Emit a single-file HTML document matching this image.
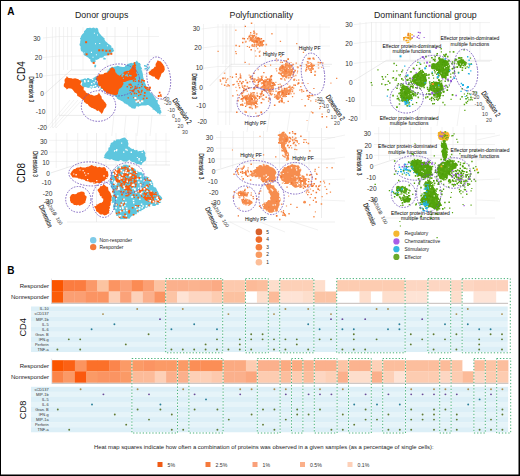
<!DOCTYPE html>
<html><head><meta charset="utf-8"><style>
html,body{margin:0;padding:0;background:#fff;}
#wrap{position:relative;width:520px;height:476px;overflow:hidden;background:#fff;}
svg{position:absolute;left:0;top:0;}
</style></head><body><div id="wrap">
<svg width="520" height="476" viewBox="0 0 520 476">
<rect x="0" y="0" width="520" height="476" fill="#fff"/>
<text x="7.3" y="14.6" font-size="10" font-weight="bold" fill="#000" font-family="&quot;Liberation Sans&quot;, sans-serif">A</text><text x="75" y="18.1" font-size="8.8" fill="#222" font-family="&quot;Liberation Sans&quot;, sans-serif">Donor groups</text><text x="229.6" y="18.1" font-size="8.8" fill="#222" font-family="&quot;Liberation Sans&quot;, sans-serif">Polyfunctionality</text><text x="374" y="18.1" font-size="8.8" fill="#222" font-family="&quot;Liberation Sans&quot;, sans-serif">Dominant functional group</text><line x1="46.6" y1="27" x2="46.6" y2="128" stroke="#e4e4e4" stroke-width="0.5"/><line x1="52.4" y1="27" x2="52.4" y2="128" stroke="#e4e4e4" stroke-width="0.5"/><line x1="55.8" y1="27" x2="55.8" y2="128" stroke="#e4e4e4" stroke-width="0.5"/><line x1="59.3" y1="27" x2="59.3" y2="116" stroke="#dcdcdc" stroke-width="0.5"/><line x1="115" y1="27" x2="115" y2="70" stroke="#dcdcdc" stroke-width="0.5"/><line x1="63.6" y1="27" x2="63.6" y2="70" stroke="#e4e4e4" stroke-width="0.5"/><line x1="67.6" y1="27" x2="67.6" y2="70" stroke="#e4e4e4" stroke-width="0.5"/><line x1="71.6" y1="27" x2="71.6" y2="70" stroke="#e4e4e4" stroke-width="0.5"/><line x1="83" y1="27" x2="83" y2="70" stroke="#e4e4e4" stroke-width="0.5"/><line x1="95" y1="27" x2="95" y2="70" stroke="#e4e4e4" stroke-width="0.5"/><line x1="107" y1="27" x2="107" y2="70" stroke="#e4e4e4" stroke-width="0.5"/><line x1="127.5" y1="27" x2="127.5" y2="70" stroke="#e4e4e4" stroke-width="0.5"/><line x1="137.5" y1="27" x2="137.5" y2="70" stroke="#e4e4e4" stroke-width="0.5"/><line x1="148.75" y1="27" x2="148.75" y2="70" stroke="#e4e4e4" stroke-width="0.5"/><line x1="43" y1="38" x2="59.3" y2="36.5" stroke="#e4e4e4" stroke-width="0.5"/><line x1="59.3" y1="36.5" x2="159" y2="36.5" stroke="#e4e4e4" stroke-width="0.5"/><line x1="43" y1="57.5" x2="59.3" y2="56.0" stroke="#e4e4e4" stroke-width="0.5"/><line x1="59.3" y1="56.0" x2="159" y2="56.0" stroke="#e4e4e4" stroke-width="0.5"/><line x1="43" y1="76" x2="59.3" y2="74.5" stroke="#e4e4e4" stroke-width="0.5"/><line x1="59.3" y1="74.5" x2="159" y2="74.5" stroke="#e4e4e4" stroke-width="0.5"/><line x1="44" y1="94.3" x2="71.2" y2="70" stroke="#d6d6d6" stroke-width="0.5"/><line x1="71.2" y1="70" x2="160" y2="70" stroke="#d6d6d6" stroke-width="0.5"/><line x1="59.3" y1="115.4" x2="166" y2="115.4" stroke="#d6d6d6" stroke-width="0.5"/><line x1="113.8" y1="115.6" x2="111.8" y2="136" stroke="#e4e4e4" stroke-width="0.5"/><line x1="126" y1="115.6" x2="124" y2="136" stroke="#e4e4e4" stroke-width="0.5"/><line x1="139" y1="115.6" x2="137" y2="136" stroke="#e4e4e4" stroke-width="0.5"/><line x1="152" y1="115.6" x2="150" y2="136" stroke="#e4e4e4" stroke-width="0.5"/><line x1="47" y1="128" x2="70" y2="100" stroke="#e4e4e4" stroke-width="0.5"/><line x1="50" y1="128" x2="74" y2="100" stroke="#e4e4e4" stroke-width="0.5"/><line x1="53" y1="128" x2="78" y2="100" stroke="#e4e4e4" stroke-width="0.5"/><line x1="56" y1="128" x2="82" y2="100" stroke="#e4e4e4" stroke-width="0.5"/><text x="40.5" y="41.099999999999994" font-size="6.6" text-anchor="end" fill="#333" font-family="&quot;Liberation Sans&quot;, sans-serif" >30</text><text x="42.2" y="60.3" font-size="6.6" text-anchor="end" fill="#333" font-family="&quot;Liberation Sans&quot;, sans-serif" >20</text><text x="42.7" y="78.3" font-size="6.6" text-anchor="end" fill="#333" font-family="&quot;Liberation Sans&quot;, sans-serif" >10</text><text x="43.8" y="96.3" font-size="6.6" text-anchor="end" fill="#333" font-family="&quot;Liberation Sans&quot;, sans-serif" >0</text><text x="45.3" y="114.3" font-size="6.6" text-anchor="end" fill="#333" font-family="&quot;Liberation Sans&quot;, sans-serif" >-10</text><text x="47" y="130.3" font-size="6.6" text-anchor="end" fill="#333" font-family="&quot;Liberation Sans&quot;, sans-serif" >-20</text><text x="0" y="0" font-size="8" text-anchor="start" fill="#111" font-family="&quot;Liberation Sans&quot;, sans-serif" transform="translate(28.8,76.5) rotate(90) scale(0.58,1)" stroke="#111" stroke-width="0.12">Dimension 3</text><text x="0" y="0" font-size="10" text-anchor="middle" fill="#111" font-family="&quot;Liberation Sans&quot;, sans-serif" transform="translate(24.9,71.3) rotate(-90)">CD4</text><polygon points="84.0,31.2 85.7,29.8 86.1,28.7 87.2,28.1 89.3,27.9 89.9,27.4 91.3,28.3 93.5,27.4 95.4,28.4 96.4,27.7 96.6,27.7 97.9,28.6 98.3,29.7 98.5,31.5 99.6,33.6 100.4,34.3 101.0,35.3 101.6,35.8 103.7,37.8 104.8,38.4 104.4,38.9 104.7,39.9 105.7,41.6 106.8,42.2 107.9,43.5 107.6,43.3 110.1,44.9 111.5,46.1 111.2,47.4 113.2,47.9 113.2,49.0 114.2,51.1 112.8,51.9 111.5,52.7 111.2,53.8 109.7,54.6 108.0,55.3 106.8,55.5 105.3,55.7 103.9,56.0 103.6,57.2 101.3,57.8 99.8,57.7 99.2,58.7 96.6,60.0 95.8,60.3 95.6,61.7 93.4,62.8 91.8,62.5 90.7,61.5 90.3,60.3 90.4,59.3 89.2,58.8 87.7,57.1 87.7,57.4 85.7,55.9 85.4,55.9 83.7,54.9 83.6,53.4 82.3,51.4 81.1,51.2 80.7,49.5 80.5,48.4 80.7,46.4 79.8,45.8 79.4,43.8 80.1,43.4 80.2,41.2 80.6,39.8 79.9,38.5 81.0,36.9 81.1,35.9 82.3,34.3 82.7,34.1 84.1,32.6" fill="#5ec6de" /><rect x="85.1" y="41.2" width="2" height="2" fill="#fa5a0a"/><rect x="98.2" y="49.3" width="2" height="2" fill="#fa5a0a"/><rect x="101.7" y="49.3" width="2" height="2" fill="#fa5a0a"/><rect x="105.3" y="49.8" width="2" height="2" fill="#fa5a0a"/><rect x="108.8" y="49.8" width="2" height="2" fill="#fa5a0a"/><rect x="107.3" y="53.3" width="2" height="2" fill="#fa5a0a"/><rect x="110.3" y="52.8" width="2" height="2" fill="#fa5a0a"/><rect x="85.6" y="53.3" width="2" height="2" fill="#fa5a0a"/><rect x="92.7" y="61.9" width="2" height="2" fill="#fa5a0a"/><path d="M94.6 64.7h1.6v1.6h-1.6zM94.3 65.6h1.7v1.7h-1.7z" fill="#5ec6de"/><path d="M103.3 57.8h1.7v1.7h-1.7zM104.2 57.9h1.5v1.5h-1.5z" fill="#5ec6de"/><path d="M83.8 52.4h0.9v0.9h-0.9zM106.9 45.2h1.0v1.0h-1.0zM95.0 43.3h1.0v1.0h-1.0zM95.9 54.2h1.0v1.0h-1.0zM95.5 59.7h1.0v1.0h-1.0zM92.5 56.8h1.0v1.0h-1.0zM90.9 51.8h1.1v1.1h-1.1zM97.0 34.4h1.0v1.0h-1.0zM99.2 42.9h1.1v1.1h-1.1zM93.9 32.7h1.0v1.0h-1.0z" fill="#ffffff"/><polygon points="110.0,68.3 111.6,66.9 111.9,66.8 113.6,67.0 115.6,66.4 116.6,66.3 117.2,65.7 118.5,66.1 119.6,66.5 121.0,66.8 122.8,66.9 124.9,66.8 124.4,67.2 125.8,64.9 127.3,65.2 127.2,64.1 128.6,63.7 130.7,63.1 132.1,62.7 132.6,63.4 134.2,62.2 135.9,61.8 136.8,60.5 138.4,62.7 139.9,63.0 140.0,63.2 140.9,64.9 140.3,65.4 141.0,67.1 142.1,68.3 141.2,70.1 142.2,70.8 142.3,72.1 142.9,74.0 142.9,75.1 143.2,76.6 143.2,77.2 143.9,79.0 143.7,80.0 144.1,81.0 145.3,83.5 146.0,84.9 146.2,86.3 147.1,86.2 148.4,88.4 147.8,88.4 149.7,89.6 149.5,90.1 150.0,92.2 152.4,93.8 152.5,93.3 153.1,95.6 154.7,96.4 154.5,97.3 155.7,98.5 156.1,100.1 157.9,99.9 157.5,102.3 158.0,103.8 158.9,104.7 159.7,105.2 159.5,106.6 160.6,108.5 160.1,110.1 161.0,110.3 161.5,112.8 160.6,113.3 160.1,114.9 158.8,113.3 157.5,113.4 156.8,112.1 155.0,110.8 154.5,110.0 152.3,109.2 152.7,108.3 151.6,107.4 150.0,106.2 148.3,104.9 146.9,105.1 146.4,105.5 144.4,105.6 142.3,105.6 141.8,105.5 139.7,105.9 138.4,106.7 136.6,106.0 135.8,107.7 135.5,108.4 134.7,108.7 131.7,108.3 130.8,107.3 130.1,106.8 128.3,106.1 128.4,104.9 126.4,104.3 125.1,103.5 124.1,103.2 123.4,102.1 121.8,101.0 121.5,100.9 119.3,99.8 118.8,99.8 116.7,98.3 116.5,97.1 115.3,96.5 114.6,95.8 113.0,94.9 111.9,94.3 110.3,93.8 108.9,93.0 107.6,93.1 106.5,91.6 106.2,91.2 105.3,91.0 103.3,90.7 102.9,89.1 100.5,88.9 100.5,88.2 101.0,86.7 101.3,85.4 101.5,84.5 102.0,83.4 103.3,81.9 102.9,80.9 104.6,80.3 103.7,79.6 105.6,78.5 105.3,77.3 105.8,75.2 107.3,75.2 106.8,74.2 107.0,72.1 107.6,70.8 108.4,70.6 109.1,68.6" fill="#5ec6de" /><polygon points="80.3,79.8 82.7,79.2 83.3,78.9 85.2,78.3 86.5,79.3 87.3,77.9 88.5,77.9 89.9,79.0 91.7,78.9 92.7,78.2 94.7,77.3 96.3,76.1 96.9,77.0 98.0,76.0 100.5,77.2 99.6,78.3 100.7,79.2 99.3,80.7 99.4,81.9 99.2,83.9 100.6,84.5 99.8,85.6 99.5,87.2 97.6,86.4 95.4,88.0 94.1,88.0 93.2,87.0 91.5,88.7 90.3,88.1 89.8,87.5 88.0,88.1 87.1,87.4 85.4,87.1 83.9,87.3 82.5,86.7 81.6,84.5 82.5,82.6 81.2,82.1" fill="#5ec6de" /><path d="M93.3 82.0h1.1v1.1h-1.1zM93.8 82.4h1.2v1.2h-1.2zM87.5 80.3h1.6v1.6h-1.6zM91.2 86.2h1.3v1.3h-1.3zM84.0 80.0h1.5v1.5h-1.5zM96.4 80.9h1.1v1.1h-1.1zM94.9 80.3h1.3v1.3h-1.3zM93.0 85.7h1.4v1.4h-1.4zM96.7 80.8h1.7v1.7h-1.7zM84.2 80.9h1.5v1.5h-1.5zM89.9 86.3h1.3v1.3h-1.3zM91.8 78.4h1.5v1.5h-1.5zM94.8 85.1h1.5v1.5h-1.5zM91.0 83.1h1.4v1.4h-1.4z" fill="#fff"/><path d="M144.5 67.9h1.6v1.6h-1.6zM146.8 68.9h1.5v1.5h-1.5zM148.7 66.4h1.3v1.3h-1.3zM145.7 67.7h1.4v1.4h-1.4zM147.7 67.5h1.6v1.6h-1.6zM144.0 65.0h1.5v1.5h-1.5zM146.8 63.8h1.3v1.3h-1.3zM145.4 65.4h1.7v1.7h-1.7z" fill="#5ec6de"/><polygon points="63.9,84.0 64.8,82.8 64.5,80.5 64.8,79.1 66.4,77.4 66.8,75.9 68.1,77.8 70.5,78.3 70.9,78.1 72.7,78.7 75.1,78.3 76.8,78.7 78.5,79.3 79.1,79.9 81.0,80.4 81.3,81.2 81.3,82.5 80.2,84.2 82.2,86.2 83.8,87.1 83.7,88.7 83.7,90.2 85.2,90.8 85.9,92.6 87.5,93.3 89.5,94.1 90.3,94.7 91.8,94.8 93.2,95.5 94.3,95.7 96.8,95.0 98.1,94.2 98.8,92.6 100.8,95.7 101.4,96.3 101.9,98.9 103.6,99.9 103.7,101.0 105.0,101.9 105.7,103.3 106.6,104.5 106.3,105.9 106.1,106.9 105.0,108.1 103.9,109.6 103.1,111.8 102.6,112.7 101.4,114.3 101.3,113.1 99.8,111.9 98.9,110.6 97.1,111.1 95.7,109.4 94.4,109.0 92.5,108.1 91.3,107.8 89.8,106.4 89.4,106.6 88.4,105.2 87.6,104.0 85.6,103.5 85.8,102.9 84.0,102.0 84.0,100.5 82.7,99.7 81.2,98.6 80.1,97.6 78.6,96.6 77.3,96.1 77.0,94.0 76.2,93.2 74.7,92.4 73.5,90.7 72.6,89.7 72.1,88.9 70.7,88.5 68.6,88.2 66.7,89.5 66.4,88.9 66.3,88.6 64.4,86.9 63.7,86.2" fill="#fa5a0a" /><polygon points="96.5,76.3 98.4,75.8 98.9,74.1 100.9,74.5 101.7,74.3 103.3,74.3 104.3,73.0 106.8,72.6 107.3,72.7 108.6,70.9 109.3,70.7 109.5,69.8 110.3,68.5 112.3,67.2 114.3,68.8 115.1,70.1 115.4,72.3 116.3,72.9 117.2,74.5 117.7,74.6 119.7,76.0 119.8,75.2 120.9,75.0 122.3,73.3 123.8,72.6 124.1,71.8 125.8,71.3 127.1,70.7 128.6,71.1 129.9,69.7 131.2,68.6 132.1,66.5 132.8,65.1 134.0,64.9 133.6,62.5 135.2,61.9 135.3,64.2 136.4,65.0 135.4,66.5 136.0,67.3 135.7,68.8 136.7,70.8 136.3,71.9 136.1,73.1 137.6,74.8 136.7,76.6 136.1,76.7 134.9,77.6 134.5,78.8 134.0,79.2 131.7,80.0 131.3,79.9 129.7,80.2 128.0,80.7 127.1,81.1 125.0,82.0 123.2,82.1 123.5,84.0 122.7,85.2 122.1,86.7 120.4,88.2 119.9,88.4 118.9,89.1 118.4,91.4 118.0,92.2 118.0,94.0 116.4,95.0 114.7,95.2 113.5,94.7 111.8,94.6 111.1,94.4 109.6,93.8 108.2,93.7 106.4,93.4 105.8,91.8 103.8,90.6 103.1,89.7 103.0,89.1 100.7,87.8 100.9,86.6 98.8,86.0 98.4,85.1 98.1,83.9 97.7,81.4 96.9,80.3 95.5,79.0 96.7,76.9" fill="#fa5a0a" /><path d="M126.3 73.8h1.2v1.2h-1.2zM125.1 74.7h1.6v1.6h-1.6zM126.4 74.5h1.5v1.5h-1.5zM121.4 75.1h1.7v1.7h-1.7zM130.0 75.0h1.6v1.6h-1.6zM127.8 72.1h1.1v1.1h-1.1zM129.0 74.8h1.2v1.2h-1.2zM121.7 73.3h1.7v1.7h-1.7zM122.8 77.8h1.1v1.1h-1.1zM129.5 74.9h1.4v1.4h-1.4zM127.3 76.0h1.1v1.1h-1.1zM122.6 73.7h1.6v1.6h-1.6z" fill="#5ec6de"/><polygon points="157.7,60.2 159.0,61.0 160.8,61.5 161.9,63.1 163.2,64.4 163.2,65.0 164.3,66.2 164.5,67.4 164.8,69.6 164.4,70.5 163.7,71.9 162.2,72.9 161.5,73.6 161.0,75.1 160.4,76.9 159.8,77.4 159.4,79.1 158.4,80.0 156.0,78.6 155.2,78.2 154.8,76.7 152.8,76.5 151.9,76.1 150.2,75.1 149.6,74.9 148.4,72.6 149.3,71.4 150.6,70.7 151.2,69.7 153.0,68.7 154.0,67.9 154.4,66.8 155.7,66.7 155.5,64.7 155.7,63.7 156.2,63.0" fill="#fa5a0a" /><path d="M142.7 97.8h1.6v1.6h-1.6zM131.2 89.9h1.7v1.7h-1.7zM140.6 81.2h1.5v1.5h-1.5zM137.4 90.0h1.4v1.4h-1.4zM134.2 87.5h1.7v1.7h-1.7zM138.1 95.1h1.2v1.2h-1.2zM148.3 89.0h1.7v1.7h-1.7zM135.5 87.8h1.4v1.4h-1.4zM132.7 89.2h1.8v1.8h-1.8zM133.7 92.6h1.7v1.7h-1.7zM146.1 97.4h1.5v1.5h-1.5zM130.0 87.0h1.5v1.5h-1.5zM138.1 91.3h1.7v1.7h-1.7zM138.4 99.9h1.3v1.3h-1.3zM149.2 87.0h1.7v1.7h-1.7zM138.0 80.1h1.6v1.6h-1.6zM143.6 94.9h1.7v1.7h-1.7zM140.9 100.1h1.7v1.7h-1.7zM130.6 93.2h1.5v1.5h-1.5zM127.5 97.2h1.4v1.4h-1.4zM141.1 89.8h1.6v1.6h-1.6zM146.4 88.9h1.5v1.5h-1.5zM126.6 86.1h1.3v1.3h-1.3zM129.7 83.6h1.6v1.6h-1.6zM139.6 93.8h1.4v1.4h-1.4zM144.1 86.1h1.6v1.6h-1.6zM135.9 93.0h1.2v1.2h-1.2zM141.8 79.5h1.4v1.4h-1.4zM132.8 80.1h1.7v1.7h-1.7zM145.1 87.1h1.8v1.8h-1.8zM146.8 86.9h1.7v1.7h-1.7zM129.4 89.7h1.3v1.3h-1.3zM141.1 86.0h1.2v1.2h-1.2zM141.1 79.3h1.5v1.5h-1.5zM138.9 87.0h1.4v1.4h-1.4zM135.3 96.9h1.3v1.3h-1.3zM144.0 92.1h1.7v1.7h-1.7zM148.4 88.2h1.5v1.5h-1.5zM137.1 101.0h1.5v1.5h-1.5zM137.0 87.3h1.3v1.3h-1.3zM143.2 80.0h1.7v1.7h-1.7zM130.4 84.6h1.5v1.5h-1.5zM141.5 83.8h1.5v1.5h-1.5zM135.5 99.8h1.2v1.2h-1.2zM132.4 78.6h1.2v1.2h-1.2zM128.5 83.8h1.7v1.7h-1.7zM131.6 86.2h1.4v1.4h-1.4zM149.3 86.4h1.3v1.3h-1.3zM140.7 91.5h1.2v1.2h-1.2zM132.5 90.6h1.7v1.7h-1.7zM134.6 85.7h1.5v1.5h-1.5zM133.2 96.9h1.3v1.3h-1.3zM140.1 93.7h1.4v1.4h-1.4zM135.0 80.8h1.2v1.2h-1.2zM134.2 78.3h1.7v1.7h-1.7z" fill="#fa5a0a"/><path d="M134.4 96.9h2.1v2.1h-2.1zM137.4 99.7h2.0v2.0h-2.0zM135.5 100.6h2.0v2.0h-2.0zM139.0 101.7h1.8v1.8h-1.8zM141.4 100.3h1.9v1.9h-1.9zM141.0 100.3h2.0v2.0h-2.0z" fill="#fff"/><path d="M159.0 91.7h1.3v1.3h-1.3zM159.9 94.2h1.6v1.6h-1.6zM160.4 95.8h1.3v1.3h-1.3zM158.8 91.7h1.7v1.7h-1.7zM157.8 95.1h1.8v1.8h-1.8z" fill="#fa5a0a"/><ellipse cx="158.7" cy="78" rx="11.7" ry="21.2" transform="rotate(-8.5 158.7 78)" fill="none" stroke="#6f52b8" stroke-width="0.85" stroke-dasharray="1.6 1.3"/><ellipse cx="118" cy="80" rx="21.5" ry="16" transform="rotate(-5 118 80)" fill="none" stroke="#6f52b8" stroke-width="0.85" stroke-dasharray="1.6 1.3"/><ellipse cx="98.5" cy="106" rx="17.2" ry="15.3" transform="rotate(-8 98.5 106)" fill="none" stroke="#6f52b8" stroke-width="0.85" stroke-dasharray="1.6 1.3"/><text x="0" y="0" font-size="7.4" text-anchor="start" fill="#111" font-family="&quot;Liberation Sans&quot;, sans-serif" transform="translate(172.2,100.5) rotate(57) scale(0.7,1)" stroke="#111" stroke-width="0.12">Dimension 2</text><text x="162" y="101" font-size="5.2" text-anchor="start" fill="#444" font-family="&quot;Liberation Sans&quot;, sans-serif" >-30</text><text x="164" y="105" font-size="5.2" text-anchor="start" fill="#444" font-family="&quot;Liberation Sans&quot;, sans-serif" >-20</text><text x="167.5" y="112" font-size="5.2" text-anchor="start" fill="#444" font-family="&quot;Liberation Sans&quot;, sans-serif" >-10</text><text x="172" y="117.5" font-size="5.2" text-anchor="start" fill="#444" font-family="&quot;Liberation Sans&quot;, sans-serif" >0</text><text x="174.5" y="122" font-size="5.2" text-anchor="start" fill="#444" font-family="&quot;Liberation Sans&quot;, sans-serif" >10</text><text x="177.5" y="128" font-size="5.2" text-anchor="start" fill="#444" font-family="&quot;Liberation Sans&quot;, sans-serif" >20</text><text x="182" y="134" font-size="5.2" text-anchor="start" fill="#444" font-family="&quot;Liberation Sans&quot;, sans-serif" >30</text><line x1="203.5" y1="24" x2="203.5" y2="125" stroke="#e4e4e4" stroke-width="0.5"/><line x1="218" y1="24" x2="218" y2="125" stroke="#e4e4e4" stroke-width="0.5"/><line x1="225.8" y1="24" x2="225.8" y2="125" stroke="#e4e4e4" stroke-width="0.5"/><line x1="229.6" y1="24" x2="229.6" y2="125" stroke="#e4e4e4" stroke-width="0.5"/><line x1="231" y1="24" x2="231" y2="112" stroke="#dcdcdc" stroke-width="0.5"/><line x1="222.9" y1="24" x2="222.9" y2="64" stroke="#e4e4e4" stroke-width="0.5"/><line x1="226.9" y1="24" x2="226.9" y2="64" stroke="#e4e4e4" stroke-width="0.5"/><line x1="234.3" y1="24" x2="234.3" y2="64" stroke="#e4e4e4" stroke-width="0.5"/><line x1="244.4" y1="24" x2="244.4" y2="64" stroke="#e4e4e4" stroke-width="0.5"/><line x1="254.5" y1="24" x2="254.5" y2="64" stroke="#e4e4e4" stroke-width="0.5"/><line x1="265.3" y1="24" x2="265.3" y2="64" stroke="#e4e4e4" stroke-width="0.5"/><line x1="276" y1="24" x2="276" y2="64" stroke="#e4e4e4" stroke-width="0.5"/><line x1="287" y1="24" x2="287" y2="64" stroke="#e4e4e4" stroke-width="0.5"/><line x1="298" y1="24" x2="298" y2="64" stroke="#e4e4e4" stroke-width="0.5"/><line x1="309" y1="24" x2="309" y2="64" stroke="#e4e4e4" stroke-width="0.5"/><line x1="320" y1="24" x2="320" y2="64" stroke="#e4e4e4" stroke-width="0.5"/><line x1="201.5" y1="29" x2="218" y2="27" stroke="#e4e4e4" stroke-width="0.5"/><line x1="218" y1="27" x2="330" y2="27" stroke="#e4e4e4" stroke-width="0.5"/><line x1="201.5" y1="48" x2="218" y2="46" stroke="#e4e4e4" stroke-width="0.5"/><line x1="218" y1="46" x2="330" y2="46" stroke="#e4e4e4" stroke-width="0.5"/><line x1="201.5" y1="68.5" x2="218" y2="66.5" stroke="#e4e4e4" stroke-width="0.5"/><line x1="218" y1="66.5" x2="330" y2="66.5" stroke="#e4e4e4" stroke-width="0.5"/><line x1="209.6" y1="86" x2="231" y2="64.3" stroke="#d6d6d6" stroke-width="0.5"/><line x1="231" y1="64.3" x2="332" y2="64.3" stroke="#d6d6d6" stroke-width="0.5"/><line x1="218" y1="112" x2="330" y2="112" stroke="#dcdcdc" stroke-width="0.5"/><line x1="250" y1="112" x2="247" y2="132" stroke="#e4e4e4" stroke-width="0.5"/><line x1="270" y1="112" x2="267" y2="132" stroke="#e4e4e4" stroke-width="0.5"/><line x1="290" y1="112" x2="287" y2="132" stroke="#e4e4e4" stroke-width="0.5"/><line x1="310" y1="112" x2="307" y2="132" stroke="#e4e4e4" stroke-width="0.5"/><text x="200" y="30.8" font-size="6.6" text-anchor="end" fill="#333" font-family="&quot;Liberation Sans&quot;, sans-serif" >30</text><text x="201.6" y="50.3" font-size="6.6" text-anchor="end" fill="#333" font-family="&quot;Liberation Sans&quot;, sans-serif" >20</text><text x="203" y="70.3" font-size="6.6" text-anchor="end" fill="#333" font-family="&quot;Liberation Sans&quot;, sans-serif" >10</text><text x="203" y="89.5" font-size="6.6" text-anchor="end" fill="#333" font-family="&quot;Liberation Sans&quot;, sans-serif" >0</text><text x="205.8" y="108.0" font-size="6.6" text-anchor="end" fill="#333" font-family="&quot;Liberation Sans&quot;, sans-serif" >-10</text><text x="207" y="124.3" font-size="6.6" text-anchor="end" fill="#333" font-family="&quot;Liberation Sans&quot;, sans-serif" >-20</text><text x="0" y="0" font-size="8" text-anchor="start" fill="#111" font-family="&quot;Liberation Sans&quot;, sans-serif" transform="translate(192,73.5) rotate(90) scale(0.58,1)" stroke="#111" stroke-width="0.12">Dimension 3</text><polygon points="265.5,80.7 266.6,78.9 268.4,78.3 270.0,79.0 271.1,80.5 271.1,81.1 272.5,82.3 274.2,83.3 273.4,84.9 272.9,85.9 274.1,87.5 274.2,88.8 272.4,89.5 271.2,90.2 271.4,92.6 270.4,92.5 268.9,92.5 267.0,93.2 265.8,91.1 264.5,91.4 263.4,90.0 263.0,88.3 262.6,87.5 261.3,86.7 263.1,85.3 262.8,84.0 263.6,81.7 265.0,81.5" fill="#f68d4e" /><path d="M271.3 83.5h1.2v1.2h-1.2zM271.7 83.8h1.1v1.1h-1.1zM266.2 86.4h1.2v1.2h-1.2zM267.4 78.5h1.1v1.1h-1.1zM267.1 91.1h1.3v1.3h-1.3zM267.8 80.1h1.1v1.1h-1.1zM266.2 89.3h1.3v1.3h-1.3zM269.7 89.8h1.4v1.4h-1.4zM266.4 79.7h1.3v1.3h-1.3zM269.0 86.8h1.4v1.4h-1.4z" fill="#ffffff"/><polygon points="279.2,67.2 279.9,66.7 281.4,65.1 283.3,64.3 285.0,64.3 285.3,63.5 287.2,63.7 287.9,64.3 289.3,65.2 290.5,64.8 291.4,64.7 292.1,66.8 292.7,67.8 293.4,69.5 292.8,70.7 293.7,72.2 292.4,73.2 291.5,74.7 291.8,75.1 290.7,75.7 289.8,76.1 287.3,76.5 287.3,77.5 285.3,77.3 284.9,76.8 282.6,77.8 282.0,76.7 281.1,75.7 280.0,73.8 279.9,72.3 280.3,72.5 279.5,70.9 279.0,69.1 279.5,68.2" fill="#f68d4e" /><path d="M282.1 73.7h1.3v1.3h-1.3zM290.7 67.6h1.2v1.2h-1.2zM283.5 65.1h1.1v1.1h-1.1zM282.6 69.7h1.0v1.0h-1.0zM283.5 64.3h1.0v1.0h-1.0zM280.1 71.4h1.3v1.3h-1.3zM284.9 68.6h1.1v1.1h-1.1zM280.9 70.7h1.2v1.2h-1.2zM287.9 67.7h1.1v1.1h-1.1zM292.2 66.9h1.1v1.1h-1.1z" fill="#ffffff"/><polygon points="274.0,96.5 274.8,96.5 276.3,94.5 277.6,94.6 277.3,93.2 278.8,91.7 279.7,91.9 280.4,90.7 282.3,89.9 283.6,89.8 284.2,88.3 284.5,88.6 285.9,87.8 288.2,87.3 288.7,86.0 289.4,85.6 292.0,87.4 292.0,87.3 292.6,90.0 291.3,90.1 290.7,92.4 289.6,93.5 289.0,93.7 288.7,93.6 286.7,94.4 285.5,96.3 284.3,97.1 283.8,97.2 282.8,97.0 281.2,97.7 280.1,98.0 279.3,99.0 278.3,100.1 277.5,100.0 275.7,98.7 275.5,97.4" fill="#f68d4e" /><path d="M288.3 88.0h1.3v1.3h-1.3zM281.0 95.8h1.0v1.0h-1.0zM280.9 96.2h1.3v1.3h-1.3zM280.2 93.7h1.4v1.4h-1.4zM280.1 92.4h1.3v1.3h-1.3zM280.9 91.3h1.1v1.1h-1.1zM287.6 88.2h1.3v1.3h-1.3zM286.9 93.2h1.2v1.2h-1.2zM281.8 94.9h1.0v1.0h-1.0zM290.4 86.6h1.0v1.0h-1.0z" fill="#ffffff"/><polygon points="243.5,96.8 244.8,95.9 247.1,94.7 248.2,95.1 248.2,93.3 250.3,94.9 251.4,94.9 253.3,95.5 254.2,94.8 255.4,96.2 256.0,97.5 256.9,98.2 258.3,99.6 257.2,100.8 258.2,100.8 256.8,102.8 256.9,104.6 255.1,103.7 255.1,105.3 253.2,105.2 252.1,106.6 251.2,105.6 249.0,104.9 248.3,105.2 247.8,104.8 246.4,104.6 245.8,102.3 246.0,101.6 245.6,100.7 244.8,99.3 243.9,98.6" fill="#f68d4e" /><path d="M247.4 99.7h1.2v1.2h-1.2zM251.2 104.4h1.2v1.2h-1.2zM252.5 98.1h1.2v1.2h-1.2zM255.3 99.0h1.4v1.4h-1.4zM253.0 99.3h1.0v1.0h-1.0zM249.1 93.7h1.1v1.1h-1.1zM251.8 104.5h1.3v1.3h-1.3zM251.9 97.2h1.1v1.1h-1.1zM248.1 95.5h1.1v1.1h-1.1zM251.4 105.0h1.3v1.3h-1.3z" fill="#ffffff"/><polygon points="249.9,36.1 251.8,36.1 252.2,34.8 254.4,35.3 255.2,36.5 256.1,36.2 256.7,36.5 258.5,37.9 259.0,38.2 260.7,39.5 260.3,40.8 262.4,40.5 263.3,41.5 262.9,44.0 264.4,44.0 263.4,45.8 262.1,46.7 260.7,46.3 260.3,46.9 259.0,45.9 258.1,45.8 256.2,45.0 255.2,44.0 254.8,43.5 253.3,42.6 251.9,41.7 250.9,40.0 250.9,38.6 250.0,37.4" fill="#f68d4e" /><path d="M253.2 38.5h1.1v1.1h-1.1zM261.2 41.4h1.1v1.1h-1.1zM259.1 44.0h1.1v1.1h-1.1zM255.2 42.7h1.2v1.2h-1.2zM257.7 41.6h1.0v1.0h-1.0zM254.7 38.6h1.3v1.3h-1.3zM256.4 37.0h1.1v1.1h-1.1zM254.1 36.6h1.3v1.3h-1.3zM260.1 46.0h1.2v1.2h-1.2zM250.5 36.0h1.3v1.3h-1.3z" fill="#ffffff"/><polygon points="305.4,64.6 307.1,63.6 308.7,63.0 310.6,62.0 312.4,63.4 312.8,63.1 314.0,64.4 314.9,65.7 315.7,65.6 313.2,66.6 312.5,68.4 312.4,69.8 311.2,69.4 310.1,69.4 307.8,69.5 308.0,67.4 306.6,66.0 305.8,65.6" fill="#f68d4e" /><path d="M309.7 67.1h1.2v1.2h-1.2zM306.6 63.7h1.3v1.3h-1.3zM312.6 63.6h1.1v1.1h-1.1zM309.5 62.8h1.1v1.1h-1.1zM307.4 64.4h1.2v1.2h-1.2zM312.2 62.3h1.3v1.3h-1.3zM308.3 64.0h1.1v1.1h-1.1zM309.9 64.5h1.1v1.1h-1.1zM308.7 67.2h1.1v1.1h-1.1zM308.7 63.7h1.2v1.2h-1.2z" fill="#ffffff"/><path d="M254.4 37.6h1.7v1.7h-1.7zM256.9 47.8h1.4v1.4h-1.4zM257.9 41.0h1.4v1.4h-1.4zM255.9 33.0h1.6v1.6h-1.6zM254.5 38.4h1.5v1.5h-1.5zM252.5 38.6h1.7v1.7h-1.7z" fill="#f9ab7d"/><path d="M249.7 37.0h1.5v1.5h-1.5zM261.5 41.5h1.4v1.4h-1.4zM252.8 39.1h1.3v1.3h-1.3zM255.0 36.7h1.5v1.5h-1.5zM247.0 38.0h1.5v1.5h-1.5zM256.9 42.7h1.6v1.6h-1.6zM261.2 40.8h1.3v1.3h-1.3zM251.2 34.8h1.5v1.5h-1.5zM255.7 45.9h1.3v1.3h-1.3zM259.7 41.4h1.5v1.5h-1.5zM249.6 34.4h1.4v1.4h-1.4zM248.8 46.6h1.3v1.3h-1.3zM259.3 43.5h1.5v1.5h-1.5zM255.6 45.2h1.4v1.4h-1.4zM253.6 41.9h1.4v1.4h-1.4zM251.2 38.5h1.6v1.6h-1.6zM253.7 44.1h1.6v1.6h-1.6zM249.5 37.9h1.5v1.5h-1.5z" fill="#f68a48"/><path d="M258.6 37.8h1.6v1.6h-1.6zM253.3 45.7h1.4v1.4h-1.4zM251.6 40.1h1.6v1.6h-1.6zM251.6 44.2h1.6v1.6h-1.6zM253.6 34.7h1.6v1.6h-1.6zM257.0 43.8h1.3v1.3h-1.3zM253.7 32.2h1.6v1.6h-1.6zM255.9 41.1h1.7v1.7h-1.7z" fill="#f57d38"/><path d="M252.3 39.0h1.6v1.6h-1.6zM252.0 45.2h1.5v1.5h-1.5zM265.5 43.8h1.6v1.6h-1.6zM258.0 42.5h1.3v1.3h-1.3zM253.1 32.5h1.5v1.5h-1.5z" fill="#f7a06a"/><path d="M255.4 40.4h1.4v1.4h-1.4zM257.6 37.2h1.5v1.5h-1.5zM262.7 40.0h1.7v1.7h-1.7zM260.0 41.6h1.4v1.4h-1.4zM249.9 39.3h1.4v1.4h-1.4zM256.7 41.2h1.4v1.4h-1.4zM248.7 35.6h1.3v1.3h-1.3zM256.7 37.4h1.3v1.3h-1.3z" fill="#f0702c"/><path d="M258.7 51.3h1.4v1.4h-1.4zM248.2 36.4h1.4v1.4h-1.4zM250.8 22.5h1.5v1.5h-1.5zM246.8 45.9h1.2v1.2h-1.2zM251.4 45.3h1.3v1.3h-1.3zM235.6 53.0h1.3v1.3h-1.3zM257.3 44.2h1.4v1.4h-1.4zM245.1 40.8h1.5v1.5h-1.5zM271.3 33.1h1.3v1.3h-1.3zM235.1 50.9h1.3v1.3h-1.3zM238.7 45.6h1.4v1.4h-1.4zM259.2 45.7h1.2v1.2h-1.2zM251.5 40.5h1.3v1.3h-1.3zM250.0 32.1h1.4v1.4h-1.4zM255.3 55.6h1.2v1.2h-1.2z" fill="#f68a48"/><path d="M248.8 40.2h1.4v1.4h-1.4zM256.7 43.2h1.4v1.4h-1.4zM244.9 41.3h1.4v1.4h-1.4zM254.6 50.2h1.4v1.4h-1.4zM235.2 29.6h1.3v1.3h-1.3zM259.3 50.6h1.3v1.3h-1.3z" fill="#f9ab7d"/><path d="M242.0 41.8h1.5v1.5h-1.5zM253.2 30.5h1.5v1.5h-1.5zM235.4 44.8h1.4v1.4h-1.4zM258.9 55.2h1.5v1.5h-1.5z" fill="#f57d38"/><path d="M242.2 37.8h1.5v1.5h-1.5zM250.5 49.1h1.4v1.4h-1.4zM260.5 38.0h1.6v1.6h-1.6zM244.7 25.7h1.3v1.3h-1.3z" fill="#f0702c"/><path d="M255.8 33.9h1.4v1.4h-1.4z" fill="#f7a06a"/><path d="M272.2 84.4h1.6v1.6h-1.6zM262.7 82.4h1.5v1.5h-1.5zM261.3 90.5h1.6v1.6h-1.6zM260.1 93.8h1.6v1.6h-1.6zM257.6 81.6h1.4v1.4h-1.4zM268.7 79.8h1.7v1.7h-1.7zM261.0 79.0h1.6v1.6h-1.6zM263.4 89.3h1.6v1.6h-1.6zM269.1 78.4h1.5v1.5h-1.5zM260.5 86.8h1.5v1.5h-1.5zM271.9 82.8h1.3v1.3h-1.3zM265.7 80.3h1.5v1.5h-1.5zM269.9 77.6h1.4v1.4h-1.4zM273.9 84.0h1.7v1.7h-1.7zM260.9 92.2h1.7v1.7h-1.7zM265.5 96.6h1.3v1.3h-1.3zM258.2 80.6h1.6v1.6h-1.6zM269.4 92.7h1.7v1.7h-1.7zM262.6 94.3h1.6v1.6h-1.6z" fill="#f0702c"/><path d="M269.7 77.6h1.6v1.6h-1.6zM261.1 77.4h1.4v1.4h-1.4zM272.5 86.1h1.5v1.5h-1.5zM271.1 80.4h1.4v1.4h-1.4zM262.1 75.5h1.3v1.3h-1.3zM261.4 77.5h1.3v1.3h-1.3zM266.1 86.0h1.6v1.6h-1.6zM257.5 68.8h1.4v1.4h-1.4zM265.3 81.0h1.5v1.5h-1.5z" fill="#f9ab7d"/><path d="M262.7 80.1h1.7v1.7h-1.7zM267.9 86.8h1.5v1.5h-1.5zM262.0 85.8h1.7v1.7h-1.7zM270.5 93.8h1.6v1.6h-1.6zM268.7 97.8h1.5v1.5h-1.5zM261.0 86.8h1.4v1.4h-1.4zM269.2 90.2h1.6v1.6h-1.6zM265.3 85.4h1.3v1.3h-1.3zM267.7 81.4h1.4v1.4h-1.4zM268.6 85.0h1.6v1.6h-1.6zM260.8 82.3h1.5v1.5h-1.5zM266.0 86.4h1.5v1.5h-1.5zM273.5 83.1h1.4v1.4h-1.4zM268.9 83.8h1.7v1.7h-1.7zM272.6 90.5h1.3v1.3h-1.3zM264.4 79.2h1.5v1.5h-1.5zM270.0 85.3h1.3v1.3h-1.3zM262.5 81.9h1.4v1.4h-1.4zM261.8 98.2h1.6v1.6h-1.6zM269.9 75.9h1.7v1.7h-1.7zM267.1 80.7h1.4v1.4h-1.4z" fill="#f68a48"/><path d="M267.8 84.9h1.6v1.6h-1.6zM270.7 90.1h1.5v1.5h-1.5zM271.5 88.5h1.7v1.7h-1.7zM268.9 86.9h1.4v1.4h-1.4zM259.6 92.9h1.6v1.6h-1.6zM262.6 87.5h1.5v1.5h-1.5zM263.8 84.5h1.3v1.3h-1.3zM269.3 89.2h1.6v1.6h-1.6zM279.4 83.6h1.4v1.4h-1.4zM263.8 81.1h1.3v1.3h-1.3zM265.3 83.8h1.7v1.7h-1.7z" fill="#f7a06a"/><path d="M265.4 76.5h1.4v1.4h-1.4zM266.6 78.5h1.5v1.5h-1.5zM265.0 80.7h1.6v1.6h-1.6zM263.0 81.0h1.5v1.5h-1.5zM270.5 78.9h1.6v1.6h-1.6zM262.3 82.6h1.3v1.3h-1.3zM259.2 80.1h1.7v1.7h-1.7zM272.7 82.1h1.6v1.6h-1.6zM263.4 81.3h1.6v1.6h-1.6zM263.1 81.4h1.3v1.3h-1.3z" fill="#f57d38"/><path d="M264.2 81.5h1.4v1.4h-1.4zM246.5 81.7h1.7v1.7h-1.7zM251.7 77.6h1.5v1.5h-1.5zM255.3 84.7h1.4v1.4h-1.4zM263.6 84.5h1.5v1.5h-1.5z" fill="#f0702c"/><path d="M252.5 80.5h1.7v1.7h-1.7zM256.8 84.5h1.4v1.4h-1.4zM261.2 76.8h1.3v1.3h-1.3zM259.9 79.2h1.5v1.5h-1.5zM260.5 78.0h1.4v1.4h-1.4zM253.9 88.0h1.5v1.5h-1.5zM254.3 78.4h1.4v1.4h-1.4zM261.3 79.0h1.6v1.6h-1.6z" fill="#f57d38"/><path d="M258.3 78.3h1.4v1.4h-1.4zM253.7 80.0h1.6v1.6h-1.6zM250.2 78.0h1.7v1.7h-1.7zM257.5 76.7h1.6v1.6h-1.6zM265.1 82.5h1.6v1.6h-1.6z" fill="#f9ab7d"/><path d="M259.5 79.5h1.5v1.5h-1.5zM256.0 79.6h1.3v1.3h-1.3zM257.3 78.7h1.6v1.6h-1.6zM257.3 79.0h1.5v1.5h-1.5zM250.2 75.6h1.6v1.6h-1.6zM253.4 78.7h1.6v1.6h-1.6zM256.0 79.5h1.5v1.5h-1.5zM254.2 81.3h1.4v1.4h-1.4zM260.7 75.8h1.3v1.3h-1.3zM257.6 83.5h1.5v1.5h-1.5z" fill="#f68a48"/><path d="M258.6 78.4h1.6v1.6h-1.6zM253.2 78.5h1.6v1.6h-1.6z" fill="#f7a06a"/><path d="M297.0 66.7h1.6v1.6h-1.6zM282.3 65.6h1.3v1.3h-1.3zM285.8 69.9h1.4v1.4h-1.4zM292.8 72.3h1.5v1.5h-1.5zM281.1 78.3h1.3v1.3h-1.3zM281.6 61.8h1.3v1.3h-1.3zM278.8 68.4h1.4v1.4h-1.4zM270.7 75.1h1.6v1.6h-1.6zM285.1 69.9h1.4v1.4h-1.4z" fill="#f0702c"/><path d="M284.6 69.5h1.6v1.6h-1.6zM288.9 69.7h1.3v1.3h-1.3zM286.5 72.8h1.7v1.7h-1.7zM280.7 68.3h1.7v1.7h-1.7zM288.2 71.9h1.4v1.4h-1.4zM288.5 64.2h1.6v1.6h-1.6zM288.0 71.5h1.5v1.5h-1.5zM288.5 63.0h1.3v1.3h-1.3zM294.3 69.7h1.7v1.7h-1.7zM279.6 73.3h1.3v1.3h-1.3zM286.3 72.7h1.5v1.5h-1.5zM290.5 77.0h1.6v1.6h-1.6zM287.8 77.1h1.5v1.5h-1.5zM289.5 74.8h1.6v1.6h-1.6zM278.2 72.3h1.6v1.6h-1.6zM285.1 62.8h1.3v1.3h-1.3zM284.3 60.3h1.3v1.3h-1.3zM285.2 69.0h1.6v1.6h-1.6zM286.0 62.4h1.5v1.5h-1.5zM285.5 76.5h1.5v1.5h-1.5zM280.1 78.0h1.5v1.5h-1.5z" fill="#f68a48"/><path d="M287.7 73.0h1.5v1.5h-1.5zM286.8 69.5h1.6v1.6h-1.6zM285.2 74.5h1.4v1.4h-1.4zM289.4 69.2h1.3v1.3h-1.3zM286.3 66.3h1.7v1.7h-1.7zM276.0 70.3h1.3v1.3h-1.3zM286.7 69.8h1.5v1.5h-1.5zM287.5 72.8h1.4v1.4h-1.4zM290.0 70.9h1.5v1.5h-1.5zM285.8 77.0h1.4v1.4h-1.4zM296.8 66.3h1.6v1.6h-1.6zM290.5 65.7h1.6v1.6h-1.6z" fill="#f7a06a"/><path d="M279.9 61.4h1.5v1.5h-1.5zM275.5 68.0h1.6v1.6h-1.6zM280.8 69.0h1.7v1.7h-1.7zM286.5 74.0h1.5v1.5h-1.5zM291.8 71.9h1.4v1.4h-1.4zM281.1 69.9h1.7v1.7h-1.7zM288.1 68.9h1.7v1.7h-1.7zM286.3 62.3h1.6v1.6h-1.6zM290.2 70.5h1.6v1.6h-1.6z" fill="#f9ab7d"/><path d="M283.7 69.2h1.3v1.3h-1.3zM281.3 70.2h1.3v1.3h-1.3zM292.3 63.8h1.5v1.5h-1.5zM285.1 70.2h1.7v1.7h-1.7zM291.1 65.0h1.4v1.4h-1.4zM287.3 58.2h1.7v1.7h-1.7zM293.2 75.4h1.3v1.3h-1.3zM285.6 60.2h1.5v1.5h-1.5zM281.8 66.9h1.4v1.4h-1.4z" fill="#f57d38"/><path d="M284.9 88.6h1.7v1.7h-1.7zM278.6 95.4h1.3v1.3h-1.3zM283.4 90.9h1.5v1.5h-1.5zM284.3 95.6h1.6v1.6h-1.6zM275.3 90.5h1.5v1.5h-1.5zM278.0 88.4h1.7v1.7h-1.7zM273.9 96.4h1.6v1.6h-1.6z" fill="#f7a06a"/><path d="M281.5 101.1h1.4v1.4h-1.4zM283.5 90.4h1.3v1.3h-1.3zM288.2 93.2h1.6v1.6h-1.6zM277.1 93.0h1.4v1.4h-1.4zM291.9 95.9h1.3v1.3h-1.3zM281.0 90.3h1.4v1.4h-1.4zM267.9 100.4h1.4v1.4h-1.4zM281.4 93.7h1.7v1.7h-1.7zM278.1 86.6h1.6v1.6h-1.6zM277.9 92.3h1.3v1.3h-1.3zM291.5 90.5h1.7v1.7h-1.7zM281.2 91.8h1.6v1.6h-1.6zM281.0 94.2h1.4v1.4h-1.4zM276.3 97.4h1.4v1.4h-1.4zM285.7 95.7h1.3v1.3h-1.3z" fill="#f68a48"/><path d="M273.9 104.5h1.6v1.6h-1.6zM281.0 100.6h1.6v1.6h-1.6zM287.5 100.7h1.4v1.4h-1.4zM278.7 91.0h1.7v1.7h-1.7zM291.7 86.4h1.5v1.5h-1.5z" fill="#f57d38"/><path d="M283.7 87.8h1.4v1.4h-1.4zM278.5 101.0h1.7v1.7h-1.7zM297.7 82.3h1.7v1.7h-1.7zM287.6 93.0h1.7v1.7h-1.7zM286.0 93.7h1.3v1.3h-1.3zM281.1 97.8h1.6v1.6h-1.6zM277.4 91.6h1.5v1.5h-1.5zM282.0 91.8h1.6v1.6h-1.6zM281.3 88.4h1.3v1.3h-1.3z" fill="#f0702c"/><path d="M290.3 88.0h1.7v1.7h-1.7zM287.8 91.4h1.7v1.7h-1.7zM293.1 84.3h1.6v1.6h-1.6zM271.7 93.3h1.4v1.4h-1.4zM283.2 101.9h1.6v1.6h-1.6zM267.9 97.4h1.5v1.5h-1.5zM280.8 84.9h1.6v1.6h-1.6zM277.9 94.7h1.7v1.7h-1.7zM293.3 92.8h1.5v1.5h-1.5zM292.0 89.3h1.3v1.3h-1.3zM279.1 96.0h1.4v1.4h-1.4zM279.4 99.8h1.6v1.6h-1.6zM279.9 95.2h1.4v1.4h-1.4zM271.0 90.5h1.4v1.4h-1.4z" fill="#f9ab7d"/><path d="M246.6 85.7h1.5v1.5h-1.5zM252.4 95.1h1.6v1.6h-1.6zM263.1 98.8h1.5v1.5h-1.5zM254.9 106.9h1.5v1.5h-1.5zM253.8 94.5h1.6v1.6h-1.6zM238.7 96.9h1.3v1.3h-1.3zM241.3 91.9h1.3v1.3h-1.3zM248.8 106.8h1.3v1.3h-1.3zM268.8 98.2h1.7v1.7h-1.7zM242.4 104.6h1.3v1.3h-1.3zM247.7 101.1h1.7v1.7h-1.7zM237.2 99.8h1.7v1.7h-1.7zM252.4 94.0h1.6v1.6h-1.6zM256.7 103.4h1.4v1.4h-1.4zM244.8 89.1h1.5v1.5h-1.5z" fill="#f7a06a"/><path d="M242.3 97.9h1.6v1.6h-1.6zM257.4 115.3h1.5v1.5h-1.5zM249.8 93.9h1.6v1.6h-1.6zM248.9 106.7h1.4v1.4h-1.4zM246.0 103.8h1.4v1.4h-1.4zM250.3 106.4h1.3v1.3h-1.3zM253.3 102.7h1.4v1.4h-1.4zM242.1 96.0h1.4v1.4h-1.4zM241.6 103.6h1.5v1.5h-1.5zM251.2 100.7h1.5v1.5h-1.5zM241.9 100.3h1.5v1.5h-1.5zM254.1 102.4h1.4v1.4h-1.4zM245.2 111.3h1.7v1.7h-1.7zM246.9 98.5h1.7v1.7h-1.7zM250.2 99.7h1.4v1.4h-1.4zM243.4 89.4h1.6v1.6h-1.6zM256.9 85.4h1.5v1.5h-1.5zM248.2 100.2h1.7v1.7h-1.7zM245.4 88.7h1.6v1.6h-1.6zM242.0 86.6h1.4v1.4h-1.4zM258.7 97.7h1.3v1.3h-1.3zM244.3 95.5h1.7v1.7h-1.7zM241.7 94.7h1.6v1.6h-1.6zM253.9 98.2h1.5v1.5h-1.5zM251.5 107.8h1.4v1.4h-1.4zM256.4 92.4h1.4v1.4h-1.4zM257.0 95.5h1.5v1.5h-1.5zM250.5 93.1h1.6v1.6h-1.6zM240.0 104.1h1.7v1.7h-1.7zM240.5 98.5h1.6v1.6h-1.6zM241.9 104.8h1.3v1.3h-1.3zM251.0 104.0h1.4v1.4h-1.4zM241.1 97.9h1.6v1.6h-1.6z" fill="#f68a48"/><path d="M252.1 95.6h1.3v1.3h-1.3zM243.0 97.1h1.4v1.4h-1.4zM256.5 94.7h1.4v1.4h-1.4zM255.2 105.9h1.5v1.5h-1.5zM236.9 94.2h1.3v1.3h-1.3zM249.4 107.3h1.3v1.3h-1.3zM241.4 92.6h1.5v1.5h-1.5zM249.1 95.7h1.3v1.3h-1.3z" fill="#f57d38"/><path d="M255.5 102.5h1.4v1.4h-1.4zM258.9 96.1h1.7v1.7h-1.7zM243.2 87.7h1.6v1.6h-1.6zM243.0 97.5h1.3v1.3h-1.3zM251.3 98.3h1.7v1.7h-1.7zM253.0 91.9h1.7v1.7h-1.7zM245.0 105.7h1.3v1.3h-1.3zM260.4 111.5h1.7v1.7h-1.7zM260.6 102.0h1.6v1.6h-1.6zM254.8 105.1h1.3v1.3h-1.3zM245.2 97.6h1.6v1.6h-1.6zM250.7 97.6h1.4v1.4h-1.4z" fill="#f0702c"/><path d="M250.1 92.3h1.4v1.4h-1.4zM253.1 100.4h1.6v1.6h-1.6zM251.2 100.2h1.6v1.6h-1.6zM251.9 92.1h1.6v1.6h-1.6zM243.6 97.9h1.3v1.3h-1.3zM244.2 102.6h1.4v1.4h-1.4zM242.7 91.8h1.5v1.5h-1.5zM249.0 86.9h1.5v1.5h-1.5zM255.1 112.4h1.4v1.4h-1.4zM256.7 106.0h1.5v1.5h-1.5zM244.2 110.7h1.7v1.7h-1.7zM246.0 104.2h1.6v1.6h-1.6z" fill="#f9ab7d"/><path d="M310.4 71.5h1.6v1.6h-1.6zM309.0 57.8h1.7v1.7h-1.7zM312.5 57.6h1.7v1.7h-1.7zM305.1 70.2h1.4v1.4h-1.4z" fill="#f0702c"/><path d="M306.0 66.6h1.5v1.5h-1.5zM307.8 65.7h1.5v1.5h-1.5zM307.4 57.7h1.7v1.7h-1.7zM314.1 74.3h1.7v1.7h-1.7zM310.1 64.2h1.3v1.3h-1.3zM312.1 65.9h1.3v1.3h-1.3zM311.1 64.9h1.5v1.5h-1.5zM310.4 69.8h1.5v1.5h-1.5zM313.4 64.7h1.4v1.4h-1.4z" fill="#f68a48"/><path d="M309.8 69.2h1.5v1.5h-1.5zM306.8 60.9h1.5v1.5h-1.5zM319.5 62.0h1.5v1.5h-1.5zM305.6 68.5h1.7v1.7h-1.7zM312.1 67.9h1.7v1.7h-1.7z" fill="#f57d38"/><path d="M309.1 69.4h1.7v1.7h-1.7zM312.0 68.6h1.5v1.5h-1.5zM317.5 61.7h1.6v1.6h-1.6zM322.1 62.3h1.4v1.4h-1.4zM307.8 62.6h1.4v1.4h-1.4zM314.3 70.8h1.7v1.7h-1.7zM314.4 70.7h1.7v1.7h-1.7z" fill="#f7a06a"/><path d="M313.3 58.5h1.5v1.5h-1.5zM321.1 66.7h1.3v1.3h-1.3zM317.7 64.3h1.4v1.4h-1.4zM307.3 61.5h1.7v1.7h-1.7zM317.8 67.3h1.5v1.5h-1.5z" fill="#f9ab7d"/><path d="M319.7 105.9h1.4v1.4h-1.4zM308.6 94.7h1.4v1.4h-1.4zM321.4 115.9h1.6v1.6h-1.6zM306.8 95.3h1.5v1.5h-1.5z" fill="#f0702c"/><path d="M310.1 100.2h1.3v1.3h-1.3zM297.9 79.2h1.5v1.5h-1.5zM286.9 83.5h1.3v1.3h-1.3zM293.7 78.4h1.6v1.6h-1.6zM299.0 89.6h1.2v1.2h-1.2zM288.0 76.7h1.5v1.5h-1.5zM308.8 96.5h1.4v1.4h-1.4z" fill="#f7a06a"/><path d="M319.1 108.0h1.3v1.3h-1.3zM275.8 58.2h1.3v1.3h-1.3zM312.0 111.9h1.5v1.5h-1.5zM303.0 90.7h1.3v1.3h-1.3zM307.7 98.6h1.5v1.5h-1.5zM288.1 69.1h1.2v1.2h-1.2zM301.5 82.4h1.4v1.4h-1.4zM311.9 94.7h1.5v1.5h-1.5zM293.4 79.0h1.4v1.4h-1.4zM310.4 94.9h1.3v1.3h-1.3zM321.5 113.6h1.2v1.2h-1.2zM306.0 89.8h1.6v1.6h-1.6zM297.0 70.5h1.2v1.2h-1.2zM280.1 55.8h1.4v1.4h-1.4zM306.9 95.7h1.4v1.4h-1.4z" fill="#f68a48"/><path d="M326.1 116.0h1.2v1.2h-1.2zM326.0 126.5h1.3v1.3h-1.3zM293.6 71.3h1.2v1.2h-1.2zM290.7 71.0h1.4v1.4h-1.4zM309.3 92.0h1.3v1.3h-1.3zM300.7 89.0h1.5v1.5h-1.5zM308.0 96.4h1.4v1.4h-1.4zM294.6 84.6h1.4v1.4h-1.4zM283.9 78.4h1.2v1.2h-1.2zM297.2 83.4h1.3v1.3h-1.3z" fill="#f57d38"/><path d="M301.3 98.9h1.2v1.2h-1.2zM301.3 89.6h1.3v1.3h-1.3zM289.5 85.4h1.3v1.3h-1.3zM315.0 100.4h1.6v1.6h-1.6zM292.0 74.1h1.5v1.5h-1.5zM310.8 111.2h1.4v1.4h-1.4zM301.2 91.1h1.4v1.4h-1.4zM276.2 60.3h1.3v1.3h-1.3zM295.1 74.8h1.4v1.4h-1.4z" fill="#f9ab7d"/><path d="M235.3 86.8h1.2v1.2h-1.2zM241.0 82.9h1.3v1.3h-1.3zM236.0 89.9h1.3v1.3h-1.3zM233.7 83.8h1.3v1.3h-1.3zM235.6 76.1h1.4v1.4h-1.4zM246.6 90.5h1.4v1.4h-1.4zM223.8 72.6h1.5v1.5h-1.5zM229.7 76.0h1.3v1.3h-1.3zM219.6 79.0h1.3v1.3h-1.3z" fill="#f9ab7d"/><path d="M238.9 87.1h1.4v1.4h-1.4zM223.9 84.5h1.6v1.6h-1.6zM236.4 80.8h1.5v1.5h-1.5zM228.4 85.0h1.5v1.5h-1.5zM252.9 88.1h1.4v1.4h-1.4zM227.4 84.1h1.3v1.3h-1.3zM225.3 81.5h1.4v1.4h-1.4zM237.9 78.5h1.2v1.2h-1.2zM237.7 82.9h1.5v1.5h-1.5zM238.2 84.9h1.3v1.3h-1.3zM263.6 82.3h1.5v1.5h-1.5zM245.5 88.5h1.3v1.3h-1.3zM227.1 78.2h1.2v1.2h-1.2zM256.4 85.0h1.5v1.5h-1.5z" fill="#f68a48"/><path d="M219.8 80.3h1.4v1.4h-1.4zM247.7 87.3h1.6v1.6h-1.6zM231.8 76.6h1.3v1.3h-1.3zM226.4 85.6h1.2v1.2h-1.2zM249.5 76.5h1.6v1.6h-1.6zM242.3 80.9h1.5v1.5h-1.5zM232.4 84.1h1.5v1.5h-1.5zM253.5 86.9h1.2v1.2h-1.2z" fill="#f57d38"/><path d="M225.8 79.5h1.4v1.4h-1.4zM243.4 88.3h1.4v1.4h-1.4zM224.4 77.4h1.5v1.5h-1.5zM241.0 82.2h1.3v1.3h-1.3zM244.8 85.4h1.2v1.2h-1.2zM241.6 85.2h1.5v1.5h-1.5zM248.6 74.6h1.2v1.2h-1.2zM245.0 79.6h1.5v1.5h-1.5zM221.1 83.6h1.2v1.2h-1.2z" fill="#f7a06a"/><path d="M239.8 75.3h1.5v1.5h-1.5zM242.9 90.0h1.5v1.5h-1.5zM240.6 93.2h1.3v1.3h-1.3zM243.8 85.3h1.5v1.5h-1.5zM239.2 80.8h1.5v1.5h-1.5zM235.5 73.6h1.5v1.5h-1.5zM241.7 98.2h1.2v1.2h-1.2zM240.9 82.7h1.5v1.5h-1.5zM239.5 77.0h1.6v1.6h-1.6zM222.2 77.6h1.6v1.6h-1.6z" fill="#f0702c"/><path d="M296.8 72.2h1.2v1.2h-1.2zM249.1 80.9h1.4v1.4h-1.4zM330.2 82.4h1.4v1.4h-1.4zM255.6 86.6h1.3v1.3h-1.3zM248.6 63.5h1.2v1.2h-1.2zM260.9 95.9h1.4v1.4h-1.4zM306.5 119.9h1.1v1.1h-1.1zM259.4 135.7h1.2v1.2h-1.2zM290.3 93.0h1.4v1.4h-1.4zM295.9 79.7h1.2v1.2h-1.2z" fill="#f9ab7d"/><path d="M239.7 73.6h1.1v1.1h-1.1zM263.2 72.0h1.3v1.3h-1.3zM265.6 50.9h1.1v1.1h-1.1zM313.3 87.9h1.2v1.2h-1.2zM253.3 72.5h1.4v1.4h-1.4zM281.2 99.6h1.4v1.4h-1.4zM236.1 111.5h1.4v1.4h-1.4zM299.7 65.0h1.2v1.2h-1.2zM232.2 95.3h1.3v1.3h-1.3zM243.7 38.0h1.4v1.4h-1.4z" fill="#f0702c"/><path d="M296.1 43.0h1.3v1.3h-1.3zM274.1 94.1h1.3v1.3h-1.3zM306.1 63.9h1.2v1.2h-1.2zM293.1 87.6h1.2v1.2h-1.2zM304.4 105.1h1.5v1.5h-1.5zM293.5 79.8h1.1v1.1h-1.1zM285.4 76.4h1.4v1.4h-1.4zM280.5 86.2h1.5v1.5h-1.5zM270.0 64.5h1.2v1.2h-1.2zM257.0 86.7h1.3v1.3h-1.3zM277.7 84.0h1.1v1.1h-1.1zM279.8 40.8h1.3v1.3h-1.3zM295.6 62.4h1.3v1.3h-1.3zM217.5 50.8h1.2v1.2h-1.2zM265.0 65.9h1.2v1.2h-1.2zM300.1 86.0h1.3v1.3h-1.3zM302.8 51.8h1.3v1.3h-1.3z" fill="#f68a48"/><path d="M336.1 77.7h1.2v1.2h-1.2zM254.4 86.3h1.2v1.2h-1.2zM284.5 79.6h1.1v1.1h-1.1zM255.3 96.4h1.3v1.3h-1.3zM285.5 68.3h1.2v1.2h-1.2zM244.5 61.7h1.3v1.3h-1.3z" fill="#f57d38"/><path d="M265.9 86.4h1.3v1.3h-1.3zM264.0 65.1h1.3v1.3h-1.3zM290.5 62.0h1.1v1.1h-1.1zM240.8 77.4h1.1v1.1h-1.1zM261.1 83.5h1.1v1.1h-1.1zM307.4 82.9h1.2v1.2h-1.2zM275.2 81.8h1.3v1.3h-1.3z" fill="#f7a06a"/><ellipse cx="273" cy="75" rx="21.5" ry="14" transform="rotate(-18 273 75)" fill="none" stroke="#6f52b8" stroke-width="0.85" stroke-dasharray="1.6 1.3"/><ellipse cx="313" cy="74" rx="11.5" ry="21" transform="rotate(-8 313 74)" fill="none" stroke="#6f52b8" stroke-width="0.85" stroke-dasharray="1.6 1.3"/><ellipse cx="253.7" cy="102" rx="16.7" ry="14.5" transform="rotate(-10 253.7 102)" fill="none" stroke="#6f52b8" stroke-width="0.85" stroke-dasharray="1.6 1.3"/><text x="263" y="55.5" font-size="5.0" text-anchor="start" fill="#000" font-family="&quot;Liberation Sans&quot;, sans-serif" >Highly PF</text><text x="298.8" y="50.4" font-size="5.0" text-anchor="start" fill="#000" font-family="&quot;Liberation Sans&quot;, sans-serif" >Highly PF</text><text x="244.6" y="125" font-size="5.0" text-anchor="start" fill="#000" font-family="&quot;Liberation Sans&quot;, sans-serif" >Highly PF</text><text x="0" y="0" font-size="7.4" text-anchor="start" fill="#111" font-family="&quot;Liberation Sans&quot;, sans-serif" transform="translate(325.5,97) rotate(57) scale(0.7,1)" stroke="#111" stroke-width="0.12">Dimension 2</text><text x="315" y="100.5" font-size="5.2" text-anchor="start" fill="#444" font-family="&quot;Liberation Sans&quot;, sans-serif" >-30</text><text x="317" y="104" font-size="5.2" text-anchor="start" fill="#444" font-family="&quot;Liberation Sans&quot;, sans-serif" >-20</text><text x="321.4" y="108" font-size="5.2" text-anchor="start" fill="#444" font-family="&quot;Liberation Sans&quot;, sans-serif" >-10</text><text x="327" y="113.3" font-size="5.2" text-anchor="start" fill="#444" font-family="&quot;Liberation Sans&quot;, sans-serif" >0</text><text x="330.6" y="118.5" font-size="5.2" text-anchor="start" fill="#444" font-family="&quot;Liberation Sans&quot;, sans-serif" >10</text><text x="334" y="125" font-size="5.2" text-anchor="start" fill="#444" font-family="&quot;Liberation Sans&quot;, sans-serif" >20</text><line x1="360" y1="22" x2="360" y2="120" stroke="#e4e4e4" stroke-width="0.5"/><line x1="366" y1="22" x2="366" y2="120" stroke="#e4e4e4" stroke-width="0.5"/><line x1="371.5" y1="22" x2="371.5" y2="106" stroke="#dcdcdc" stroke-width="0.5"/><line x1="376" y1="22" x2="376" y2="60" stroke="#e4e4e4" stroke-width="0.5"/><line x1="381" y1="22" x2="381" y2="60" stroke="#e4e4e4" stroke-width="0.5"/><line x1="390" y1="22" x2="390" y2="60" stroke="#e4e4e4" stroke-width="0.5"/><line x1="400" y1="22" x2="400" y2="60" stroke="#e4e4e4" stroke-width="0.5"/><line x1="410" y1="22" x2="410" y2="60" stroke="#e4e4e4" stroke-width="0.5"/><line x1="420" y1="22" x2="420" y2="60" stroke="#e4e4e4" stroke-width="0.5"/><line x1="430" y1="22" x2="430" y2="60" stroke="#e4e4e4" stroke-width="0.5"/><line x1="440" y1="22" x2="440" y2="60" stroke="#e4e4e4" stroke-width="0.5"/><line x1="450" y1="22" x2="450" y2="60" stroke="#e4e4e4" stroke-width="0.5"/><line x1="460" y1="22" x2="460" y2="60" stroke="#e4e4e4" stroke-width="0.5"/><line x1="470" y1="22" x2="470" y2="60" stroke="#e4e4e4" stroke-width="0.5"/><line x1="480" y1="22" x2="480" y2="60" stroke="#e4e4e4" stroke-width="0.5"/><line x1="354" y1="24.6" x2="371.5" y2="22.6" stroke="#e4e4e4" stroke-width="0.5"/><line x1="371.5" y1="22.6" x2="490" y2="22.6" stroke="#e4e4e4" stroke-width="0.5"/><line x1="354" y1="43.5" x2="371.5" y2="41.5" stroke="#e4e4e4" stroke-width="0.5"/><line x1="371.5" y1="41.5" x2="490" y2="41.5" stroke="#e4e4e4" stroke-width="0.5"/><line x1="354" y1="63.4" x2="371.5" y2="61.4" stroke="#e4e4e4" stroke-width="0.5"/><line x1="371.5" y1="61.4" x2="490" y2="61.4" stroke="#e4e4e4" stroke-width="0.5"/><line x1="354" y1="80.5" x2="386.6" y2="60.3" stroke="#d6d6d6" stroke-width="0.5"/><line x1="386.6" y1="60.3" x2="492" y2="60.3" stroke="#d6d6d6" stroke-width="0.5"/><line x1="371.5" y1="105.7" x2="485" y2="105.7" stroke="#dcdcdc" stroke-width="0.5"/><line x1="400" y1="105.7" x2="397" y2="126" stroke="#e4e4e4" stroke-width="0.5"/><line x1="420" y1="105.7" x2="417" y2="126" stroke="#e4e4e4" stroke-width="0.5"/><line x1="440" y1="105.7" x2="437" y2="126" stroke="#e4e4e4" stroke-width="0.5"/><line x1="460" y1="105.7" x2="457" y2="126" stroke="#e4e4e4" stroke-width="0.5"/><text x="352.6" y="26.900000000000002" font-size="6.6" text-anchor="end" fill="#333" font-family="&quot;Liberation Sans&quot;, sans-serif" >30</text><text x="352.6" y="45.8" font-size="6.6" text-anchor="end" fill="#333" font-family="&quot;Liberation Sans&quot;, sans-serif" >20</text><text x="352.6" y="65.7" font-size="6.6" text-anchor="end" fill="#333" font-family="&quot;Liberation Sans&quot;, sans-serif" >10</text><text x="352.6" y="84.8" font-size="6.6" text-anchor="end" fill="#333" font-family="&quot;Liberation Sans&quot;, sans-serif" >0</text><text x="355" y="102.2" font-size="6.6" text-anchor="end" fill="#333" font-family="&quot;Liberation Sans&quot;, sans-serif" >-10</text><text x="357.7" y="120.6" font-size="6.6" text-anchor="end" fill="#333" font-family="&quot;Liberation Sans&quot;, sans-serif" >-20</text><polygon points="412.0,77.5 412.1,77.2 413.7,75.1 413.8,74.7 415.5,73.8 415.6,73.8 417.9,72.8 418.4,71.9 419.6,70.9 421.2,70.5 422.9,70.6 424.0,72.0 424.6,73.1 425.7,73.7 425.7,74.6 426.1,76.3 426.4,77.9 426.6,79.6 427.2,79.8 425.9,82.3 426.5,83.2 426.3,84.1 426.3,84.1 424.4,85.9 424.1,87.2 422.8,86.3 421.2,87.0 419.6,86.8 418.8,86.0 417.9,85.1 417.0,85.6 415.2,84.1 413.3,82.8 412.2,81.8 411.9,79.5 412.2,79.2" fill="#52a30c" /><path d="M414.1 77.9h1.2v1.2h-1.2zM422.7 73.0h1.0v1.0h-1.0zM416.1 80.5h1.2v1.2h-1.2zM421.7 70.9h1.0v1.0h-1.0zM418.6 80.2h1.0v1.0h-1.0zM414.1 74.1h1.1v1.1h-1.1z" fill="#ffffff"/><polygon points="431.0,64.0 433.1,62.9 434.4,63.2 435.9,63.5 436.4,62.9 437.7,61.7 438.8,61.0 439.0,59.5 440.5,58.6 442.0,58.6 442.4,59.2 443.4,59.9 445.0,59.3 446.9,60.5 447.9,60.8 448.9,62.5 448.9,64.1 449.8,65.3 450.3,66.3 449.3,68.3 450.3,69.2 449.7,69.9 449.6,71.3 448.7,72.4 448.5,73.6 448.6,75.9 446.6,76.1 446.7,77.8 445.9,79.5 444.2,78.0 442.5,77.9 441.6,77.6 440.8,75.7 440.1,74.8 438.6,74.1 438.1,73.5 437.5,72.9 436.4,70.8 435.7,69.7 433.6,69.2 432.8,69.1 431.9,67.9 430.9,66.6 431.5,64.7" fill="#52a30c" /><path d="M436.8 70.8h1.2v1.2h-1.2zM440.8 72.3h1.2v1.2h-1.2zM444.0 67.3h1.1v1.1h-1.1zM448.1 62.2h1.1v1.1h-1.1zM447.9 65.5h1.2v1.2h-1.2zM445.8 66.2h1.3v1.3h-1.3z" fill="#ffffff"/><polygon points="430.1,83.7 431.9,83.3 433.0,82.6 434.5,82.2 436.1,81.3 436.5,81.7 438.2,81.9 438.7,81.9 439.8,82.1 440.8,83.5 442.4,84.7 443.3,86.0 442.3,87.2 442.8,88.4 442.3,90.6 440.9,91.1 442.1,93.1 440.9,94.5 441.6,95.3 440.0,97.0 441.0,98.4 438.8,98.7 438.9,99.9 437.2,100.8 437.5,99.9 437.6,97.6 436.8,97.4 436.8,95.6 436.2,94.7 434.5,92.7 433.3,93.0 432.8,92.1 431.8,91.2 430.4,90.6 428.8,91.0 429.2,89.4 429.1,88.0 429.3,87.1 430.7,85.6" fill="#52a30c" /><path d="M435.3 86.8h1.2v1.2h-1.2zM432.9 91.5h1.0v1.0h-1.0zM431.0 84.9h1.2v1.2h-1.2zM437.7 97.3h1.2v1.2h-1.2zM431.9 83.2h1.1v1.1h-1.1zM438.5 86.4h1.0v1.0h-1.0z" fill="#ffffff"/><polygon points="399.5,87.9 401.2,87.1 402.6,85.4 403.1,84.6 405.3,85.7 407.0,86.0 408.0,87.2 408.1,88.1 409.4,88.8 411.0,88.7 410.6,91.0 411.7,92.3 413.4,92.6 414.7,94.9 412.7,95.8 413.4,96.2 412.6,97.5 411.9,98.7 409.7,100.1 408.8,100.6 408.3,101.9 406.6,103.7 405.0,101.5 403.1,101.4 402.6,101.1 401.9,99.6 400.4,97.8 399.7,97.2 400.8,96.2 400.3,94.2 399.3,92.3 400.6,91.5 399.5,89.8 400.1,89.4" fill="#52a30c" /><path d="M400.0 87.7h1.2v1.2h-1.2zM403.0 90.2h1.2v1.2h-1.2zM402.3 99.4h1.1v1.1h-1.1zM408.0 94.5h1.0v1.0h-1.0zM410.5 93.1h1.1v1.1h-1.1zM411.9 95.2h1.2v1.2h-1.2z" fill="#ffffff"/><polygon points="456.3,61.7 458.8,60.3 460.0,60.1 461.4,60.2 462.0,59.8 463.2,59.6 464.8,61.1 465.7,61.5 467.8,63.5 466.2,63.3 465.6,64.5 465.3,66.5 463.6,66.3 461.6,66.0 460.7,67.6 459.4,65.6 458.8,65.2 458.0,65.5 458.0,63.5 456.8,61.9" fill="#52a30c" /><path d="M458.6 63.3h1.0v1.0h-1.0zM461.6 65.4h1.2v1.2h-1.2zM459.6 63.5h1.2v1.2h-1.2zM464.3 65.2h1.0v1.0h-1.0zM461.5 65.9h1.0v1.0h-1.0zM462.5 63.6h1.2v1.2h-1.2z" fill="#ffffff"/><path d="M404.4 103.3h1.5v1.5h-1.5zM400.8 99.7h1.4v1.4h-1.4zM402.5 97.2h1.4v1.4h-1.4zM408.9 105.3h1.6v1.6h-1.6zM410.7 99.7h1.4v1.4h-1.4zM405.1 101.8h1.5v1.5h-1.5zM405.3 103.6h1.4v1.4h-1.4zM405.7 102.5h1.6v1.6h-1.6zM406.9 104.9h1.6v1.6h-1.6zM406.7 99.0h1.4v1.4h-1.4zM405.2 102.5h1.4v1.4h-1.4zM406.9 100.3h1.6v1.6h-1.6zM404.8 101.0h1.3v1.3h-1.3zM408.5 101.9h1.6v1.6h-1.6zM407.1 102.2h1.5v1.5h-1.5zM404.7 103.3h1.3v1.3h-1.3zM403.8 101.0h1.5v1.5h-1.5zM404.5 101.3h1.5v1.5h-1.5z" fill="#22b2e4"/><path d="M416.6 73.3h1.6v1.6h-1.6zM409.8 71.2h1.4v1.4h-1.4zM422.7 76.7h1.3v1.3h-1.3zM424.9 79.9h1.7v1.7h-1.7zM426.9 88.4h1.7v1.7h-1.7zM418.8 79.3h1.5v1.5h-1.5zM419.6 74.8h1.5v1.5h-1.5zM416.4 73.3h1.3v1.3h-1.3zM416.6 76.2h1.5v1.5h-1.5zM421.7 76.6h1.5v1.5h-1.5zM415.0 86.9h1.4v1.4h-1.4zM423.9 74.7h1.5v1.5h-1.5zM418.4 72.9h1.7v1.7h-1.7zM425.3 73.1h1.5v1.5h-1.5zM421.4 84.7h1.5v1.5h-1.5zM412.7 67.6h1.7v1.7h-1.7zM414.4 93.2h1.5v1.5h-1.5zM420.7 80.8h1.5v1.5h-1.5zM417.2 84.5h1.6v1.6h-1.6zM419.6 77.6h1.5v1.5h-1.5zM420.2 74.6h1.6v1.6h-1.6zM412.0 86.0h1.4v1.4h-1.4z" fill="#52a30c"/><path d="M419.0 71.3h1.7v1.7h-1.7zM424.1 75.0h1.4v1.4h-1.4zM415.5 80.1h1.5v1.5h-1.5zM415.1 74.8h1.7v1.7h-1.7zM419.3 75.0h1.6v1.6h-1.6zM419.5 72.2h1.3v1.3h-1.3zM421.7 81.0h1.5v1.5h-1.5zM424.9 81.1h1.6v1.6h-1.6zM419.3 71.0h1.3v1.3h-1.3zM415.5 75.0h1.5v1.5h-1.5z" fill="#62aa1e"/><path d="M417.0 74.4h1.6v1.6h-1.6zM436.1 82.0h1.7v1.7h-1.7zM410.6 71.3h1.3v1.3h-1.3zM405.7 75.8h1.5v1.5h-1.5zM422.0 71.1h1.6v1.6h-1.6zM412.2 78.2h1.4v1.4h-1.4zM421.7 69.4h1.3v1.3h-1.3zM410.5 81.5h1.5v1.5h-1.5zM423.4 86.7h1.5v1.5h-1.5zM409.9 86.0h1.4v1.4h-1.4zM415.6 79.2h1.7v1.7h-1.7zM426.0 74.3h1.7v1.7h-1.7zM417.4 91.9h1.4v1.4h-1.4zM428.4 73.7h1.3v1.3h-1.3zM409.1 77.4h1.7v1.7h-1.7z" fill="#4c9c08"/><path d="M412.3 90.6h1.6v1.6h-1.6zM402.5 79.4h1.4v1.4h-1.4zM416.2 87.0h1.6v1.6h-1.6zM421.6 85.1h1.6v1.6h-1.6zM412.9 79.2h1.6v1.6h-1.6zM417.9 79.5h1.4v1.4h-1.4zM421.4 71.9h1.4v1.4h-1.4zM420.6 84.5h1.3v1.3h-1.3zM415.0 80.5h1.5v1.5h-1.5zM410.0 79.4h1.4v1.4h-1.4zM437.6 81.9h1.7v1.7h-1.7zM412.8 77.9h1.4v1.4h-1.4zM419.1 87.4h1.3v1.3h-1.3z" fill="#5aa814"/><path d="M452.7 51.0h1.7v1.7h-1.7zM444.6 54.0h1.5v1.5h-1.5zM452.2 67.7h1.6v1.6h-1.6zM434.4 71.1h1.3v1.3h-1.3zM431.5 67.6h1.4v1.4h-1.4zM443.4 70.7h1.4v1.4h-1.4zM447.8 60.2h1.5v1.5h-1.5zM442.1 60.4h1.7v1.7h-1.7zM439.6 64.4h1.4v1.4h-1.4zM443.9 55.2h1.5v1.5h-1.5zM442.9 60.6h1.7v1.7h-1.7zM439.3 68.3h1.3v1.3h-1.3zM447.7 62.5h1.4v1.4h-1.4zM454.1 66.6h1.4v1.4h-1.4zM436.7 66.2h1.6v1.6h-1.6zM433.1 80.9h1.3v1.3h-1.3z" fill="#62aa1e"/><path d="M453.7 67.2h1.4v1.4h-1.4zM441.9 63.9h1.6v1.6h-1.6zM436.0 73.5h1.5v1.5h-1.5zM434.4 56.0h1.5v1.5h-1.5zM436.7 77.3h1.5v1.5h-1.5zM457.9 61.6h1.4v1.4h-1.4zM456.0 59.2h1.3v1.3h-1.3zM431.1 67.1h1.5v1.5h-1.5zM437.4 65.2h1.5v1.5h-1.5zM438.0 79.5h1.7v1.7h-1.7zM440.5 48.1h1.4v1.4h-1.4zM448.2 59.8h1.6v1.6h-1.6zM418.7 67.8h1.6v1.6h-1.6zM435.1 67.0h1.6v1.6h-1.6z" fill="#5aa814"/><path d="M431.2 84.3h1.6v1.6h-1.6zM445.0 61.7h1.7v1.7h-1.7zM443.6 61.1h1.6v1.6h-1.6zM451.6 68.0h1.4v1.4h-1.4zM451.8 61.3h1.5v1.5h-1.5zM441.8 64.1h1.3v1.3h-1.3zM442.1 67.2h1.7v1.7h-1.7zM452.2 72.2h1.6v1.6h-1.6zM440.6 82.6h1.7v1.7h-1.7zM436.5 53.0h1.5v1.5h-1.5zM442.6 60.5h1.7v1.7h-1.7zM449.3 51.3h1.3v1.3h-1.3zM443.0 54.3h1.3v1.3h-1.3zM447.4 79.7h1.7v1.7h-1.7zM438.0 79.2h1.7v1.7h-1.7zM442.1 58.5h1.7v1.7h-1.7zM435.9 68.7h1.6v1.6h-1.6zM457.8 71.8h1.5v1.5h-1.5z" fill="#4c9c08"/><path d="M431.3 72.6h1.7v1.7h-1.7zM448.3 70.5h1.7v1.7h-1.7zM448.1 70.0h1.3v1.3h-1.3zM438.7 70.9h1.5v1.5h-1.5zM437.2 72.3h1.6v1.6h-1.6zM431.1 56.9h1.6v1.6h-1.6zM446.9 68.5h1.3v1.3h-1.3zM436.7 63.1h1.6v1.6h-1.6zM454.3 59.8h1.5v1.5h-1.5zM425.1 55.8h1.7v1.7h-1.7zM431.1 87.0h1.6v1.6h-1.6zM451.2 63.0h1.5v1.5h-1.5zM436.7 66.5h1.4v1.4h-1.4zM442.9 69.2h1.5v1.5h-1.5zM443.5 68.9h1.4v1.4h-1.4zM447.4 66.0h1.5v1.5h-1.5zM444.3 55.5h1.5v1.5h-1.5zM438.9 58.6h1.6v1.6h-1.6zM425.6 65.6h1.4v1.4h-1.4zM446.3 61.5h1.3v1.3h-1.3zM444.8 62.5h1.6v1.6h-1.6zM436.3 69.4h1.5v1.5h-1.5z" fill="#52a30c"/><path d="M435.5 95.4h1.3v1.3h-1.3zM436.4 89.3h1.6v1.6h-1.6zM431.0 96.8h1.6v1.6h-1.6zM432.0 89.3h1.3v1.3h-1.3zM433.7 103.0h1.3v1.3h-1.3zM427.8 90.5h1.3v1.3h-1.3zM432.3 74.8h1.3v1.3h-1.3zM429.4 84.7h1.7v1.7h-1.7zM433.8 87.0h1.5v1.5h-1.5zM437.3 91.5h1.6v1.6h-1.6zM451.7 94.1h1.7v1.7h-1.7zM445.2 84.8h1.6v1.6h-1.6zM432.1 82.9h1.7v1.7h-1.7z" fill="#52a30c"/><path d="M446.9 86.5h1.5v1.5h-1.5zM439.2 80.6h1.6v1.6h-1.6zM438.5 91.5h1.3v1.3h-1.3zM431.1 86.6h1.6v1.6h-1.6zM435.5 90.9h1.7v1.7h-1.7zM434.9 93.0h1.3v1.3h-1.3zM426.7 96.1h1.7v1.7h-1.7zM423.7 81.7h1.6v1.6h-1.6zM428.7 93.7h1.6v1.6h-1.6zM436.2 96.5h1.6v1.6h-1.6zM437.6 84.4h1.4v1.4h-1.4zM436.5 95.3h1.6v1.6h-1.6zM430.9 82.0h1.5v1.5h-1.5zM441.0 80.2h1.4v1.4h-1.4zM433.8 88.1h1.5v1.5h-1.5zM430.9 100.0h1.3v1.3h-1.3z" fill="#5aa814"/><path d="M433.2 90.3h1.4v1.4h-1.4zM428.9 81.2h1.5v1.5h-1.5zM430.6 97.8h1.6v1.6h-1.6zM437.3 93.2h1.7v1.7h-1.7zM444.5 80.5h1.4v1.4h-1.4zM442.4 94.9h1.4v1.4h-1.4zM436.0 89.9h1.6v1.6h-1.6zM437.4 90.4h1.4v1.4h-1.4zM441.2 84.3h1.4v1.4h-1.4zM433.5 94.1h1.6v1.6h-1.6zM443.0 91.1h1.6v1.6h-1.6zM432.7 86.4h1.7v1.7h-1.7zM446.5 89.3h1.6v1.6h-1.6z" fill="#4c9c08"/><path d="M441.9 86.8h1.5v1.5h-1.5zM438.5 97.9h1.4v1.4h-1.4zM428.5 89.2h1.4v1.4h-1.4zM435.8 98.5h1.6v1.6h-1.6zM443.3 73.8h1.5v1.5h-1.5zM431.9 86.7h1.7v1.7h-1.7zM435.3 93.7h1.5v1.5h-1.5zM426.7 86.8h1.5v1.5h-1.5z" fill="#62aa1e"/><path d="M458.3 57.7h1.6v1.6h-1.6zM461.7 67.0h1.6v1.6h-1.6zM459.6 66.3h1.7v1.7h-1.7zM454.8 58.8h1.4v1.4h-1.4z" fill="#5aa814"/><path d="M457.9 62.5h1.4v1.4h-1.4zM458.4 56.9h1.7v1.7h-1.7zM464.4 64.2h1.6v1.6h-1.6zM460.1 59.3h1.5v1.5h-1.5zM460.9 58.7h1.5v1.5h-1.5zM464.8 67.6h1.4v1.4h-1.4zM470.4 63.3h1.6v1.6h-1.6zM459.8 57.2h1.5v1.5h-1.5zM465.1 63.3h1.5v1.5h-1.5zM456.4 63.2h1.3v1.3h-1.3zM466.5 66.3h1.3v1.3h-1.3z" fill="#52a30c"/><path d="M458.7 64.8h1.3v1.3h-1.3zM458.2 64.9h1.4v1.4h-1.4zM453.7 62.5h1.6v1.6h-1.6z" fill="#62aa1e"/><path d="M458.2 63.2h1.7v1.7h-1.7zM456.4 66.2h1.6v1.6h-1.6z" fill="#4c9c08"/><path d="M398.7 103.3h1.5v1.5h-1.5zM398.2 99.0h1.6v1.6h-1.6zM406.4 104.8h1.7v1.7h-1.7zM403.0 99.8h1.3v1.3h-1.3zM406.2 95.0h1.6v1.6h-1.6zM405.0 87.4h1.5v1.5h-1.5zM404.1 87.2h1.4v1.4h-1.4zM409.5 84.3h1.3v1.3h-1.3zM402.2 94.0h1.3v1.3h-1.3zM398.2 92.8h1.5v1.5h-1.5zM408.0 83.3h1.5v1.5h-1.5zM402.9 91.7h1.7v1.7h-1.7zM396.8 95.5h1.3v1.3h-1.3zM406.8 91.0h1.7v1.7h-1.7z" fill="#62aa1e"/><path d="M392.2 94.7h1.7v1.7h-1.7zM416.5 93.6h1.5v1.5h-1.5zM397.7 83.0h1.4v1.4h-1.4zM408.1 94.8h1.6v1.6h-1.6zM412.0 103.7h1.4v1.4h-1.4zM417.5 96.6h1.6v1.6h-1.6zM410.7 90.2h1.5v1.5h-1.5zM396.7 84.8h1.5v1.5h-1.5z" fill="#5aa814"/><path d="M401.3 99.0h1.4v1.4h-1.4zM400.1 84.8h1.6v1.6h-1.6zM412.4 93.1h1.7v1.7h-1.7zM409.4 87.2h1.5v1.5h-1.5zM411.4 97.8h1.5v1.5h-1.5zM396.1 106.3h1.7v1.7h-1.7zM412.2 86.9h1.5v1.5h-1.5zM396.2 87.4h1.6v1.6h-1.6zM406.0 90.6h1.3v1.3h-1.3zM396.6 98.0h1.4v1.4h-1.4zM405.5 87.7h1.7v1.7h-1.7zM407.6 99.5h1.4v1.4h-1.4zM401.0 78.1h1.6v1.6h-1.6z" fill="#52a30c"/><path d="M404.4 96.1h1.4v1.4h-1.4zM404.8 92.9h1.7v1.7h-1.7zM413.0 94.6h1.7v1.7h-1.7zM403.0 89.2h1.3v1.3h-1.3zM407.6 87.6h1.6v1.6h-1.6z" fill="#4c9c08"/><path d="M409.2 37.4h1.7v1.7h-1.7zM409.4 39.0h1.4v1.4h-1.4zM408.0 41.6h1.4v1.4h-1.4zM409.7 38.4h1.7v1.7h-1.7zM403.0 37.0h1.6v1.6h-1.6zM411.4 34.0h1.4v1.4h-1.4zM406.6 37.0h1.4v1.4h-1.4zM403.1 38.9h1.6v1.6h-1.6zM407.3 39.7h1.4v1.4h-1.4zM406.5 41.7h1.6v1.6h-1.6zM409.6 33.1h1.5v1.5h-1.5zM409.2 34.7h1.8v1.8h-1.8zM411.1 37.5h1.6v1.6h-1.6zM411.2 37.4h1.6v1.6h-1.6zM404.8 36.4h1.8v1.8h-1.8zM407.5 37.3h1.8v1.8h-1.8zM408.9 38.0h1.6v1.6h-1.6zM409.4 36.2h1.6v1.6h-1.6z" fill="#f4b42a"/><path d="M405.4 39.7h1.6v1.6h-1.6zM407.2 34.3h1.7v1.7h-1.7zM403.2 37.0h1.8v1.8h-1.8zM407.5 33.2h1.6v1.6h-1.6zM407.5 32.8h1.7v1.7h-1.7zM407.6 34.2h1.5v1.5h-1.5zM407.4 36.6h1.8v1.8h-1.8z" fill="#f08c22"/><path d="M417.7 31.7h1.4v1.4h-1.4zM418.4 37.7h1.3v1.3h-1.3zM417.9 34.9h1.2v1.2h-1.2zM413.2 35.4h1.4v1.4h-1.4zM416.6 36.5h1.4v1.4h-1.4zM419.4 32.1h1.4v1.4h-1.4zM411.6 37.1h1.2v1.2h-1.2zM423.6 37.0h1.1v1.1h-1.1z" fill="#9b5bdb"/><path d="M450.1 73.6h1.2v1.2h-1.2zM440.0 64.9h1.6v1.6h-1.6zM443.0 71.3h1.5v1.5h-1.5zM439.6 67.3h1.6v1.6h-1.6zM436.8 68.2h1.3v1.3h-1.3zM441.6 68.3h1.2v1.2h-1.2zM437.9 67.0h1.3v1.3h-1.3zM441.1 70.4h1.2v1.2h-1.2zM435.9 54.8h1.2v1.2h-1.2zM446.9 55.8h1.6v1.6h-1.6zM439.8 67.5h1.3v1.3h-1.3zM442.9 65.3h1.3v1.3h-1.3z" fill="#5aa814"/><path d="M456.7 66.5h1.4v1.4h-1.4zM438.5 57.1h1.5v1.5h-1.5zM445.8 67.0h1.4v1.4h-1.4zM447.5 70.9h1.4v1.4h-1.4zM445.0 72.9h1.2v1.2h-1.2zM432.7 58.8h1.5v1.5h-1.5zM441.3 71.9h1.4v1.4h-1.4zM445.3 53.6h1.6v1.6h-1.6zM438.5 68.8h1.6v1.6h-1.6zM439.1 57.7h1.3v1.3h-1.3zM442.8 67.0h1.3v1.3h-1.3zM433.9 59.8h1.3v1.3h-1.3zM434.4 60.4h1.3v1.3h-1.3zM438.1 74.9h1.6v1.6h-1.6zM444.6 64.6h1.4v1.4h-1.4zM442.1 61.6h1.3v1.3h-1.3zM437.3 72.2h1.2v1.2h-1.2z" fill="#4c9c08"/><path d="M440.2 64.1h1.4v1.4h-1.4zM433.8 69.8h1.3v1.3h-1.3zM441.6 58.8h1.6v1.6h-1.6zM441.6 77.0h1.5v1.5h-1.5zM446.7 73.9h1.2v1.2h-1.2zM434.3 58.5h1.4v1.4h-1.4zM455.6 58.7h1.5v1.5h-1.5zM446.4 73.3h1.6v1.6h-1.6zM438.1 65.6h1.5v1.5h-1.5zM444.5 68.3h1.4v1.4h-1.4z" fill="#52a30c"/><path d="M449.9 76.2h1.5v1.5h-1.5zM435.2 64.4h1.3v1.3h-1.3zM445.4 78.5h1.2v1.2h-1.2zM447.7 62.9h1.5v1.5h-1.5zM437.5 67.4h1.4v1.4h-1.4zM429.3 61.6h1.3v1.3h-1.3zM438.5 62.8h1.4v1.4h-1.4zM439.8 72.7h1.4v1.4h-1.4zM442.0 66.2h1.4v1.4h-1.4zM438.1 57.8h1.6v1.6h-1.6zM444.7 70.4h1.3v1.3h-1.3z" fill="#62aa1e"/><path d="M416.7 79.7h1.2v1.2h-1.2zM413.9 78.8h1.3v1.3h-1.3zM428.1 77.2h1.6v1.6h-1.6zM419.8 88.2h1.3v1.3h-1.3zM418.1 77.0h1.4v1.4h-1.4zM423.7 78.6h1.6v1.6h-1.6zM420.3 82.6h1.5v1.5h-1.5zM408.4 82.2h1.3v1.3h-1.3zM428.0 74.2h1.6v1.6h-1.6z" fill="#5aa814"/><path d="M413.7 81.1h1.5v1.5h-1.5zM418.2 74.4h1.4v1.4h-1.4zM421.4 77.4h1.3v1.3h-1.3zM410.3 81.1h1.4v1.4h-1.4zM420.0 73.8h1.5v1.5h-1.5zM429.2 83.1h1.5v1.5h-1.5zM413.2 82.8h1.3v1.3h-1.3zM420.3 76.9h1.4v1.4h-1.4zM420.8 76.2h1.4v1.4h-1.4zM411.6 83.5h1.5v1.5h-1.5zM418.2 82.2h1.2v1.2h-1.2zM417.1 72.9h1.4v1.4h-1.4z" fill="#62aa1e"/><path d="M416.6 82.8h1.6v1.6h-1.6zM425.2 79.5h1.3v1.3h-1.3zM414.2 74.6h1.3v1.3h-1.3zM413.5 77.3h1.5v1.5h-1.5zM420.1 70.1h1.4v1.4h-1.4zM420.2 76.9h1.4v1.4h-1.4zM414.8 74.3h1.3v1.3h-1.3zM420.9 82.8h1.3v1.3h-1.3zM410.7 85.5h1.4v1.4h-1.4zM417.5 75.1h1.4v1.4h-1.4zM424.7 78.8h1.4v1.4h-1.4zM412.5 85.2h1.4v1.4h-1.4z" fill="#4c9c08"/><path d="M413.5 79.9h1.4v1.4h-1.4zM432.1 67.9h1.4v1.4h-1.4zM424.5 81.1h1.3v1.3h-1.3zM416.6 81.6h1.5v1.5h-1.5zM415.9 78.3h1.2v1.2h-1.2zM421.2 86.4h1.2v1.2h-1.2zM419.0 81.8h1.3v1.3h-1.3z" fill="#52a30c"/><path d="M429.7 93.5h1.4v1.4h-1.4zM432.0 89.1h1.6v1.6h-1.6zM434.1 88.8h1.5v1.5h-1.5zM429.1 98.6h1.3v1.3h-1.3z" fill="#62aa1e"/><path d="M433.0 77.6h1.2v1.2h-1.2zM436.0 86.7h1.4v1.4h-1.4zM439.6 92.4h1.3v1.3h-1.3zM433.6 84.8h1.6v1.6h-1.6zM428.6 90.3h1.4v1.4h-1.4zM434.6 96.5h1.3v1.3h-1.3zM443.1 90.4h1.3v1.3h-1.3zM428.6 88.9h1.3v1.3h-1.3zM432.9 93.4h1.6v1.6h-1.6zM437.1 99.7h1.2v1.2h-1.2zM441.4 86.1h1.4v1.4h-1.4zM442.3 101.8h1.4v1.4h-1.4zM442.5 88.4h1.4v1.4h-1.4z" fill="#5aa814"/><path d="M435.4 82.3h1.4v1.4h-1.4zM437.4 88.8h1.5v1.5h-1.5zM433.2 94.3h1.6v1.6h-1.6zM442.4 91.1h1.5v1.5h-1.5zM434.5 94.4h1.4v1.4h-1.4zM433.0 90.0h1.4v1.4h-1.4zM437.8 95.9h1.2v1.2h-1.2zM442.2 87.8h1.2v1.2h-1.2z" fill="#52a30c"/><path d="M433.0 97.9h1.2v1.2h-1.2zM432.1 102.9h1.5v1.5h-1.5zM439.4 94.9h1.6v1.6h-1.6zM442.0 89.4h1.2v1.2h-1.2zM441.1 88.7h1.4v1.4h-1.4zM426.0 93.2h1.3v1.3h-1.3zM433.9 87.7h1.3v1.3h-1.3zM431.8 81.9h1.3v1.3h-1.3zM433.5 96.3h1.2v1.2h-1.2zM440.2 85.4h1.6v1.6h-1.6z" fill="#4c9c08"/><path d="M464.6 62.4h1.5v1.5h-1.5zM469.8 57.4h1.3v1.3h-1.3zM463.2 61.6h1.2v1.2h-1.2zM461.0 57.0h1.4v1.4h-1.4z" fill="#5aa814"/><path d="M461.6 69.6h1.5v1.5h-1.5zM457.9 57.3h1.5v1.5h-1.5zM468.9 65.3h1.3v1.3h-1.3z" fill="#62aa1e"/><path d="M460.0 65.4h1.2v1.2h-1.2zM462.3 61.9h1.5v1.5h-1.5z" fill="#4c9c08"/><path d="M462.3 59.5h1.6v1.6h-1.6zM461.5 62.7h1.4v1.4h-1.4zM460.8 60.6h1.2v1.2h-1.2z" fill="#52a30c"/><path d="M468.3 63.2h1.2v1.2h-1.2zM468.4 59.6h1.4v1.4h-1.4zM468.0 66.7h1.5v1.5h-1.5zM469.1 63.8h1.3v1.3h-1.3zM470.8 63.7h1.4v1.4h-1.4zM470.2 70.2h1.2v1.2h-1.2zM468.6 63.5h1.3v1.3h-1.3zM468.6 73.3h1.3v1.3h-1.3zM467.0 56.0h1.4v1.4h-1.4zM467.9 73.0h1.2v1.2h-1.2z" fill="#22b2e4"/><path d="M399.3 93.0h1.5v1.5h-1.5zM415.0 95.1h1.5v1.5h-1.5zM403.2 95.2h1.5v1.5h-1.5zM402.7 98.3h1.5v1.5h-1.5zM397.6 97.5h1.6v1.6h-1.6zM402.0 84.1h1.6v1.6h-1.6z" fill="#5aa814"/><path d="M406.2 92.0h1.2v1.2h-1.2zM401.6 100.3h1.4v1.4h-1.4zM399.8 95.0h1.5v1.5h-1.5zM405.7 97.0h1.4v1.4h-1.4zM403.8 90.9h1.5v1.5h-1.5zM403.8 91.6h1.6v1.6h-1.6zM402.6 97.1h1.5v1.5h-1.5zM399.3 100.4h1.2v1.2h-1.2zM407.4 90.9h1.4v1.4h-1.4z" fill="#4c9c08"/><path d="M410.1 96.0h1.3v1.3h-1.3zM402.3 91.1h1.3v1.3h-1.3zM400.8 91.7h1.5v1.5h-1.5zM408.8 101.8h1.2v1.2h-1.2zM403.8 99.5h1.4v1.4h-1.4zM404.8 96.1h1.4v1.4h-1.4z" fill="#62aa1e"/><path d="M405.5 88.4h1.3v1.3h-1.3zM403.4 87.5h1.3v1.3h-1.3zM408.4 103.4h1.3v1.3h-1.3zM405.6 95.1h1.5v1.5h-1.5z" fill="#52a30c"/><path d="M464.6 95.9h1.2v1.2h-1.2zM460.4 90.8h1.3v1.3h-1.3zM465.7 98.0h1.2v1.2h-1.2zM460.7 82.8h1.4v1.4h-1.4zM470.1 94.0h1.2v1.2h-1.2z" fill="#22b2e4"/><path d="M463.8 93.4h1.2v1.2h-1.2zM469.7 99.3h1.1v1.1h-1.1zM461.5 88.1h1.5v1.5h-1.5zM470.2 96.6h1.5v1.5h-1.5zM459.8 98.5h1.2v1.2h-1.2zM470.5 98.5h1.3v1.3h-1.3zM467.0 100.7h1.2v1.2h-1.2zM461.3 96.1h1.5v1.5h-1.5z" fill="#4c9c08"/><path d="M466.1 102.6h1.2v1.2h-1.2zM467.1 97.0h1.4v1.4h-1.4zM465.5 101.8h1.4v1.4h-1.4zM463.7 103.8h1.4v1.4h-1.4zM471.6 99.3h1.3v1.3h-1.3zM465.3 98.1h1.4v1.4h-1.4zM468.2 99.2h1.2v1.2h-1.2z" fill="#5aa814"/><path d="M467.0 92.8h1.4v1.4h-1.4zM469.0 93.3h1.1v1.1h-1.1zM466.0 95.0h1.4v1.4h-1.4zM464.2 109.8h1.3v1.3h-1.3z" fill="#62aa1e"/><path d="M473.4 91.2h1.2v1.2h-1.2z" fill="#52a30c"/><path d="M381.0 83.3h1.5v1.5h-1.5zM400.5 83.1h1.4v1.4h-1.4zM399.4 75.3h1.2v1.2h-1.2zM404.3 76.4h1.1v1.1h-1.1zM405.9 79.2h1.4v1.4h-1.4zM398.3 74.2h1.3v1.3h-1.3zM395.6 79.9h1.2v1.2h-1.2zM391.9 77.5h1.1v1.1h-1.1zM386.4 83.9h1.2v1.2h-1.2zM395.8 77.8h1.3v1.3h-1.3z" fill="#62aa1e"/><path d="M387.0 74.0h1.1v1.1h-1.1zM394.4 79.5h1.2v1.2h-1.2zM407.2 78.8h1.3v1.3h-1.3zM384.6 84.0h1.4v1.4h-1.4zM399.8 73.9h1.2v1.2h-1.2zM392.8 70.5h1.3v1.3h-1.3zM411.7 80.4h1.3v1.3h-1.3z" fill="#5aa814"/><path d="M387.6 80.4h1.5v1.5h-1.5zM395.7 78.5h1.2v1.2h-1.2zM382.0 76.4h1.1v1.1h-1.1zM392.8 77.0h1.4v1.4h-1.4zM408.3 79.5h1.2v1.2h-1.2z" fill="#52a30c"/><path d="M387.2 89.0h1.5v1.5h-1.5zM406.7 79.5h1.4v1.4h-1.4zM382.5 78.6h1.3v1.3h-1.3zM389.1 82.3h1.4v1.4h-1.4zM381.5 75.9h1.4v1.4h-1.4zM407.6 83.9h1.3v1.3h-1.3zM384.9 76.3h1.3v1.3h-1.3zM371.4 84.5h1.2v1.2h-1.2z" fill="#4c9c08"/><path d="M396.2 70.3h1.2v1.2h-1.2zM434.5 72.4h1.2v1.2h-1.2zM414.4 92.1h1.3v1.3h-1.3zM433.8 82.1h1.5v1.5h-1.5zM436.8 67.6h1.4v1.4h-1.4zM421.3 83.7h1.2v1.2h-1.2z" fill="#52a30c"/><path d="M453.9 71.1h1.3v1.3h-1.3zM463.4 49.2h1.4v1.4h-1.4zM406.5 85.9h1.2v1.2h-1.2zM370.6 81.9h1.4v1.4h-1.4zM401.1 71.0h1.4v1.4h-1.4zM425.0 97.3h1.3v1.3h-1.3zM414.2 80.6h1.1v1.1h-1.1zM428.3 92.9h1.3v1.3h-1.3zM415.9 101.9h1.3v1.3h-1.3zM393.4 62.8h1.4v1.4h-1.4zM433.7 99.1h1.4v1.4h-1.4zM414.5 80.0h1.1v1.1h-1.1z" fill="#4c9c08"/><path d="M401.9 69.4h1.4v1.4h-1.4zM423.7 62.4h1.2v1.2h-1.2zM432.4 118.1h1.4v1.4h-1.4zM421.5 78.7h1.2v1.2h-1.2zM448.9 85.2h1.1v1.1h-1.1zM444.1 104.2h1.4v1.4h-1.4zM475.8 92.2h1.2v1.2h-1.2zM450.5 98.8h1.2v1.2h-1.2zM446.2 68.0h1.5v1.5h-1.5zM438.7 85.2h1.5v1.5h-1.5z" fill="#62aa1e"/><path d="M395.9 64.7h1.2v1.2h-1.2zM419.8 63.5h1.5v1.5h-1.5zM417.3 61.8h1.2v1.2h-1.2zM416.0 64.8h1.3v1.3h-1.3zM440.8 51.2h1.2v1.2h-1.2zM377.3 69.2h1.3v1.3h-1.3zM425.2 96.5h1.1v1.1h-1.1z" fill="#5aa814"/><path d="M386.7 95.5h1.3v1.3h-1.3zM449.0 69.8h1.5v1.5h-1.5zM438.1 84.6h1.3v1.3h-1.3zM404.1 65.4h1.3v1.3h-1.3zM453.5 77.3h1.6v1.6h-1.6zM444.4 58.2h1.6v1.6h-1.6zM466.0 90.0h1.5v1.5h-1.5zM424.4 82.1h1.4v1.4h-1.4zM457.9 72.5h1.3v1.3h-1.3zM419.2 62.2h1.2v1.2h-1.2zM437.3 73.6h1.6v1.6h-1.6zM466.4 87.1h1.3v1.3h-1.3zM431.7 71.6h1.2v1.2h-1.2z" fill="#22b2e4"/><path d="M455.4 94.7h1.5v1.5h-1.5zM411.5 77.8h1.5v1.5h-1.5zM416.4 87.6h1.3v1.3h-1.3zM415.6 72.2h1.3v1.3h-1.3zM413.9 68.7h1.2v1.2h-1.2zM443.5 85.6h1.4v1.4h-1.4zM423.5 57.7h1.5v1.5h-1.5zM435.3 47.4h1.6v1.6h-1.6zM442.0 78.2h1.4v1.4h-1.4z" fill="#9b5bdb"/><rect x="406.5" y="74.4" width="2" height="2" fill="#22b2e4"/><rect x="399.5" y="55.3" width="2" height="2" fill="#22b2e4"/><rect x="424.2" y="67.3" width="2" height="2" fill="#22b2e4"/><rect x="436.8" y="76.1" width="2" height="2" fill="#22b2e4"/><rect x="462.0" y="84.0" width="2" height="2" fill="#22b2e4"/><rect x="467.0" y="86.0" width="2" height="2" fill="#22b2e4"/><rect x="421.7" y="56.0" width="2" height="2" fill="#9b5bdb"/><rect x="426.1" y="61.6" width="2" height="2" fill="#9b5bdb"/><rect x="428.6" y="64.8" width="2" height="2" fill="#9b5bdb"/><rect x="446.9" y="78.6" width="2" height="2" fill="#9b5bdb"/><rect x="450.0" y="79.9" width="2" height="2" fill="#9b5bdb"/><rect x="431.2" y="91.9" width="2" height="2" fill="#9b5bdb"/><rect x="431.8" y="83.0" width="2" height="2" fill="#f08c22"/><ellipse cx="430" cy="75" rx="25" ry="19" transform="rotate(-18 430 75)" fill="none" stroke="#6f52b8" stroke-width="0.85" stroke-dasharray="1.6 1.3"/><ellipse cx="466" cy="70" rx="11.5" ry="21" transform="rotate(-8 466 70)" fill="none" stroke="#6f52b8" stroke-width="0.85" stroke-dasharray="1.6 1.3"/><ellipse cx="406.7" cy="98" rx="16.7" ry="15" transform="rotate(-10 406.7 98)" fill="none" stroke="#6f52b8" stroke-width="0.85" stroke-dasharray="1.6 1.3"/><text x="411.8" y="47.6" font-size="5" text-anchor="middle" fill="#000" font-family="&quot;Liberation Sans&quot;, sans-serif" >Effector protein-dominated</text><text x="411.8" y="53.4" font-size="5" text-anchor="middle" fill="#000" font-family="&quot;Liberation Sans&quot;, sans-serif" >multiple functions</text><text x="469.9" y="40.3" font-size="5" text-anchor="middle" fill="#000" font-family="&quot;Liberation Sans&quot;, sans-serif" >Effector protein-dominated</text><text x="469.9" y="46.099999999999994" font-size="5" text-anchor="middle" fill="#000" font-family="&quot;Liberation Sans&quot;, sans-serif" >multiple functions</text><text x="409.1" y="119.5" font-size="5" text-anchor="middle" fill="#000" font-family="&quot;Liberation Sans&quot;, sans-serif" >Effector protein-dominated</text><text x="409.1" y="125.3" font-size="5" text-anchor="middle" fill="#000" font-family="&quot;Liberation Sans&quot;, sans-serif" >multiple functions</text><text x="0" y="0" font-size="7.4" text-anchor="start" fill="#111" font-family="&quot;Liberation Sans&quot;, sans-serif" transform="translate(481,93.2) rotate(57) scale(0.7,1)" stroke="#111" stroke-width="0.12">Dimension 2</text><text x="470" y="95" font-size="5.2" text-anchor="start" fill="#444" font-family="&quot;Liberation Sans&quot;, sans-serif" >-30</text><text x="472" y="99" font-size="5.2" text-anchor="start" fill="#444" font-family="&quot;Liberation Sans&quot;, sans-serif" >-20</text><text x="474.6" y="105.6" font-size="5.2" text-anchor="start" fill="#444" font-family="&quot;Liberation Sans&quot;, sans-serif" >-10</text><text x="481.6" y="109.7" font-size="5.2" text-anchor="start" fill="#444" font-family="&quot;Liberation Sans&quot;, sans-serif" >0</text><text x="482" y="115.5" font-size="5.2" text-anchor="start" fill="#444" font-family="&quot;Liberation Sans&quot;, sans-serif" >10</text><text x="486" y="122.4" font-size="5.2" text-anchor="start" fill="#444" font-family="&quot;Liberation Sans&quot;, sans-serif" >20</text><line x1="56.2" y1="133" x2="56.2" y2="168" stroke="#e4e4e4" stroke-width="0.5"/><line x1="66.9" y1="133" x2="66.9" y2="168" stroke="#e4e4e4" stroke-width="0.5"/><line x1="77.7" y1="133" x2="77.7" y2="168" stroke="#e4e4e4" stroke-width="0.5"/><line x1="87.1" y1="133" x2="87.1" y2="168" stroke="#e4e4e4" stroke-width="0.5"/><line x1="96.5" y1="133" x2="96.5" y2="222" stroke="#dadada" stroke-width="0.5"/><line x1="106" y1="133" x2="106" y2="165" stroke="#e4e4e4" stroke-width="0.5"/><line x1="116" y1="133" x2="116" y2="165" stroke="#e4e4e4" stroke-width="0.5"/><line x1="126" y1="133" x2="126" y2="165" stroke="#e4e4e4" stroke-width="0.5"/><line x1="136" y1="133" x2="136" y2="165" stroke="#e4e4e4" stroke-width="0.5"/><line x1="146" y1="133" x2="146" y2="165" stroke="#e4e4e4" stroke-width="0.5"/><line x1="156" y1="133" x2="156" y2="165" stroke="#e4e4e4" stroke-width="0.5"/><line x1="166" y1="133" x2="166" y2="165" stroke="#e4e4e4" stroke-width="0.5"/><line x1="49" y1="140.3" x2="170" y2="140.3" stroke="#e4e4e4" stroke-width="0.5"/><line x1="49" y1="152" x2="170" y2="152" stroke="#e4e4e4" stroke-width="0.5"/><line x1="49" y1="161.4" x2="170" y2="161.4" stroke="#e4e4e4" stroke-width="0.5"/><line x1="51" y1="172.9" x2="75" y2="165" stroke="#d6d6d6" stroke-width="0.5"/><line x1="75" y1="165" x2="170" y2="165" stroke="#d6d6d6" stroke-width="0.5"/><line x1="67" y1="222" x2="170" y2="222" stroke="#dcdcdc" stroke-width="0.5"/><text x="47.3" y="143.60000000000002" font-size="6.6" text-anchor="end" fill="#333" font-family="&quot;Liberation Sans&quot;, sans-serif" >30</text><text x="47.8" y="155.3" font-size="6.6" text-anchor="end" fill="#333" font-family="&quot;Liberation Sans&quot;, sans-serif" >20</text><text x="49.5" y="164.70000000000002" font-size="6.6" text-anchor="end" fill="#333" font-family="&quot;Liberation Sans&quot;, sans-serif" >10</text><text x="49.8" y="175.60000000000002" font-size="6.6" text-anchor="end" fill="#333" font-family="&quot;Liberation Sans&quot;, sans-serif" >0</text><text x="51.2" y="185.3" font-size="6.6" text-anchor="end" fill="#333" font-family="&quot;Liberation Sans&quot;, sans-serif" >-10</text><text x="52.4" y="195.8" font-size="6.6" text-anchor="end" fill="#333" font-family="&quot;Liberation Sans&quot;, sans-serif" >-20</text><text x="53.2" y="204.3" font-size="6.6" text-anchor="end" fill="#333" font-family="&quot;Liberation Sans&quot;, sans-serif" >-30</text><text x="0" y="0" font-size="8" text-anchor="start" fill="#111" font-family="&quot;Liberation Sans&quot;, sans-serif" transform="translate(33,151.2) rotate(90) scale(0.58,1)" stroke="#111" stroke-width="0.12">Dimension 3</text><text x="0" y="0" font-size="10" text-anchor="middle" fill="#111" font-family="&quot;Liberation Sans&quot;, sans-serif" transform="translate(25.1,173) rotate(-90)">CD8</text><text x="0" y="0" font-size="7" text-anchor="start" fill="#111" font-family="&quot;Liberation Sans&quot;, sans-serif" transform="translate(38.8,206.3) rotate(66) scale(0.72,1)" stroke="#111" stroke-width="0.12">Dimension</text><text x="0" y="0" font-size="5" text-anchor="start" fill="#333" font-family="&quot;Liberation Sans&quot;, sans-serif" transform="translate(44.5,199.5) rotate(66)">-30</text><text x="0" y="0" font-size="5" text-anchor="start" fill="#333" font-family="&quot;Liberation Sans&quot;, sans-serif" transform="translate(47.3,204.1) rotate(66)">-20</text><text x="0" y="0" font-size="5" text-anchor="start" fill="#333" font-family="&quot;Liberation Sans&quot;, sans-serif" transform="translate(50.1,208.7) rotate(66)">-10</text><text x="0" y="0" font-size="5" text-anchor="start" fill="#333" font-family="&quot;Liberation Sans&quot;, sans-serif" transform="translate(52.9,213.3) rotate(66)">0</text><text x="0" y="0" font-size="5" text-anchor="start" fill="#333" font-family="&quot;Liberation Sans&quot;, sans-serif" transform="translate(55.7,217.9) rotate(66)">10</text><text x="0" y="0" font-size="5" text-anchor="start" fill="#333" font-family="&quot;Liberation Sans&quot;, sans-serif" transform="translate(58.5,222.5) rotate(66)">0</text><polygon points="103.5,157.7 104.4,157.1 104.4,154.9 104.9,154.4 105.6,153.3 107.1,151.4 107.7,150.8 108.3,150.5 108.4,147.8 110.1,147.1 109.6,145.7 110.3,145.2 110.8,143.1 112.0,142.5 113.2,141.9 113.8,140.3 115.9,140.7 116.1,139.6 118.7,139.3 119.2,139.4 121.3,138.4 122.6,138.0 123.2,137.8 125.0,137.6 126.3,139.1 127.6,140.2 128.5,140.8 127.7,141.2 128.3,143.1 128.5,143.7 128.0,146.2 129.6,146.9 129.9,147.6 132.1,149.0 133.6,148.7 134.2,149.9 135.6,150.2 137.2,149.8 137.9,151.5 139.4,151.0 141.3,150.9 143.6,149.8 144.1,151.3 144.9,151.7 145.6,153.4 145.1,154.0 145.4,156.2 146.5,157.9 146.2,158.3 145.9,160.7 145.0,160.7 144.0,162.1 142.6,162.8 141.5,165.0 140.0,164.7 138.8,164.1 138.2,164.2 136.0,163.7 135.3,163.1 134.1,162.3 132.2,162.0 130.7,161.3 129.4,159.8 127.5,161.1 126.9,161.7 125.5,161.5 123.3,161.5 121.9,160.6 120.5,160.1 118.6,161.3 117.6,160.9 115.4,160.7 114.7,160.4 112.3,159.8 112.2,159.0 109.8,159.7 108.6,159.2 107.8,159.1 105.4,158.4" fill="#5ec6de" /><path d="M113.9 150.6h1.1v1.1h-1.1zM126.6 149.5h1.2v1.2h-1.2zM114.5 149.9h1.1v1.1h-1.1zM116.1 149.1h1.3v1.3h-1.3zM136.8 156.9h1.1v1.1h-1.1zM121.1 142.6h1.1v1.1h-1.1zM141.6 151.8h1.2v1.2h-1.2zM125.3 148.8h1.4v1.4h-1.4zM138.4 158.1h1.4v1.4h-1.4zM130.6 151.5h1.4v1.4h-1.4zM138.5 159.6h1.1v1.1h-1.1zM141.7 149.7h1.1v1.1h-1.1zM123.0 151.4h1.4v1.4h-1.4zM116.0 150.0h1.2v1.2h-1.2zM140.8 160.9h1.1v1.1h-1.1z" fill="#ffffff"/><polygon points="110.6,172.1 111.9,172.3 113.2,171.1 113.5,169.8 115.6,168.8 117.1,168.8 117.4,166.8 119.3,166.3 119.3,166.7 121.9,166.5 123.4,165.2 123.3,164.7 126.0,164.4 125.9,164.6 127.0,164.9 128.7,165.4 129.9,167.0 130.7,167.4 132.7,167.7 133.5,168.6 134.5,168.4 135.2,169.1 136.3,170.9 137.4,170.0 138.6,171.9 139.6,172.3 140.0,171.9 142.0,172.5 142.5,173.7 143.6,173.8 144.6,175.9 146.9,176.5 147.9,177.1 149.2,177.6 149.5,178.4 149.7,179.2 151.3,179.9 152.3,181.4 152.5,183.0 153.2,182.9 153.1,183.8 153.4,186.3 154.9,187.4 155.8,187.4 156.8,189.4 156.6,189.1 157.0,190.3 157.7,191.2 158.9,193.7 158.7,194.4 160.0,195.2 161.1,196.4 161.6,197.1 162.4,198.6 160.5,201.0 161.3,201.9 160.9,202.7 158.6,203.2 158.7,204.9 156.2,204.7 155.3,206.0 153.4,206.1 152.5,205.9 151.1,205.4 151.0,206.3 149.9,207.1 148.3,206.0 147.0,208.1 145.8,207.2 144.2,209.3 144.5,208.8 142.4,210.1 141.6,209.9 141.3,211.2 139.3,210.9 138.5,212.7 136.9,212.3 136.7,214.2 135.1,214.2 134.5,215.0 132.7,215.4 131.8,216.0 130.6,217.1 129.8,218.6 128.7,219.0 128.2,218.2 125.9,218.9 125.1,219.1 123.3,219.3 123.1,218.9 121.0,219.3 119.8,219.1 119.2,217.2 118.1,216.4 117.8,215.9 116.0,215.7 116.3,214.2 115.2,212.3 115.5,211.4 114.3,210.5 113.8,208.4 114.1,207.9 112.8,207.2 113.2,205.8 113.0,203.9 111.5,202.6 112.1,202.1 112.1,200.5 111.7,199.3 111.4,197.0 111.6,196.2 111.1,195.5 112.6,193.7 112.6,193.0 112.9,192.1 112.5,189.6 112.0,188.7 111.4,188.0 110.6,186.7 111.4,184.5 110.9,184.3 109.8,183.1 109.5,180.9 111.1,180.4 110.0,178.3 110.6,177.7 111.6,175.9 111.2,175.0 111.2,174.6" fill="#5ec6de" /><polygon points="113.9,170.3 115.6,169.2 116.6,169.7 118.2,168.1 119.1,168.3 120.1,168.3 121.4,167.4 123.3,167.5 123.6,166.9 125.1,166.3 126.6,167.3 127.6,167.8 129.6,167.6 130.5,167.3 130.8,169.0 132.1,168.5 134.0,170.1 133.7,170.2 134.9,170.9 135.3,172.2 136.7,172.9 137.3,173.3 137.5,175.8 139.0,176.5 138.4,177.1 138.1,178.7 137.7,179.8 137.6,181.0 138.0,182.6 136.8,183.4 136.0,185.1 134.6,184.9 134.0,186.3 133.5,186.8 132.7,187.6 131.2,189.3 129.9,190.9 129.3,190.2 127.7,191.3 125.7,190.8 125.3,191.0 123.9,189.7 122.7,188.6 122.4,188.8 120.8,186.3 119.7,186.6 118.6,184.6 117.6,184.5 117.6,182.9 116.8,182.6 116.6,181.7 115.0,180.7 115.5,179.5 114.9,177.8 114.1,176.9 114.0,175.5 113.4,173.2 113.4,172.7 113.9,170.9" fill="#fa5a0a" /><polygon points="139.0,189.1 140.8,189.4 142.2,188.3 143.6,188.1 143.8,187.3 145.4,187.1 146.1,188.5 147.9,189.4 147.9,188.9 149.2,190.3 151.2,191.3 152.4,191.6 153.0,191.8 153.5,192.3 154.9,193.6 156.0,193.9 156.8,194.3 158.5,195.4 159.2,196.7 159.2,196.6 160.0,198.8 161.6,198.9 160.9,199.9 160.4,200.5 159.6,203.0 157.8,202.3 156.1,202.1 155.0,202.3 153.5,202.4 152.3,202.9 151.5,202.0 151.1,201.6 149.2,202.0 148.3,201.6 146.8,201.0 144.9,200.0 144.3,198.6 144.0,198.5 142.3,197.1 141.2,197.3 140.8,195.3 139.8,194.0 138.4,193.8 138.6,193.4 138.3,192.0 138.2,190.6" fill="#fa5a0a" /><path d="M122.5 171.7h1.8v1.8h-1.8zM122.7 188.1h1.6v1.6h-1.6zM122.6 184.0h1.7v1.7h-1.7zM129.6 186.6h1.8v1.8h-1.8zM121.1 172.5h1.4v1.4h-1.4zM127.7 176.7h1.8v1.8h-1.8zM118.5 184.1h1.4v1.4h-1.4zM129.8 169.1h1.7v1.7h-1.7zM121.0 181.4h1.6v1.6h-1.6zM123.1 168.7h1.6v1.6h-1.6zM129.8 178.3h1.5v1.5h-1.5zM136.8 176.0h1.6v1.6h-1.6zM135.3 182.3h1.4v1.4h-1.4zM133.2 183.6h1.8v1.8h-1.8zM130.7 188.1h1.7v1.7h-1.7zM131.9 181.1h1.6v1.6h-1.6zM118.5 175.0h1.7v1.7h-1.7zM123.3 177.2h1.6v1.6h-1.6zM122.4 183.4h1.7v1.7h-1.7zM120.5 177.0h1.5v1.5h-1.5zM117.4 182.4h1.8v1.8h-1.8zM126.8 181.5h1.5v1.5h-1.5zM118.7 182.7h1.8v1.8h-1.8zM124.3 184.3h1.6v1.6h-1.6zM125.5 189.9h1.8v1.8h-1.8zM136.8 181.8h1.6v1.6h-1.6zM130.4 171.3h1.8v1.8h-1.8zM135.9 173.7h1.5v1.5h-1.5zM122.5 171.7h1.8v1.8h-1.8zM120.1 180.6h1.6v1.6h-1.6zM125.4 187.0h1.6v1.6h-1.6zM127.9 171.7h1.8v1.8h-1.8zM120.2 172.1h1.8v1.8h-1.8zM133.7 183.7h1.7v1.7h-1.7zM128.9 176.3h1.5v1.5h-1.5zM122.3 170.4h1.5v1.5h-1.5zM135.1 178.9h1.4v1.4h-1.4zM127.8 175.2h1.8v1.8h-1.8zM132.3 183.9h1.7v1.7h-1.7zM114.1 174.2h1.6v1.6h-1.6zM127.3 183.9h1.5v1.5h-1.5zM120.1 168.4h1.4v1.4h-1.4zM120.8 173.6h1.6v1.6h-1.6zM135.4 173.9h1.7v1.7h-1.7zM122.5 185.8h1.4v1.4h-1.4zM122.9 170.1h1.4v1.4h-1.4zM117.1 168.3h1.5v1.5h-1.5zM135.8 173.9h1.5v1.5h-1.5zM135.0 183.0h1.8v1.8h-1.8zM121.7 170.2h1.7v1.7h-1.7zM132.4 176.0h1.7v1.7h-1.7zM128.5 183.3h1.8v1.8h-1.8zM131.9 178.9h1.8v1.8h-1.8zM121.2 173.1h1.5v1.5h-1.5zM123.2 179.5h1.5v1.5h-1.5zM137.0 175.3h1.6v1.6h-1.6zM129.9 176.5h1.4v1.4h-1.4zM118.2 173.5h1.4v1.4h-1.4zM125.4 183.0h1.8v1.8h-1.8zM131.3 181.7h1.7v1.7h-1.7zM126.8 184.0h1.8v1.8h-1.8zM136.8 180.0h1.8v1.8h-1.8zM122.7 188.1h1.7v1.7h-1.7zM128.6 168.3h1.5v1.5h-1.5zM124.8 175.1h1.8v1.8h-1.8zM126.2 178.7h1.5v1.5h-1.5zM136.8 181.7h1.6v1.6h-1.6zM131.6 172.2h1.4v1.4h-1.4zM133.1 172.6h1.7v1.7h-1.7zM125.4 168.0h1.7v1.7h-1.7zM129.4 168.4h1.5v1.5h-1.5zM131.9 170.7h1.5v1.5h-1.5zM118.5 178.0h1.4v1.4h-1.4zM125.9 176.3h1.6v1.6h-1.6zM128.8 173.7h1.4v1.4h-1.4zM116.7 176.7h1.8v1.8h-1.8zM121.8 168.9h1.5v1.5h-1.5zM129.0 181.3h1.7v1.7h-1.7zM129.9 180.7h1.6v1.6h-1.6zM125.7 171.7h1.7v1.7h-1.7z" fill="#5ec6de"/><path d="M143.4 190.3h1.7v1.7h-1.7zM142.1 194.6h1.6v1.6h-1.6zM153.8 197.6h1.5v1.5h-1.5zM150.7 199.1h1.7v1.7h-1.7zM140.8 193.4h1.4v1.4h-1.4zM139.1 188.3h1.6v1.6h-1.6zM155.7 197.9h1.8v1.8h-1.8zM145.8 195.3h1.6v1.6h-1.6zM142.2 191.2h1.8v1.8h-1.8zM147.6 199.6h1.5v1.5h-1.5zM141.9 190.9h1.7v1.7h-1.7zM140.8 192.6h1.7v1.7h-1.7zM156.6 198.6h1.8v1.8h-1.8zM150.2 197.8h1.7v1.7h-1.7zM147.6 190.9h1.7v1.7h-1.7zM149.5 198.2h1.8v1.8h-1.8zM146.3 190.2h1.6v1.6h-1.6zM138.5 192.7h1.6v1.6h-1.6zM152.8 195.0h1.7v1.7h-1.7zM144.9 191.4h1.6v1.6h-1.6zM143.1 194.5h1.6v1.6h-1.6zM156.7 194.7h1.4v1.4h-1.4zM154.7 195.1h1.6v1.6h-1.6zM142.7 195.6h1.4v1.4h-1.4zM154.7 198.5h1.7v1.7h-1.7zM149.2 196.0h1.8v1.8h-1.8zM154.6 197.4h1.6v1.6h-1.6zM152.7 192.7h1.4v1.4h-1.4zM142.2 192.0h1.6v1.6h-1.6zM137.8 192.0h1.5v1.5h-1.5zM148.4 195.2h1.5v1.5h-1.5zM148.1 193.2h1.4v1.4h-1.4zM147.0 193.3h1.8v1.8h-1.8zM154.0 199.1h1.5v1.5h-1.5zM141.5 193.8h1.4v1.4h-1.4z" fill="#5ec6de"/><path d="M137.5 204.9h1.8v1.8h-1.8zM123.9 216.6h1.7v1.7h-1.7zM123.4 184.1h1.5v1.5h-1.5zM146.5 184.6h1.5v1.5h-1.5zM126.7 194.8h1.8v1.8h-1.8zM113.5 172.9h1.7v1.7h-1.7zM115.8 203.8h1.8v1.8h-1.8zM134.9 185.8h1.4v1.4h-1.4zM132.7 194.2h1.8v1.8h-1.8zM152.2 200.7h1.4v1.4h-1.4zM128.7 210.6h1.5v1.5h-1.5zM146.7 177.7h1.4v1.4h-1.4zM115.8 212.6h1.7v1.7h-1.7zM135.2 204.9h1.6v1.6h-1.6zM147.3 179.2h1.5v1.5h-1.5zM134.2 191.2h1.5v1.5h-1.5zM137.4 196.7h1.7v1.7h-1.7zM128.9 188.8h1.4v1.4h-1.4zM128.3 211.8h1.8v1.8h-1.8zM131.1 167.5h1.6v1.6h-1.6zM151.1 201.7h1.5v1.5h-1.5zM149.2 192.0h1.7v1.7h-1.7zM116.6 185.8h1.7v1.7h-1.7zM118.9 216.5h1.6v1.6h-1.6zM139.9 183.6h1.8v1.8h-1.8zM122.9 204.3h1.5v1.5h-1.5zM128.1 193.8h1.6v1.6h-1.6zM113.3 194.7h1.8v1.8h-1.8zM128.8 165.6h1.4v1.4h-1.4zM133.3 170.9h1.6v1.6h-1.6zM115.1 196.1h1.4v1.4h-1.4zM135.8 194.6h1.5v1.5h-1.5zM126.5 188.6h1.5v1.5h-1.5zM131.2 167.6h1.4v1.4h-1.4zM121.0 209.7h1.8v1.8h-1.8zM113.0 183.4h1.7v1.7h-1.7zM123.0 190.9h1.5v1.5h-1.5zM131.9 168.0h1.7v1.7h-1.7zM128.0 186.9h1.7v1.7h-1.7zM120.8 166.6h1.5v1.5h-1.5zM121.1 193.6h1.8v1.8h-1.8zM124.4 174.2h1.7v1.7h-1.7zM125.7 216.8h1.6v1.6h-1.6zM125.2 177.9h1.8v1.8h-1.8zM128.5 210.9h1.4v1.4h-1.4zM124.2 213.5h1.7v1.7h-1.7zM127.9 173.9h1.5v1.5h-1.5zM132.6 171.7h1.6v1.6h-1.6zM144.8 186.7h1.6v1.6h-1.6zM116.2 203.9h1.5v1.5h-1.5zM112.0 190.8h1.7v1.7h-1.7zM135.1 184.0h1.6v1.6h-1.6zM148.8 183.8h1.4v1.4h-1.4zM122.4 198.5h1.7v1.7h-1.7zM136.8 190.7h1.5v1.5h-1.5zM122.6 216.1h1.6v1.6h-1.6zM123.4 202.7h1.6v1.6h-1.6zM129.6 176.2h1.5v1.5h-1.5zM131.8 206.9h1.7v1.7h-1.7zM149.1 196.8h1.8v1.8h-1.8zM147.5 185.8h1.4v1.4h-1.4zM134.8 171.2h1.7v1.7h-1.7zM151.1 194.0h1.7v1.7h-1.7zM123.6 176.1h1.5v1.5h-1.5zM152.1 192.9h1.5v1.5h-1.5zM136.8 209.8h1.6v1.6h-1.6zM149.0 179.4h1.7v1.7h-1.7zM125.9 185.4h1.4v1.4h-1.4zM126.0 172.8h1.7v1.7h-1.7zM118.4 215.4h1.8v1.8h-1.8zM127.1 191.4h1.8v1.8h-1.8zM129.9 178.6h1.7v1.7h-1.7zM125.1 208.2h1.4v1.4h-1.4zM130.3 189.8h1.6v1.6h-1.6zM115.6 174.4h1.5v1.5h-1.5zM115.2 197.0h1.5v1.5h-1.5zM128.7 209.7h1.4v1.4h-1.4zM110.4 178.9h1.7v1.7h-1.7zM125.1 168.4h1.6v1.6h-1.6zM148.4 204.5h1.8v1.8h-1.8zM116.1 188.6h1.8v1.8h-1.8zM128.0 170.2h1.5v1.5h-1.5zM129.8 192.5h1.4v1.4h-1.4zM125.3 195.1h1.5v1.5h-1.5zM132.7 213.9h1.6v1.6h-1.6zM130.4 181.8h1.4v1.4h-1.4zM133.6 196.7h1.4v1.4h-1.4zM138.4 177.1h1.8v1.8h-1.8zM127.8 210.5h1.7v1.7h-1.7zM145.8 185.2h1.6v1.6h-1.6zM138.3 191.1h1.5v1.5h-1.5zM116.2 181.4h1.4v1.4h-1.4zM149.3 198.0h1.7v1.7h-1.7zM131.4 182.6h1.5v1.5h-1.5zM119.4 204.8h1.8v1.8h-1.8zM144.5 179.3h1.7v1.7h-1.7zM113.7 171.2h1.4v1.4h-1.4zM125.0 186.5h1.8v1.8h-1.8zM126.9 188.6h1.7v1.7h-1.7zM155.3 202.7h1.4v1.4h-1.4zM128.2 191.3h1.4v1.4h-1.4zM113.8 171.5h1.8v1.8h-1.8zM112.9 189.0h1.6v1.6h-1.6zM155.1 192.0h1.5v1.5h-1.5zM134.9 183.6h1.7v1.7h-1.7zM114.2 169.9h1.8v1.8h-1.8zM118.2 211.6h1.8v1.8h-1.8zM120.6 202.6h1.6v1.6h-1.6zM120.3 190.8h1.8v1.8h-1.8zM150.2 198.9h1.6v1.6h-1.6z" fill="#fa5a0a"/><path d="M116.7 189.3h1.6v1.6h-1.6zM131.6 184.4h1.5v1.5h-1.5zM115.6 172.5h1.6v1.6h-1.6zM134.8 206.1h1.6v1.6h-1.6zM128.8 166.9h1.4v1.4h-1.4zM112.3 173.1h1.8v1.8h-1.8zM136.3 169.9h1.4v1.4h-1.4zM141.4 207.0h1.5v1.5h-1.5zM143.5 187.9h1.8v1.8h-1.8zM139.7 184.1h1.7v1.7h-1.7zM143.4 180.3h1.7v1.7h-1.7zM115.8 168.9h1.6v1.6h-1.6zM125.1 201.7h1.6v1.6h-1.6zM115.7 204.2h1.4v1.4h-1.4zM136.6 178.2h1.8v1.8h-1.8zM153.6 185.2h1.4v1.4h-1.4zM119.9 215.1h1.5v1.5h-1.5zM139.9 186.4h1.6v1.6h-1.6zM111.8 193.3h1.7v1.7h-1.7zM159.2 200.6h1.5v1.5h-1.5zM118.8 175.9h1.8v1.8h-1.8zM129.4 167.6h1.4v1.4h-1.4zM135.2 191.6h1.6v1.6h-1.6zM122.9 171.3h1.4v1.4h-1.4zM115.7 198.0h1.5v1.5h-1.5zM114.7 174.4h1.5v1.5h-1.5zM122.7 171.4h1.7v1.7h-1.7zM119.5 166.6h1.6v1.6h-1.6zM150.4 190.4h1.4v1.4h-1.4zM120.6 203.7h1.8v1.8h-1.8zM117.0 195.2h1.5v1.5h-1.5zM134.0 188.2h1.8v1.8h-1.8zM140.8 203.6h1.5v1.5h-1.5zM157.3 198.9h1.7v1.7h-1.7zM154.9 202.3h1.5v1.5h-1.5zM119.5 207.4h1.5v1.5h-1.5zM134.4 189.4h1.4v1.4h-1.4zM133.0 202.0h1.4v1.4h-1.4zM150.9 183.7h1.4v1.4h-1.4zM126.1 209.7h1.5v1.5h-1.5zM133.2 184.6h1.5v1.5h-1.5zM139.8 192.7h1.8v1.8h-1.8zM124.9 171.4h1.5v1.5h-1.5zM118.5 215.2h1.5v1.5h-1.5zM118.7 177.9h1.8v1.8h-1.8zM135.9 171.5h1.5v1.5h-1.5zM148.3 178.0h1.6v1.6h-1.6zM139.0 198.5h1.6v1.6h-1.6zM146.4 190.4h1.5v1.5h-1.5zM143.6 175.3h1.7v1.7h-1.7zM137.4 190.3h1.5v1.5h-1.5zM113.6 182.3h1.4v1.4h-1.4zM137.9 181.6h1.7v1.7h-1.7zM119.8 210.6h1.6v1.6h-1.6zM120.5 169.8h1.7v1.7h-1.7zM121.8 206.2h1.8v1.8h-1.8zM141.1 191.5h1.5v1.5h-1.5zM129.7 174.3h1.7v1.7h-1.7zM125.7 207.5h1.8v1.8h-1.8zM145.7 186.3h1.6v1.6h-1.6zM139.7 175.2h1.7v1.7h-1.7zM136.3 208.8h1.4v1.4h-1.4zM139.2 206.0h1.4v1.4h-1.4zM113.2 169.9h1.7v1.7h-1.7zM122.3 201.8h1.5v1.5h-1.5zM125.5 169.8h1.4v1.4h-1.4zM156.4 196.6h1.8v1.8h-1.8zM137.9 187.6h1.5v1.5h-1.5zM123.8 187.3h1.6v1.6h-1.6zM123.3 210.2h1.4v1.4h-1.4zM149.7 205.2h1.5v1.5h-1.5zM115.7 182.2h1.5v1.5h-1.5zM114.8 183.5h1.8v1.8h-1.8zM132.3 187.8h1.5v1.5h-1.5zM140.2 178.6h1.7v1.7h-1.7zM114.6 181.4h1.4v1.4h-1.4zM145.7 205.1h1.7v1.7h-1.7zM149.3 200.0h1.7v1.7h-1.7zM124.3 204.8h1.4v1.4h-1.4zM140.1 188.1h1.6v1.6h-1.6zM123.2 198.6h1.5v1.5h-1.5zM112.2 202.7h1.8v1.8h-1.8zM126.7 172.3h1.4v1.4h-1.4zM118.0 188.1h1.8v1.8h-1.8zM114.0 180.4h1.6v1.6h-1.6zM142.3 205.2h1.5v1.5h-1.5zM132.3 183.7h1.7v1.7h-1.7zM114.9 171.2h1.5v1.5h-1.5zM123.2 185.6h1.6v1.6h-1.6zM125.6 215.1h1.4v1.4h-1.4zM121.9 174.3h1.4v1.4h-1.4zM126.5 180.4h1.5v1.5h-1.5zM131.2 196.0h1.8v1.8h-1.8zM121.0 177.2h1.6v1.6h-1.6zM113.4 181.4h1.8v1.8h-1.8zM111.4 180.0h1.5v1.5h-1.5zM111.3 195.3h1.4v1.4h-1.4zM129.7 170.8h1.8v1.8h-1.8zM138.5 208.0h1.8v1.8h-1.8zM122.1 207.6h1.6v1.6h-1.6zM149.7 181.9h1.7v1.7h-1.7zM152.6 200.8h1.7v1.7h-1.7zM156.2 197.4h1.6v1.6h-1.6zM113.8 209.9h1.5v1.5h-1.5zM129.0 174.8h1.7v1.7h-1.7zM150.5 204.3h1.8v1.8h-1.8zM132.7 199.7h1.6v1.6h-1.6zM118.0 186.8h1.6v1.6h-1.6zM115.3 207.1h1.6v1.6h-1.6zM155.1 200.3h1.5v1.5h-1.5z" fill="#ffffff"/><polygon points="70.4,173.3 70.9,173.1 71.8,171.3 72.8,170.3 73.9,169.1 75.4,168.9 76.1,168.0 78.0,167.5 79.5,167.6 80.6,166.5 80.8,166.9 82.5,167.6 84.4,167.5 85.4,167.7 85.8,167.3 87.3,166.7 88.3,166.7 90.8,165.5 91.6,165.0 92.6,165.5 94.5,166.5 95.8,166.0 96.8,166.9 97.8,167.5 99.2,166.7 100.6,167.2 101.2,167.5 102.2,167.4 104.2,166.9 105.3,167.9 106.2,169.2 106.3,171.1 107.3,170.8 108.1,172.2 108.2,173.8 108.5,175.2 108.2,176.0 108.0,177.3 107.0,178.9 105.5,178.9 105.5,179.6 104.5,180.7 102.6,181.0 102.3,181.4 100.9,183.0 99.7,183.1 97.6,183.1 97.2,182.5 95.8,183.5 93.6,183.7 92.5,182.0 91.2,182.4 89.6,182.2 89.0,181.4 88.1,181.4 87.2,181.3 85.7,180.9 84.4,179.8 82.1,179.3 81.6,179.6 80.4,178.7 78.3,178.5 77.0,177.5 75.8,178.0 75.8,177.6 73.3,177.6 72.1,177.3 72.0,176.6 70.5,174.6" fill="#fa5a0a" /><path d="M85.2 174.7h1.1v1.1h-1.1zM75.5 174.1h1.3v1.3h-1.3zM84.1 172.3h1.1v1.1h-1.1zM82.6 170.1h1.1v1.1h-1.1zM93.5 182.2h1.1v1.1h-1.1zM73.2 173.5h1.1v1.1h-1.1zM79.5 169.5h1.0v1.0h-1.0zM106.3 177.0h1.3v1.3h-1.3zM96.2 180.0h1.2v1.2h-1.2zM87.6 173.1h1.1v1.1h-1.1zM87.0 179.1h1.2v1.2h-1.2zM103.3 175.2h1.4v1.4h-1.4z" fill="#ffffff"/><polygon points="69.7,197.7 70.7,195.6 71.6,194.5 72.7,194.0 73.6,193.9 74.9,194.3 76.3,194.0 77.7,192.4 79.1,192.2 79.9,192.0 81.1,191.6 83.4,191.8 84.9,192.9 84.5,194.0 85.2,195.6 86.4,196.0 86.6,197.5 86.1,199.0 86.0,200.1 85.3,201.5 85.5,202.4 83.8,203.4 83.0,204.2 81.7,204.7 80.6,205.3 79.5,205.8 78.1,204.7 76.7,205.4 75.7,205.1 73.7,205.1 73.3,203.7 70.9,202.8 70.3,201.1 70.0,200.4 70.1,198.6" fill="#fa5a0a" /><polygon points="97.4,190.1 98.2,188.9 99.6,188.0 100.1,186.3 101.2,186.3 102.6,185.8 103.5,183.9 104.9,185.3 106.4,186.7 107.0,186.6 108.2,187.6 108.2,188.7 108.5,190.5 109.1,191.1 110.6,193.0 110.9,194.2 111.5,195.9 112.0,196.4 111.5,197.3 111.3,198.6 111.7,200.7 110.4,201.9 110.7,202.3 110.7,204.5 110.1,206.0 109.4,206.0 110.1,208.1 109.0,209.3 109.6,210.3 108.8,212.2 109.7,213.1 107.5,213.9 106.9,214.7 105.8,215.1 104.7,215.5 102.4,214.3 102.0,214.3 101.0,214.8 99.1,213.6 98.1,212.3 97.1,211.8 96.1,211.0 95.8,208.9 94.7,207.5 94.1,206.3 96.4,206.1 96.2,204.4 97.7,204.6 99.0,203.5 100.6,202.8 101.2,202.9 103.0,201.6 103.2,200.5 103.3,198.7 101.7,197.9 101.4,196.1 100.4,196.2 99.5,194.6 99.7,193.8 99.3,193.2 98.2,191.5" fill="#fa5a0a" /><ellipse cx="90.3" cy="173.9" rx="21.5" ry="12" transform="rotate(3 90.3 173.9)" fill="none" stroke="#6f52b8" stroke-width="0.85" stroke-dasharray="1.6 1.3"/><ellipse cx="78.3" cy="199.4" rx="12.6" ry="12.9" transform="rotate(0 78.3 199.4)" fill="none" stroke="#6f52b8" stroke-width="0.85" stroke-dasharray="1.6 1.3"/><ellipse cx="103.8" cy="199.7" rx="11.7" ry="17.7" transform="rotate(0 103.8 199.7)" fill="none" stroke="#6f52b8" stroke-width="0.85" stroke-dasharray="1.6 1.3"/><ellipse cx="127.7" cy="178" rx="17" ry="15.3" transform="rotate(0 127.7 178)" fill="none" stroke="#6f52b8" stroke-width="0.85" stroke-dasharray="1.6 1.3"/><circle cx="93.2" cy="240.2" r="3.2" fill="#7fcbe8"/><circle cx="93.2" cy="247.1" r="3.2" fill="#f47a3a"/><text x="99.5" y="241.9" font-size="4.9" text-anchor="start" fill="#222" font-family="&quot;Liberation Sans&quot;, sans-serif" >Non-responder</text><text x="99.5" y="248.8" font-size="4.9" text-anchor="start" fill="#222" font-family="&quot;Liberation Sans&quot;, sans-serif" >Responder</text><line x1="220.7" y1="131" x2="220.7" y2="168" stroke="#e4e4e4" stroke-width="0.5"/><line x1="232.7" y1="131" x2="232.7" y2="168" stroke="#e4e4e4" stroke-width="0.5"/><line x1="243.4" y1="131" x2="243.4" y2="168" stroke="#e4e4e4" stroke-width="0.5"/><line x1="253.5" y1="131" x2="253.5" y2="168" stroke="#e4e4e4" stroke-width="0.5"/><line x1="279.5" y1="131" x2="279.5" y2="168" stroke="#e4e4e4" stroke-width="0.5"/><line x1="295" y1="131" x2="295" y2="168" stroke="#e4e4e4" stroke-width="0.5"/><line x1="309" y1="131" x2="309" y2="168" stroke="#e4e4e4" stroke-width="0.5"/><line x1="263.5" y1="131" x2="263.5" y2="210" stroke="#dadada" stroke-width="0.5"/><line x1="321.5" y1="128" x2="321.5" y2="218" stroke="#dadada" stroke-width="0.5"/><line x1="216" y1="137.5" x2="335" y2="137.5" stroke="#e4e4e4" stroke-width="0.5"/><line x1="216" y1="148.2" x2="335" y2="148.2" stroke="#e4e4e4" stroke-width="0.5"/><line x1="216" y1="158.9" x2="335" y2="158.9" stroke="#e4e4e4" stroke-width="0.5"/><line x1="322" y1="140" x2="345" y2="135" stroke="#e4e4e4" stroke-width="0.5"/><line x1="322" y1="160" x2="345" y2="157" stroke="#e4e4e4" stroke-width="0.5"/><line x1="322" y1="180" x2="345" y2="179" stroke="#e4e4e4" stroke-width="0.5"/><line x1="322" y1="200" x2="345" y2="201" stroke="#e4e4e4" stroke-width="0.5"/><line x1="230" y1="222" x2="250" y2="232" stroke="#e4e4e4" stroke-width="0.5"/><line x1="260" y1="222" x2="285" y2="232" stroke="#e4e4e4" stroke-width="0.5"/><line x1="290" y1="221" x2="318" y2="230" stroke="#e4e4e4" stroke-width="0.5"/><line x1="213" y1="171.3" x2="240" y2="163" stroke="#d6d6d6" stroke-width="0.5"/><line x1="240" y1="163" x2="335" y2="163" stroke="#d6d6d6" stroke-width="0.5"/><line x1="228" y1="222" x2="335" y2="222" stroke="#dcdcdc" stroke-width="0.5"/><text x="213.2" y="140.3" font-size="6.6" text-anchor="end" fill="#333" font-family="&quot;Liberation Sans&quot;, sans-serif" >30</text><text x="213.8" y="152.3" font-size="6.6" text-anchor="end" fill="#333" font-family="&quot;Liberation Sans&quot;, sans-serif" >20</text><text x="215" y="163.10000000000002" font-size="6.6" text-anchor="end" fill="#333" font-family="&quot;Liberation Sans&quot;, sans-serif" >10</text><text x="215.5" y="173.8" font-size="6.6" text-anchor="end" fill="#333" font-family="&quot;Liberation Sans&quot;, sans-serif" >0</text><text x="217.6" y="184.3" font-size="6.6" text-anchor="end" fill="#333" font-family="&quot;Liberation Sans&quot;, sans-serif" >-10</text><text x="218.5" y="195.3" font-size="6.6" text-anchor="end" fill="#333" font-family="&quot;Liberation Sans&quot;, sans-serif" >-20</text><text x="220.3" y="205.3" font-size="6.6" text-anchor="end" fill="#333" font-family="&quot;Liberation Sans&quot;, sans-serif" >-30</text><text x="0" y="0" font-size="8" text-anchor="start" fill="#111" font-family="&quot;Liberation Sans&quot;, sans-serif" transform="translate(199,153.6) rotate(90) scale(0.58,1)" stroke="#111" stroke-width="0.12">Dimension 3</text><text x="0" y="0" font-size="7" text-anchor="start" fill="#111" font-family="&quot;Liberation Sans&quot;, sans-serif" transform="translate(205,208.5) rotate(66) scale(0.72,1)" stroke="#111" stroke-width="0.12">Dimension</text><text x="0" y="0" font-size="5" text-anchor="start" fill="#333" font-family="&quot;Liberation Sans&quot;, sans-serif" transform="translate(210.5,201.5) rotate(66)">-30</text><text x="0" y="0" font-size="5" text-anchor="start" fill="#333" font-family="&quot;Liberation Sans&quot;, sans-serif" transform="translate(213.4,206.2) rotate(66)">-20</text><text x="0" y="0" font-size="5" text-anchor="start" fill="#333" font-family="&quot;Liberation Sans&quot;, sans-serif" transform="translate(216.3,210.9) rotate(66)">-10</text><text x="0" y="0" font-size="5" text-anchor="start" fill="#333" font-family="&quot;Liberation Sans&quot;, sans-serif" transform="translate(219.2,215.6) rotate(66)">0</text><text x="0" y="0" font-size="5" text-anchor="start" fill="#333" font-family="&quot;Liberation Sans&quot;, sans-serif" transform="translate(222.1,220.3) rotate(66)">10</text><text x="0" y="0" font-size="5" text-anchor="start" fill="#333" font-family="&quot;Liberation Sans&quot;, sans-serif" transform="translate(225.0,225.0) rotate(66)">0</text><polygon points="279.6,135.8 281.7,136.2 282.8,134.7 282.1,136.8 282.6,137.0 283.2,138.6 284.4,139.8 284.3,141.5 284.1,142.4 284.5,143.2 284.9,144.4 285.2,146.9 286.4,147.8 286.3,148.9 287.2,150.7 287.2,152.0 288.7,152.5 288.8,153.8 289.2,155.7 288.6,156.2 289.0,158.0 289.1,159.0 288.4,160.4 287.9,159.8 285.8,161.0 286.6,158.9 285.0,157.0 285.9,157.1 284.7,155.5 284.6,154.0 284.6,153.0 283.5,151.8 283.0,149.8 281.8,148.4 282.0,148.1 280.9,145.6 280.6,145.0 280.0,144.1 278.8,143.3 278.9,140.8 278.6,140.0 278.7,138.1 279.5,137.9" fill="#f68d4e" /><path d="M285.8 156.2h1.2v1.2h-1.2zM286.8 153.7h1.1v1.1h-1.1zM279.7 144.0h1.3v1.3h-1.3z" fill="#ffffff"/><polygon points="253.1,171.6 253.0,170.7 254.2,169.8 256.3,168.8 255.8,167.3 258.4,166.4 258.8,165.4 260.0,165.1 262.3,165.6 262.2,164.9 263.6,164.1 265.3,164.5 266.6,164.8 267.7,165.1 268.6,165.2 269.6,166.4 272.3,167.4 273.0,167.7 274.1,168.7 274.4,169.1 275.1,169.7 276.3,171.9 276.4,173.1 275.2,174.9 275.0,176.1 275.2,176.7 276.0,177.7 275.2,180.0 273.4,181.2 273.6,182.5 271.6,181.9 270.7,181.6 268.7,182.2 268.5,182.4 266.0,182.8 264.9,183.0 264.7,181.6 262.9,182.3 261.2,180.5 260.5,179.6 261.0,177.6 258.3,177.6 258.3,176.5 256.6,177.3 254.6,177.2 254.7,175.7 252.4,177.0 251.3,176.3 250.7,174.9 248.3,173.7 250.9,173.9 251.9,172.0" fill="#f68d4e" /><path d="M252.5 171.3h1.2v1.2h-1.2zM265.5 174.4h1.4v1.4h-1.4zM267.1 177.0h1.0v1.0h-1.0zM263.4 175.5h1.1v1.1h-1.1zM264.5 164.2h1.4v1.4h-1.4zM267.5 175.9h1.3v1.3h-1.3zM265.8 177.8h1.1v1.1h-1.1zM254.3 172.9h1.3v1.3h-1.3zM267.6 180.5h1.4v1.4h-1.4zM262.1 165.2h1.1v1.1h-1.1z" fill="#ffffff"/><polygon points="280.4,173.1 280.2,172.2 282.1,171.1 282.6,170.3 283.5,169.2 283.7,166.9 285.9,167.3 287.1,166.8 288.4,166.0 288.2,165.4 290.0,165.4 290.7,164.8 292.2,163.9 294.1,165.0 294.6,164.8 296.5,165.5 298.4,165.2 298.9,165.7 300.3,168.0 300.9,168.3 301.4,170.2 300.8,171.3 300.1,172.9 300.3,174.4 301.4,175.0 302.5,175.3 304.5,176.0 304.7,177.9 306.3,179.3 307.0,180.8 306.1,181.0 305.9,182.7 306.3,184.4 305.3,185.5 304.3,185.8 303.1,185.3 300.7,186.0 300.6,186.5 299.7,186.4 297.3,187.3 296.0,187.8 295.0,187.8 294.2,187.2 292.2,185.7 291.7,185.1 289.5,184.5 289.5,184.4 288.0,184.0 287.1,183.9 284.5,183.9 283.5,183.0 283.6,181.4 281.9,180.7 280.8,179.8 281.5,179.6 279.9,177.7 279.9,176.3 279.2,175.7 279.6,173.4" fill="#f68d4e" /><path d="M295.5 167.3h1.3v1.3h-1.3zM290.9 167.2h1.3v1.3h-1.3zM283.9 182.0h1.0v1.0h-1.0zM299.3 167.8h1.4v1.4h-1.4zM296.0 169.2h1.3v1.3h-1.3zM282.1 169.4h1.2v1.2h-1.2zM301.6 183.5h1.3v1.3h-1.3zM291.0 176.9h1.3v1.3h-1.3zM279.9 173.4h1.3v1.3h-1.3zM282.7 173.0h1.1v1.1h-1.1z" fill="#ffffff"/><polygon points="264.6,184.5 267.3,184.3 267.2,183.6 269.1,183.6 270.7,184.0 271.1,185.1 272.3,185.2 274.3,185.6 274.3,186.9 275.1,188.1 276.8,189.5 276.6,190.2 277.3,192.1 278.7,192.5 279.5,193.9 279.2,195.0 279.2,197.2 279.9,196.9 280.5,198.4 280.7,200.5 279.9,201.9 279.4,202.6 279.5,203.8 279.7,205.1 278.7,206.6 278.5,207.7 277.8,208.7 277.9,211.0 276.7,211.8 275.9,211.4 274.1,211.5 273.0,212.3 272.2,212.7 270.9,212.8 269.3,212.8 268.5,212.0 265.9,211.1 266.3,210.9 265.1,208.9 263.3,209.5 263.5,207.6 262.5,206.0 262.1,205.9 262.2,204.3 263.4,203.7 264.2,202.6 266.8,202.1 267.8,200.6 268.2,199.9 270.6,200.2 269.9,197.4 270.7,197.0 270.6,195.7 269.2,192.9 268.5,193.0 268.6,191.4 268.5,189.9 267.3,189.4 266.5,187.5 266.4,187.1" fill="#f68d4e" /><path d="M271.4 189.1h1.3v1.3h-1.3zM266.5 210.5h1.2v1.2h-1.2zM274.0 209.5h1.2v1.2h-1.2zM272.2 190.2h1.4v1.4h-1.4zM274.7 204.2h1.2v1.2h-1.2zM262.7 204.8h1.1v1.1h-1.1zM272.5 204.5h1.3v1.3h-1.3zM278.9 198.3h1.4v1.4h-1.4zM270.4 188.3h1.2v1.2h-1.2zM264.6 202.4h1.2v1.2h-1.2z" fill="#ffffff"/><polygon points="238.1,191.8 239.7,191.2 240.8,191.6 242.1,191.8 243.2,191.0 244.3,190.9 246.6,192.4 247.5,192.5 248.1,194.5 247.2,197.1 246.5,196.5 244.6,196.3 243.0,196.2 242.2,196.0 241.5,196.4 238.6,196.1 238.2,195.8 237.5,193.8" fill="#f68d4e" /><path d="M245.8 192.0h1.3v1.3h-1.3zM243.9 191.6h1.1v1.1h-1.1zM238.9 193.7h1.3v1.3h-1.3z" fill="#ffffff"/><polygon points="242.4,199.2 243.0,199.6 244.3,200.1 246.4,199.5 247.8,199.1 247.9,200.1 249.7,199.4 250.5,200.6 252.1,201.3 252.8,203.0 251.3,204.0 249.8,205.2 248.1,206.0 247.7,205.2 246.4,204.3 245.7,204.5 244.6,204.6 243.2,203.2 242.3,203.4 241.5,201.2" fill="#f68d4e" /><path d="M247.3 203.9h1.3v1.3h-1.3zM243.7 199.9h1.2v1.2h-1.2zM247.2 200.4h1.2v1.2h-1.2z" fill="#ffffff"/><polygon points="278.7,134.2 281.1,133.6 281.6,132.5 282.7,132.1 284.3,133.4 285.8,133.2 286.8,135.0 287.7,135.7 289.0,137.7 288.6,138.7 288.7,140.2 288.0,141.4 287.3,142.1 287.1,142.6 286.7,143.5 284.7,145.1 284.1,145.9 283.6,146.0 282.2,145.3 280.7,143.6 279.8,142.8 279.2,140.9 279.3,139.3 279.1,139.3 279.7,137.7 279.5,136.8 279.1,135.9" fill="#f68d4e" /><path d="M305.9 141.7h1.2v1.2h-1.2zM294.3 133.1h1.4v1.4h-1.4zM289.9 138.1h1.3v1.3h-1.3zM295.0 139.7h1.5v1.5h-1.5zM303.4 138.9h1.4v1.4h-1.4zM277.8 134.5h1.6v1.6h-1.6zM289.9 137.8h1.3v1.3h-1.3zM293.6 138.6h1.5v1.5h-1.5zM296.7 141.4h1.3v1.3h-1.3zM298.2 142.9h1.3v1.3h-1.3zM295.1 137.3h1.5v1.5h-1.5zM283.1 131.7h1.6v1.6h-1.6zM295.3 144.9h1.4v1.4h-1.4zM296.1 140.0h1.6v1.6h-1.6zM307.6 142.7h1.6v1.6h-1.6zM292.6 142.8h1.5v1.5h-1.5zM292.0 139.9h1.4v1.4h-1.4z" fill="#f68a48"/><path d="M282.6 136.8h1.4v1.4h-1.4zM285.3 142.0h1.5v1.5h-1.5zM281.6 140.3h1.6v1.6h-1.6zM288.1 141.6h1.6v1.6h-1.6zM292.2 132.4h1.5v1.5h-1.5z" fill="#f9ab7d"/><path d="M290.1 145.0h1.2v1.2h-1.2zM300.2 135.5h1.4v1.4h-1.4zM294.6 133.0h1.6v1.6h-1.6zM285.7 138.7h1.6v1.6h-1.6zM289.2 137.1h1.3v1.3h-1.3zM293.3 141.8h1.5v1.5h-1.5zM294.3 148.8h1.3v1.3h-1.3zM291.9 136.4h1.3v1.3h-1.3zM291.9 131.0h1.3v1.3h-1.3z" fill="#f0702c"/><path d="M294.7 144.3h1.5v1.5h-1.5zM293.5 138.9h1.5v1.5h-1.5zM296.1 148.9h1.3v1.3h-1.3zM283.8 134.4h1.2v1.2h-1.2zM285.2 135.6h1.3v1.3h-1.3zM279.7 141.1h1.4v1.4h-1.4zM291.5 138.8h1.5v1.5h-1.5z" fill="#f7a06a"/><path d="M282.4 131.8h1.3v1.3h-1.3zM289.0 136.7h1.2v1.2h-1.2zM284.9 140.5h1.6v1.6h-1.6zM303.1 141.7h1.4v1.4h-1.4zM285.4 138.6h1.4v1.4h-1.4zM287.2 144.5h1.4v1.4h-1.4zM288.9 132.2h1.5v1.5h-1.5z" fill="#f57d38"/><path d="M278.0 142.1h1.4v1.4h-1.4zM288.5 146.8h1.4v1.4h-1.4zM286.9 145.1h1.4v1.4h-1.4z" fill="#f57d38"/><path d="M291.0 147.2h1.3v1.3h-1.3zM288.7 141.2h1.4v1.4h-1.4zM281.4 146.9h1.4v1.4h-1.4z" fill="#f7a06a"/><path d="M281.4 150.3h1.3v1.3h-1.3zM281.0 146.2h1.5v1.5h-1.5zM281.3 149.4h1.2v1.2h-1.2zM282.2 150.1h1.4v1.4h-1.4zM284.8 140.3h1.2v1.2h-1.2z" fill="#f68a48"/><path d="M289.2 140.6h1.5v1.5h-1.5zM285.9 150.8h1.2v1.2h-1.2z" fill="#f0702c"/><path d="M286.7 159.4h1.3v1.3h-1.3zM285.0 155.2h1.3v1.3h-1.3z" fill="#f9ab7d"/><path d="M246.9 175.4h1.5v1.5h-1.5zM236.4 170.6h1.4v1.4h-1.4zM246.9 175.5h1.3v1.3h-1.3zM245.0 172.4h1.5v1.5h-1.5zM245.5 174.3h1.4v1.4h-1.4zM242.3 167.5h1.5v1.5h-1.5zM241.7 171.1h1.5v1.5h-1.5z" fill="#f0702c"/><path d="M250.0 170.6h1.5v1.5h-1.5zM244.4 171.9h1.4v1.4h-1.4zM237.8 168.1h1.5v1.5h-1.5zM241.5 168.9h1.4v1.4h-1.4zM255.3 171.3h1.4v1.4h-1.4zM243.4 172.0h1.5v1.5h-1.5zM242.9 166.5h1.6v1.6h-1.6zM242.4 178.1h1.6v1.6h-1.6zM244.4 172.2h1.4v1.4h-1.4zM237.0 169.8h1.2v1.2h-1.2zM252.6 170.4h1.3v1.3h-1.3zM236.3 169.6h1.4v1.4h-1.4zM250.4 163.5h1.6v1.6h-1.6zM237.8 173.7h1.4v1.4h-1.4zM233.3 173.6h1.5v1.5h-1.5zM249.9 179.2h1.5v1.5h-1.5z" fill="#f68a48"/><path d="M245.1 170.5h1.6v1.6h-1.6zM247.2 169.6h1.3v1.3h-1.3zM240.0 171.6h1.4v1.4h-1.4zM247.5 171.0h1.5v1.5h-1.5zM245.1 171.9h1.4v1.4h-1.4zM245.1 173.6h1.3v1.3h-1.3zM250.6 171.1h1.5v1.5h-1.5z" fill="#f57d38"/><path d="M240.4 167.7h1.5v1.5h-1.5zM243.4 165.4h1.6v1.6h-1.6zM248.4 175.2h1.3v1.3h-1.3zM247.5 167.2h1.3v1.3h-1.3zM237.1 172.1h1.6v1.6h-1.6z" fill="#f7a06a"/><path d="M249.9 174.5h1.2v1.2h-1.2zM252.4 174.3h1.3v1.3h-1.3zM242.1 172.2h1.5v1.5h-1.5zM254.8 172.9h1.2v1.2h-1.2zM241.1 176.0h1.3v1.3h-1.3z" fill="#f9ab7d"/><path d="M300.9 178.5h1.5v1.5h-1.5zM289.1 182.7h1.3v1.3h-1.3zM295.8 180.7h1.5v1.5h-1.5zM301.7 182.6h1.4v1.4h-1.4zM298.0 178.2h1.3v1.3h-1.3zM296.3 179.4h1.3v1.3h-1.3zM288.0 183.7h1.2v1.2h-1.2zM307.6 187.6h1.3v1.3h-1.3zM297.4 180.6h1.2v1.2h-1.2zM307.1 180.6h1.4v1.4h-1.4zM298.6 180.9h1.1v1.1h-1.1zM300.6 175.2h1.3v1.3h-1.3zM301.7 182.0h1.4v1.4h-1.4zM296.9 184.1h1.4v1.4h-1.4zM303.8 184.4h1.4v1.4h-1.4zM308.2 182.7h1.5v1.5h-1.5zM296.1 176.2h1.4v1.4h-1.4zM298.3 178.0h1.2v1.2h-1.2zM301.1 185.5h1.1v1.1h-1.1zM294.3 175.4h1.2v1.2h-1.2zM313.1 184.4h1.3v1.3h-1.3zM299.6 175.7h1.3v1.3h-1.3zM308.2 184.2h1.2v1.2h-1.2zM296.3 183.5h1.2v1.2h-1.2zM298.0 181.9h1.5v1.5h-1.5zM301.1 176.9h1.4v1.4h-1.4zM306.0 174.8h1.5v1.5h-1.5zM304.8 174.7h1.1v1.1h-1.1zM309.0 184.8h1.2v1.2h-1.2zM298.7 183.0h1.3v1.3h-1.3z" fill="#ffffff"/><path d="M240.3 193.1h1.3v1.3h-1.3zM238.9 196.8h1.4v1.4h-1.4zM244.3 194.2h1.2v1.2h-1.2zM250.5 194.4h1.3v1.3h-1.3zM252.5 195.9h1.3v1.3h-1.3zM242.8 198.5h1.4v1.4h-1.4zM244.0 189.7h1.5v1.5h-1.5zM241.2 199.3h1.3v1.3h-1.3z" fill="#f0702c"/><path d="M240.7 194.0h1.2v1.2h-1.2zM240.5 191.4h1.5v1.5h-1.5zM240.0 190.7h1.4v1.4h-1.4zM232.7 195.8h1.4v1.4h-1.4zM252.7 197.9h1.4v1.4h-1.4zM245.4 204.3h1.2v1.2h-1.2zM245.0 194.5h1.4v1.4h-1.4zM248.9 200.8h1.3v1.3h-1.3zM242.9 196.0h1.2v1.2h-1.2zM243.2 192.0h1.6v1.6h-1.6zM247.4 192.1h1.4v1.4h-1.4zM243.3 192.3h1.2v1.2h-1.2zM245.2 198.6h1.3v1.3h-1.3zM233.5 191.1h1.5v1.5h-1.5zM242.3 201.8h1.6v1.6h-1.6z" fill="#f68a48"/><path d="M250.7 192.2h1.2v1.2h-1.2zM246.9 199.1h1.5v1.5h-1.5zM242.3 190.5h1.3v1.3h-1.3zM243.2 197.0h1.4v1.4h-1.4z" fill="#f7a06a"/><path d="M243.1 203.5h1.3v1.3h-1.3zM238.5 196.4h1.5v1.5h-1.5zM245.6 192.4h1.6v1.6h-1.6zM236.3 192.8h1.2v1.2h-1.2zM232.7 196.7h1.6v1.6h-1.6z" fill="#f9ab7d"/><path d="M258.9 205.6h1.5v1.5h-1.5zM243.7 199.7h1.5v1.5h-1.5zM242.3 192.9h1.5v1.5h-1.5z" fill="#f57d38"/><path d="M315.4 185.3h1.6v1.6h-1.6zM329.8 191.5h1.3v1.3h-1.3zM321.5 196.0h1.2v1.2h-1.2zM314.5 197.1h1.6v1.6h-1.6zM319.3 184.7h1.3v1.3h-1.3zM315.6 185.9h1.3v1.3h-1.3zM308.4 183.7h1.2v1.2h-1.2zM326.2 193.0h1.3v1.3h-1.3zM305.0 183.5h1.5v1.5h-1.5zM312.7 185.0h1.2v1.2h-1.2zM320.7 203.3h1.5v1.5h-1.5zM323.9 182.3h1.2v1.2h-1.2zM312.5 190.1h1.4v1.4h-1.4zM328.8 183.3h1.3v1.3h-1.3z" fill="#f68a48"/><path d="M315.6 191.7h1.5v1.5h-1.5zM310.8 185.3h1.6v1.6h-1.6zM315.4 201.2h1.5v1.5h-1.5zM307.1 194.0h1.3v1.3h-1.3zM318.1 185.4h1.5v1.5h-1.5zM307.9 180.9h1.4v1.4h-1.4zM313.6 183.0h1.4v1.4h-1.4zM317.4 188.3h1.6v1.6h-1.6z" fill="#f0702c"/><path d="M308.0 191.5h1.5v1.5h-1.5zM312.9 183.2h1.3v1.3h-1.3zM311.1 185.0h1.5v1.5h-1.5zM314.8 211.2h1.2v1.2h-1.2zM309.5 196.9h1.4v1.4h-1.4zM324.4 185.9h1.4v1.4h-1.4zM314.2 170.4h1.5v1.5h-1.5zM318.1 166.8h1.3v1.3h-1.3zM315.8 172.7h1.4v1.4h-1.4zM293.4 181.3h1.3v1.3h-1.3z" fill="#f7a06a"/><path d="M310.7 174.1h1.5v1.5h-1.5zM309.8 188.5h1.3v1.3h-1.3zM305.8 192.4h1.2v1.2h-1.2zM317.3 187.5h1.4v1.4h-1.4zM318.8 189.5h1.4v1.4h-1.4zM305.8 191.4h1.4v1.4h-1.4zM323.0 180.6h1.5v1.5h-1.5z" fill="#f9ab7d"/><path d="M307.4 189.5h1.3v1.3h-1.3zM314.6 168.7h1.2v1.2h-1.2zM319.9 181.1h1.3v1.3h-1.3zM307.1 185.6h1.4v1.4h-1.4zM309.1 204.3h1.2v1.2h-1.2zM316.2 173.7h1.4v1.4h-1.4zM314.9 178.1h1.6v1.6h-1.6zM310.6 193.8h1.3v1.3h-1.3zM306.5 190.3h1.2v1.2h-1.2zM310.7 184.0h1.5v1.5h-1.5zM311.7 176.4h1.3v1.3h-1.3z" fill="#f57d38"/><path d="M303.1 184.1h1.5v1.5h-1.5zM299.6 183.9h1.2v1.2h-1.2zM302.7 184.9h1.4v1.4h-1.4zM301.4 177.2h1.4v1.4h-1.4z" fill="#f7a06a"/><path d="M301.0 186.2h1.4v1.4h-1.4zM303.0 178.7h1.3v1.3h-1.3zM306.9 185.9h1.3v1.3h-1.3zM309.8 174.0h1.3v1.3h-1.3zM290.8 177.3h1.5v1.5h-1.5zM295.4 179.4h1.3v1.3h-1.3zM301.8 180.6h1.4v1.4h-1.4z" fill="#f57d38"/><path d="M295.6 184.1h1.2v1.2h-1.2zM306.4 174.4h1.4v1.4h-1.4zM304.9 183.0h1.5v1.5h-1.5zM295.8 181.7h1.4v1.4h-1.4zM295.1 181.5h1.3v1.3h-1.3zM298.6 179.4h1.6v1.6h-1.6zM310.8 182.9h1.5v1.5h-1.5zM302.8 187.6h1.4v1.4h-1.4zM300.1 185.5h1.4v1.4h-1.4zM299.4 186.4h1.5v1.5h-1.5zM300.8 177.8h1.2v1.2h-1.2zM310.6 180.6h1.4v1.4h-1.4zM298.2 177.9h1.3v1.3h-1.3zM306.1 173.7h1.6v1.6h-1.6zM308.3 178.7h1.4v1.4h-1.4zM308.9 174.6h1.5v1.5h-1.5zM298.1 181.3h1.3v1.3h-1.3zM293.6 179.5h1.3v1.3h-1.3z" fill="#f68a48"/><path d="M298.8 178.2h1.4v1.4h-1.4zM303.9 185.7h1.2v1.2h-1.2zM307.1 184.6h1.4v1.4h-1.4zM300.5 180.2h1.2v1.2h-1.2zM311.8 185.6h1.4v1.4h-1.4zM305.3 178.0h1.2v1.2h-1.2zM304.6 186.2h1.6v1.6h-1.6z" fill="#f0702c"/><path d="M294.3 183.4h1.3v1.3h-1.3zM301.1 184.2h1.3v1.3h-1.3zM307.5 178.3h1.3v1.3h-1.3zM298.5 184.5h1.2v1.2h-1.2z" fill="#f9ab7d"/><path d="M280.7 210.9h1.5v1.5h-1.5z" fill="#f7a06a"/><path d="M282.2 214.5h1.5v1.5h-1.5z" fill="#f57d38"/><path d="M275.9 215.1h1.6v1.6h-1.6zM282.6 212.1h1.5v1.5h-1.5zM282.9 210.3h1.2v1.2h-1.2z" fill="#f0702c"/><path d="M283.5 213.1h1.5v1.5h-1.5zM288.3 213.1h1.5v1.5h-1.5zM283.9 213.9h1.3v1.3h-1.3zM283.9 214.6h1.3v1.3h-1.3zM284.5 214.1h1.3v1.3h-1.3zM279.0 218.7h1.5v1.5h-1.5zM284.9 215.3h1.3v1.3h-1.3z" fill="#f68a48"/><path d="M258.4 177.5h1.2v1.2h-1.2zM285.9 205.4h1.2v1.2h-1.2zM290.1 203.7h1.4v1.4h-1.4zM331.4 167.0h1.4v1.4h-1.4zM231.9 149.4h1.1v1.1h-1.1zM253.5 172.5h1.4v1.4h-1.4zM269.5 185.4h1.2v1.2h-1.2zM275.3 176.5h1.2v1.2h-1.2zM262.9 154.2h1.3v1.3h-1.3zM244.5 188.8h1.2v1.2h-1.2zM313.3 216.1h1.3v1.3h-1.3zM241.8 172.6h1.4v1.4h-1.4zM325.9 188.7h1.4v1.4h-1.4zM253.2 157.9h1.1v1.1h-1.1zM272.9 190.7h1.3v1.3h-1.3zM258.5 192.5h1.4v1.4h-1.4zM291.0 175.0h1.3v1.3h-1.3z" fill="#f68a48"/><path d="M326.3 166.9h1.4v1.4h-1.4zM238.4 207.4h1.4v1.4h-1.4zM288.1 195.6h1.1v1.1h-1.1zM287.2 171.7h1.2v1.2h-1.2zM282.2 177.8h1.4v1.4h-1.4zM277.5 190.7h1.4v1.4h-1.4z" fill="#f9ab7d"/><path d="M256.1 198.1h1.5v1.5h-1.5zM305.3 139.2h1.1v1.1h-1.1zM237.7 215.2h1.3v1.3h-1.3zM290.8 182.2h1.5v1.5h-1.5zM262.6 181.0h1.3v1.3h-1.3zM280.8 176.3h1.3v1.3h-1.3zM287.3 166.0h1.4v1.4h-1.4zM282.4 169.3h1.4v1.4h-1.4zM309.2 150.3h1.3v1.3h-1.3zM286.4 186.5h1.3v1.3h-1.3zM274.4 179.9h1.2v1.2h-1.2z" fill="#f0702c"/><path d="M312.8 199.8h1.2v1.2h-1.2zM268.3 206.6h1.1v1.1h-1.1zM275.1 156.2h1.3v1.3h-1.3zM247.0 186.9h1.3v1.3h-1.3zM260.2 207.0h1.2v1.2h-1.2zM283.9 156.3h1.2v1.2h-1.2zM296.3 206.7h1.4v1.4h-1.4zM275.8 200.7h1.4v1.4h-1.4z" fill="#f57d38"/><path d="M289.3 181.4h1.3v1.3h-1.3zM283.0 155.7h1.2v1.2h-1.2zM281.8 182.6h1.1v1.1h-1.1zM255.4 174.1h1.2v1.2h-1.2zM280.9 203.6h1.4v1.4h-1.4zM270.2 181.4h1.1v1.1h-1.1zM260.0 190.3h1.4v1.4h-1.4zM282.0 154.8h1.4v1.4h-1.4z" fill="#f7a06a"/><circle cx="304.6" cy="202.2" r="1.4" fill="#f68d4e"/><ellipse cx="257.2" cy="172.8" rx="21.7" ry="12.2" transform="rotate(5 257.2 172.8)" fill="none" stroke="#6f52b8" stroke-width="0.85" stroke-dasharray="1.6 1.3"/><ellipse cx="294.8" cy="178.3" rx="17.3" ry="15.8" transform="rotate(0 294.8 178.3)" fill="none" stroke="#6f52b8" stroke-width="0.85" stroke-dasharray="1.6 1.3"/><ellipse cx="245" cy="198.7" rx="11.6" ry="12.7" transform="rotate(0 245 198.7)" fill="none" stroke="#6f52b8" stroke-width="0.85" stroke-dasharray="1.6 1.3"/><ellipse cx="271.5" cy="197.6" rx="12.7" ry="17" transform="rotate(0 271.5 197.6)" fill="none" stroke="#6f52b8" stroke-width="0.85" stroke-dasharray="1.6 1.3"/><text x="240.2" y="157" font-size="5.0" text-anchor="start" fill="#000" font-family="&quot;Liberation Sans&quot;, sans-serif" >Highly PF</text><text x="292.2" y="159.6" font-size="5.0" text-anchor="start" fill="#000" font-family="&quot;Liberation Sans&quot;, sans-serif" >Highly PF</text><text x="245" y="220.5" font-size="5.0" text-anchor="start" fill="#000" font-family="&quot;Liberation Sans&quot;, sans-serif" >Highly PF</text><circle cx="258.9" cy="231.9" r="3.3" fill="#d8602a"/><text x="266.2" y="233.6" font-size="4.8" text-anchor="start" fill="#222" font-family="&quot;Liberation Sans&quot;, sans-serif" >5</text><circle cx="258.9" cy="239.6" r="3.3" fill="#ee6a28"/><text x="266.2" y="241.29999999999998" font-size="4.8" text-anchor="start" fill="#222" font-family="&quot;Liberation Sans&quot;, sans-serif" >4</text><circle cx="258.9" cy="247.2" r="3.3" fill="#f57e3c"/><text x="266.2" y="248.89999999999998" font-size="4.8" text-anchor="start" fill="#222" font-family="&quot;Liberation Sans&quot;, sans-serif" >3</text><circle cx="258.9" cy="254.7" r="3.3" fill="#f99a60"/><text x="266.2" y="256.4" font-size="4.8" text-anchor="start" fill="#222" font-family="&quot;Liberation Sans&quot;, sans-serif" >2</text><circle cx="258.9" cy="262.2" r="3.3" fill="#fcbe98"/><text x="266.2" y="263.9" font-size="4.8" text-anchor="start" fill="#222" font-family="&quot;Liberation Sans&quot;, sans-serif" >1</text><line x1="378.7" y1="127" x2="378.7" y2="160" stroke="#e4e4e4" stroke-width="0.5"/><line x1="389.5" y1="127" x2="389.5" y2="160" stroke="#e4e4e4" stroke-width="0.5"/><line x1="400.3" y1="127" x2="400.3" y2="160" stroke="#e4e4e4" stroke-width="0.5"/><line x1="410.4" y1="127" x2="410.4" y2="160" stroke="#e4e4e4" stroke-width="0.5"/><line x1="431" y1="127" x2="431" y2="160" stroke="#e4e4e4" stroke-width="0.5"/><line x1="442" y1="127" x2="442" y2="160" stroke="#e4e4e4" stroke-width="0.5"/><line x1="453" y1="127" x2="453" y2="160" stroke="#e4e4e4" stroke-width="0.5"/><line x1="464" y1="127" x2="464" y2="160" stroke="#e4e4e4" stroke-width="0.5"/><line x1="420.5" y1="127" x2="420.5" y2="210" stroke="#dadada" stroke-width="0.5"/><line x1="476" y1="125" x2="476" y2="215" stroke="#dadada" stroke-width="0.5"/><line x1="374" y1="133.7" x2="495" y2="133.7" stroke="#e4e4e4" stroke-width="0.5"/><line x1="374" y1="144.5" x2="495" y2="144.5" stroke="#e4e4e4" stroke-width="0.5"/><line x1="374" y1="155.3" x2="495" y2="155.3" stroke="#e4e4e4" stroke-width="0.5"/><line x1="477" y1="140" x2="500" y2="135" stroke="#e4e4e4" stroke-width="0.5"/><line x1="477" y1="160" x2="500" y2="157" stroke="#e4e4e4" stroke-width="0.5"/><line x1="477" y1="180" x2="500" y2="179" stroke="#e4e4e4" stroke-width="0.5"/><line x1="477" y1="200" x2="500" y2="201" stroke="#e4e4e4" stroke-width="0.5"/><line x1="372" y1="166.7" x2="398" y2="158" stroke="#d6d6d6" stroke-width="0.5"/><line x1="398" y1="158" x2="495" y2="158" stroke="#d6d6d6" stroke-width="0.5"/><line x1="385" y1="218" x2="495" y2="218" stroke="#dcdcdc" stroke-width="0.5"/><text x="371" y="136.10000000000002" font-size="6.6" text-anchor="end" fill="#333" font-family="&quot;Liberation Sans&quot;, sans-serif" >30</text><text x="371.8" y="148.3" font-size="6.6" text-anchor="end" fill="#333" font-family="&quot;Liberation Sans&quot;, sans-serif" >20</text><text x="372.7" y="158.70000000000002" font-size="6.6" text-anchor="end" fill="#333" font-family="&quot;Liberation Sans&quot;, sans-serif" >10</text><text x="373.5" y="169.3" font-size="6.6" text-anchor="end" fill="#333" font-family="&quot;Liberation Sans&quot;, sans-serif" >0</text><text x="376" y="179.70000000000002" font-size="6.6" text-anchor="end" fill="#333" font-family="&quot;Liberation Sans&quot;, sans-serif" >-10</text><text x="376.6" y="191.3" font-size="6.6" text-anchor="end" fill="#333" font-family="&quot;Liberation Sans&quot;, sans-serif" >-20</text><text x="377.7" y="201.8" font-size="6.6" text-anchor="end" fill="#333" font-family="&quot;Liberation Sans&quot;, sans-serif" >-30</text><text x="0" y="0" font-size="8" text-anchor="start" fill="#111" font-family="&quot;Liberation Sans&quot;, sans-serif" transform="translate(357,149.6) rotate(90) scale(0.58,1)" stroke="#111" stroke-width="0.12">Dimension 3</text><text x="0" y="0" font-size="7" text-anchor="start" fill="#111" font-family="&quot;Liberation Sans&quot;, sans-serif" transform="translate(363,204.5) rotate(67) scale(0.72,1)" stroke="#111" stroke-width="0.12">Dimension</text><text x="0" y="0" font-size="5" text-anchor="start" fill="#333" font-family="&quot;Liberation Sans&quot;, sans-serif" transform="translate(371.0,197.5) rotate(66)">-30</text><text x="0" y="0" font-size="5" text-anchor="start" fill="#333" font-family="&quot;Liberation Sans&quot;, sans-serif" transform="translate(373.5,202.4) rotate(66)">-20</text><text x="0" y="0" font-size="5" text-anchor="start" fill="#333" font-family="&quot;Liberation Sans&quot;, sans-serif" transform="translate(376.0,207.3) rotate(66)">-10</text><text x="0" y="0" font-size="5" text-anchor="start" fill="#333" font-family="&quot;Liberation Sans&quot;, sans-serif" transform="translate(378.5,212.2) rotate(66)">0</text><text x="0" y="0" font-size="5" text-anchor="start" fill="#333" font-family="&quot;Liberation Sans&quot;, sans-serif" transform="translate(381.0,217.1) rotate(66)">10</text><text x="0" y="0" font-size="5" text-anchor="start" fill="#333" font-family="&quot;Liberation Sans&quot;, sans-serif" transform="translate(383.5,222.0) rotate(66)">0</text><polygon points="437.8,133.7 437.9,132.3 439.9,131.4 440.3,130.5 441.9,131.9 443.7,131.9 444.8,131.0 446.0,132.6 446.9,131.6 449.1,132.9 448.7,132.9 449.7,135.2 449.6,136.2 448.6,137.4 448.7,138.8 447.9,140.4 446.9,140.2 444.5,141.1 444.0,141.7 443.2,140.9 441.2,139.9 440.0,140.0 439.0,139.3 438.2,138.1 438.3,136.8 437.5,135.6 437.9,134.5" fill="#f4b42a" /><path d="M439.1 135.3h1.4v1.4h-1.4zM443.2 133.0h1.2v1.2h-1.2zM441.3 131.8h1.4v1.4h-1.4zM441.8 135.2h1.5v1.5h-1.5zM440.3 135.2h1.2v1.2h-1.2zM439.5 136.0h1.1v1.1h-1.1zM440.9 136.2h1.4v1.4h-1.4z" fill="#9b5bdb"/><path d="M443.6 131.8h1.2v1.2h-1.2zM444.6 134.4h1.2v1.2h-1.2zM438.7 132.5h1.2v1.2h-1.2z" fill="#f0a020"/><polygon points="440.5,141.7 442.3,141.4 443.2,139.9 444.6,140.1 446.1,140.8 445.3,142.7 446.2,143.0 446.9,145.2 447.3,146.1 447.1,146.9 447.8,148.0 448.7,149.6 447.4,150.5 447.9,152.5 446.9,153.7 447.9,154.1 447.1,156.5 446.9,157.7 446.1,158.7 446.1,159.8 446.5,161.4 445.5,161.5 443.6,160.3 442.8,159.3 443.6,158.7 442.5,157.0 442.1,155.3 442.0,154.7 442.0,153.3 441.0,151.2 441.8,150.2 441.7,149.4 441.4,147.8 441.0,146.9 440.7,145.1 441.3,144.5 440.9,143.0 441.3,142.2" fill="#52a30c" /><path d="M441.5 148.0h1.1v1.1h-1.1zM441.6 141.6h1.1v1.1h-1.1zM442.1 141.8h1.0v1.0h-1.0zM441.2 148.6h1.2v1.2h-1.2zM446.5 149.6h1.0v1.0h-1.0z" fill="#ffffff"/><polygon points="411.5,161.1 412.3,159.8 413.5,160.2 415.0,159.9 417.1,159.4 417.3,158.8 418.7,159.6 420.9,160.5 422.2,162.0 423.6,161.7 424.3,163.0 424.5,162.5 426.6,162.0 428.5,163.2 429.1,165.3 430.5,165.5 431.6,166.0 432.3,167.7 432.4,169.7 432.1,170.5 431.9,172.2 432.2,172.4 431.3,173.7 430.8,175.5 429.3,176.6 429.3,177.3 428.4,178.2 426.6,177.3 426.1,178.4 423.6,178.5 422.5,177.3 421.7,177.8 420.2,175.9 418.5,176.2 417.4,174.9 416.1,174.1 415.1,173.1 413.8,172.5 414.1,171.7 413.1,170.4 411.0,168.4 410.9,167.2 410.5,167.3 410.2,164.6 410.8,164.6 409.9,163.6 411.2,161.4" fill="#52a30c" /><path d="M422.8 171.7h1.0v1.0h-1.0zM431.4 170.5h1.1v1.1h-1.1zM421.4 170.8h1.2v1.2h-1.2zM424.6 168.2h1.1v1.1h-1.1zM412.6 166.3h1.3v1.3h-1.3z" fill="#ffffff"/><polygon points="438.3,167.1 438.4,164.9 439.4,164.4 440.8,162.9 440.8,162.7 442.9,161.8 444.0,161.8 445.3,161.9 447.1,160.1 447.5,160.0 448.3,160.6 450.9,160.1 450.9,160.8 452.0,159.8 454.1,161.0 454.5,162.0 456.2,162.7 456.6,163.8 457.0,163.3 457.8,165.1 456.3,167.1 456.0,167.0 455.9,168.2 453.4,169.6 452.4,170.4 451.6,171.1 450.5,172.6 450.5,172.3 449.1,174.6 447.5,174.8 447.9,176.2 447.4,177.7 445.7,179.7 445.0,179.0 443.8,180.5 442.2,179.8 442.1,179.4 439.6,179.1 438.9,177.0 439.1,176.8 437.4,175.6 437.7,173.2 436.8,172.8 437.1,171.6 437.7,169.5 437.1,169.5 437.7,167.2" fill="#52a30c" /><path d="M448.1 166.5h1.1v1.1h-1.1zM453.8 161.6h1.2v1.2h-1.2zM450.6 162.4h1.0v1.0h-1.0zM442.5 163.7h1.2v1.2h-1.2zM444.7 178.3h1.2v1.2h-1.2z" fill="#ffffff"/><polygon points="424.3,183.2 425.3,181.3 427.5,181.7 428.1,180.2 429.4,180.1 430.7,181.2 431.4,181.7 432.3,183.8 433.2,184.9 433.0,184.6 433.2,185.8 434.3,188.3 435.4,189.4 435.6,190.8 435.6,191.9 436.0,192.5 437.1,193.6 436.5,196.0 438.0,196.1 438.6,197.7 438.4,198.5 439.1,200.0 440.0,201.1 440.7,203.0 441.2,204.5 441.4,205.9 440.4,206.0 439.2,208.1 438.5,209.7 438.9,210.3 436.6,210.7 436.3,209.8 435.0,209.3 433.6,208.9 432.9,208.2 430.8,207.2 429.1,206.9 427.8,205.9 426.7,205.2 425.6,205.6 425.1,204.0 422.6,204.7 423.0,203.4 421.9,202.2 420.0,200.3 421.1,198.3 421.8,197.1 422.8,196.6 423.9,194.9 425.1,193.7 424.6,193.1 426.3,191.1 426.1,190.5 424.7,188.9 425.0,187.9 424.4,186.5 425.0,184.4 423.9,184.5" fill="#52a30c" /><path d="M433.6 195.2h1.2v1.2h-1.2zM431.1 183.9h1.0v1.0h-1.0zM430.1 186.8h1.2v1.2h-1.2zM438.0 200.1h1.0v1.0h-1.0zM427.8 187.6h0.9v0.9h-0.9z" fill="#ffffff"/><polygon points="395.8,187.4 396.5,186.5 398.0,185.8 400.6,186.8 400.6,186.4 402.8,185.7 404.2,186.9 405.5,186.1 405.9,187.7 406.9,188.2 408.5,189.0 407.2,190.5 407.1,191.4 406.5,193.5 405.2,193.1 404.7,192.5 403.1,192.9 402.3,192.0 400.9,192.1 399.9,191.6 397.7,190.9 397.3,191.4 395.8,190.5 396.7,187.6" fill="#52a30c" /><path d="M403.2 190.5h1.0v1.0h-1.0zM402.6 189.7h1.0v1.0h-1.0zM402.4 187.8h1.0v1.0h-1.0zM405.7 191.8h1.0v1.0h-1.0zM402.9 189.0h1.2v1.2h-1.2z" fill="#ffffff"/><polygon points="401.6,197.8 403.0,197.3 404.0,197.2 405.5,196.6 407.7,196.1 408.5,197.3 410.0,197.9 410.4,197.7 411.3,199.2 410.3,200.4 409.5,202.4 408.8,202.6 406.7,202.4 406.1,201.9 404.7,203.0 403.5,202.5 403.4,201.4 402.2,199.8 402.5,198.8" fill="#52a30c" /><path d="M401.9 199.9h1.1v1.1h-1.1zM402.0 200.1h1.0v1.0h-1.0zM404.7 197.6h1.1v1.1h-1.1zM404.8 196.3h1.1v1.1h-1.1zM405.7 197.1h0.9v0.9h-0.9z" fill="#ffffff"/><path d="M409.8 169.9h1.4v1.4h-1.4zM405.6 167.1h1.4v1.4h-1.4zM413.1 172.0h1.2v1.2h-1.2zM412.2 168.6h1.3v1.3h-1.3zM411.9 165.9h1.4v1.4h-1.4zM406.1 169.1h1.6v1.6h-1.6zM410.5 165.9h1.2v1.2h-1.2zM416.4 173.4h1.4v1.4h-1.4zM398.8 166.6h1.4v1.4h-1.4zM407.6 172.8h1.5v1.5h-1.5zM403.7 172.3h1.5v1.5h-1.5zM400.0 171.0h1.3v1.3h-1.3zM406.0 171.9h1.4v1.4h-1.4zM407.3 169.2h1.4v1.4h-1.4zM404.5 168.8h1.6v1.6h-1.6zM408.5 162.2h1.4v1.4h-1.4zM403.3 167.3h1.4v1.4h-1.4zM405.7 166.4h1.5v1.5h-1.5zM409.0 169.6h1.3v1.3h-1.3zM396.9 173.0h1.3v1.3h-1.3zM406.7 166.3h1.5v1.5h-1.5zM405.1 169.0h1.2v1.2h-1.2zM400.6 171.0h1.5v1.5h-1.5zM404.3 168.7h1.5v1.5h-1.5zM404.2 165.4h1.3v1.3h-1.3zM404.3 165.6h1.3v1.3h-1.3zM402.8 169.3h1.2v1.2h-1.2zM410.9 162.5h1.3v1.3h-1.3zM411.5 165.7h1.3v1.3h-1.3zM411.3 167.0h1.2v1.2h-1.2zM405.4 168.3h1.2v1.2h-1.2zM408.7 169.8h1.2v1.2h-1.2zM400.0 168.7h1.2v1.2h-1.2zM404.0 163.5h1.4v1.4h-1.4zM408.7 174.6h1.5v1.5h-1.5zM405.7 168.6h1.4v1.4h-1.4zM405.2 163.7h1.2v1.2h-1.2zM397.6 170.9h1.3v1.3h-1.3zM400.3 168.9h1.4v1.4h-1.4zM402.8 169.9h1.5v1.5h-1.5z" fill="#22b2e4"/><path d="M431.3 163.3h1.5v1.5h-1.5zM427.8 160.5h1.5v1.5h-1.5zM427.9 161.9h1.4v1.4h-1.4zM426.9 160.9h1.4v1.4h-1.4zM426.0 163.2h1.4v1.4h-1.4zM431.1 162.6h1.6v1.6h-1.6zM424.0 163.7h1.3v1.3h-1.3zM426.7 160.6h1.4v1.4h-1.4zM421.4 163.6h1.6v1.6h-1.6zM428.5 163.3h1.3v1.3h-1.3zM425.0 162.3h1.4v1.4h-1.4zM423.9 161.5h1.5v1.5h-1.5z" fill="#9b5bdb"/><path d="M403.6 164.3h1.2v1.2h-1.2zM407.1 163.7h1.1v1.1h-1.1zM398.5 164.3h1.2v1.2h-1.2zM406.1 166.7h1.2v1.2h-1.2zM403.7 165.8h1.4v1.4h-1.4zM401.6 166.1h1.4v1.4h-1.4z" fill="#9b5bdb"/><path d="M451.9 179.3h1.4v1.4h-1.4zM459.8 177.9h1.5v1.5h-1.5zM448.4 182.4h1.2v1.2h-1.2zM462.7 162.8h1.5v1.5h-1.5zM457.8 172.6h1.4v1.4h-1.4zM461.0 173.0h1.4v1.4h-1.4zM474.0 169.8h1.4v1.4h-1.4zM463.1 183.8h1.3v1.3h-1.3zM447.6 168.8h1.5v1.5h-1.5zM462.3 191.3h1.3v1.3h-1.3zM452.9 180.4h1.6v1.6h-1.6zM469.5 175.3h1.4v1.4h-1.4zM467.5 178.2h1.6v1.6h-1.6zM461.8 170.4h1.2v1.2h-1.2zM464.2 186.4h1.3v1.3h-1.3zM455.8 175.2h1.3v1.3h-1.3zM465.2 175.1h1.3v1.3h-1.3zM456.1 170.4h1.2v1.2h-1.2zM460.5 182.3h1.6v1.6h-1.6zM460.3 177.3h1.4v1.4h-1.4zM443.9 172.1h1.5v1.5h-1.5zM456.4 164.6h1.4v1.4h-1.4zM471.2 160.8h1.5v1.5h-1.5zM443.1 178.8h1.6v1.6h-1.6zM460.6 172.1h1.6v1.6h-1.6zM448.8 179.6h1.6v1.6h-1.6zM462.1 170.5h1.5v1.5h-1.5z" fill="#62aa1e"/><path d="M455.8 173.9h1.2v1.2h-1.2zM462.8 172.9h1.4v1.4h-1.4zM459.9 182.2h1.3v1.3h-1.3zM459.7 164.1h1.4v1.4h-1.4zM445.2 179.1h1.2v1.2h-1.2zM467.4 184.7h1.2v1.2h-1.2zM461.8 165.5h1.3v1.3h-1.3zM462.7 171.0h1.3v1.3h-1.3zM466.6 174.1h1.3v1.3h-1.3zM448.8 178.9h1.6v1.6h-1.6zM472.7 167.5h1.5v1.5h-1.5zM443.9 173.8h1.3v1.3h-1.3zM455.0 172.9h1.2v1.2h-1.2zM466.3 180.4h1.4v1.4h-1.4zM447.9 186.3h1.4v1.4h-1.4zM451.6 176.0h1.6v1.6h-1.6zM470.1 173.3h1.5v1.5h-1.5zM445.8 173.5h1.3v1.3h-1.3zM457.5 179.1h1.3v1.3h-1.3zM448.5 179.3h1.2v1.2h-1.2zM448.6 179.0h1.5v1.5h-1.5zM459.3 170.9h1.3v1.3h-1.3zM454.8 167.0h1.6v1.6h-1.6zM451.5 183.7h1.6v1.6h-1.6z" fill="#52a30c"/><path d="M468.4 173.6h1.2v1.2h-1.2zM456.4 182.6h1.2v1.2h-1.2zM474.9 180.4h1.4v1.4h-1.4zM453.3 160.2h1.5v1.5h-1.5zM462.2 166.1h1.5v1.5h-1.5zM463.8 170.9h1.4v1.4h-1.4zM455.5 180.8h1.2v1.2h-1.2zM464.2 180.7h1.5v1.5h-1.5zM463.9 162.6h1.3v1.3h-1.3zM458.7 188.8h1.4v1.4h-1.4zM475.2 165.9h1.3v1.3h-1.3zM459.2 178.7h1.2v1.2h-1.2zM455.4 179.2h1.2v1.2h-1.2zM460.2 172.4h1.3v1.3h-1.3zM464.6 189.1h1.5v1.5h-1.5z" fill="#5aa814"/><path d="M465.2 179.9h1.6v1.6h-1.6zM458.5 170.0h1.5v1.5h-1.5zM456.6 183.0h1.4v1.4h-1.4zM451.2 171.3h1.4v1.4h-1.4zM460.9 178.3h1.3v1.3h-1.3zM459.5 167.8h1.5v1.5h-1.5zM456.6 172.8h1.5v1.5h-1.5zM468.8 183.5h1.5v1.5h-1.5zM458.9 180.6h1.5v1.5h-1.5zM468.0 175.9h1.3v1.3h-1.3zM462.1 174.6h1.3v1.3h-1.3zM460.4 175.3h1.6v1.6h-1.6zM462.1 165.3h1.4v1.4h-1.4zM465.3 174.1h1.2v1.2h-1.2zM458.0 177.0h1.5v1.5h-1.5zM466.1 174.6h1.4v1.4h-1.4zM477.7 171.7h1.4v1.4h-1.4zM453.0 185.6h1.2v1.2h-1.2zM454.7 170.0h1.4v1.4h-1.4zM464.4 167.5h1.5v1.5h-1.5zM461.9 170.8h1.2v1.2h-1.2zM461.4 178.5h1.3v1.3h-1.3zM467.1 183.0h1.5v1.5h-1.5zM454.9 175.7h1.5v1.5h-1.5z" fill="#4c9c08"/><path d="M441.2 190.6h1.2v1.2h-1.2zM424.6 205.9h1.3v1.3h-1.3zM431.1 198.2h1.3v1.3h-1.3zM437.5 197.9h1.4v1.4h-1.4zM439.0 199.2h1.5v1.5h-1.5zM435.2 213.0h1.6v1.6h-1.6zM419.4 201.9h1.5v1.5h-1.5zM430.0 177.4h1.2v1.2h-1.2zM426.2 205.1h1.4v1.4h-1.4zM436.1 188.3h1.5v1.5h-1.5zM444.1 207.3h1.2v1.2h-1.2zM437.6 207.9h1.2v1.2h-1.2zM435.8 194.4h1.2v1.2h-1.2zM436.2 209.3h1.2v1.2h-1.2zM440.1 204.5h1.6v1.6h-1.6zM442.9 188.6h1.3v1.3h-1.3zM420.4 194.9h1.6v1.6h-1.6zM433.8 182.5h1.6v1.6h-1.6zM436.8 194.6h1.2v1.2h-1.2zM433.6 197.1h1.4v1.4h-1.4zM434.8 197.3h1.4v1.4h-1.4zM448.4 201.6h1.5v1.5h-1.5z" fill="#52a30c"/><path d="M431.3 197.2h1.2v1.2h-1.2zM428.3 196.8h1.3v1.3h-1.3zM429.1 183.5h1.6v1.6h-1.6zM428.8 192.6h1.2v1.2h-1.2zM434.8 200.8h1.4v1.4h-1.4zM431.0 204.3h1.4v1.4h-1.4zM436.4 194.1h1.3v1.3h-1.3zM434.8 199.3h1.4v1.4h-1.4zM439.8 198.1h1.2v1.2h-1.2zM437.2 213.5h1.5v1.5h-1.5zM436.3 208.0h1.6v1.6h-1.6z" fill="#62aa1e"/><path d="M433.3 191.2h1.3v1.3h-1.3zM424.9 202.7h1.5v1.5h-1.5zM438.6 205.4h1.3v1.3h-1.3zM429.7 195.8h1.4v1.4h-1.4zM420.6 215.6h1.5v1.5h-1.5zM431.8 196.5h1.4v1.4h-1.4zM441.3 190.8h1.3v1.3h-1.3zM427.1 203.7h1.4v1.4h-1.4zM430.3 217.4h1.5v1.5h-1.5zM425.2 202.9h1.6v1.6h-1.6zM429.8 204.9h1.2v1.2h-1.2z" fill="#4c9c08"/><path d="M434.7 203.2h1.6v1.6h-1.6zM437.0 198.8h1.4v1.4h-1.4zM430.2 210.8h1.3v1.3h-1.3zM429.0 200.1h1.5v1.5h-1.5zM437.1 202.2h1.4v1.4h-1.4zM429.2 199.0h1.6v1.6h-1.6zM439.2 189.7h1.6v1.6h-1.6zM423.6 201.8h1.4v1.4h-1.4zM424.7 187.6h1.4v1.4h-1.4zM432.6 202.0h1.5v1.5h-1.5zM436.4 180.5h1.4v1.4h-1.4zM436.5 208.3h1.2v1.2h-1.2zM427.7 197.9h1.2v1.2h-1.2zM444.1 201.7h1.6v1.6h-1.6zM428.1 206.6h1.2v1.2h-1.2zM430.2 198.0h1.5v1.5h-1.5z" fill="#5aa814"/><path d="M446.3 136.7h1.2v1.2h-1.2zM445.3 137.9h1.2v1.2h-1.2zM446.7 135.0h1.1v1.1h-1.1zM444.2 136.1h1.2v1.2h-1.2zM446.3 139.4h1.1v1.1h-1.1z" fill="#5aa814"/><path d="M443.4 135.2h1.2v1.2h-1.2zM453.5 133.3h1.1v1.1h-1.1zM451.2 135.3h1.2v1.2h-1.2zM452.3 135.0h1.3v1.3h-1.3z" fill="#52a30c"/><path d="M456.3 138.8h1.1v1.1h-1.1zM444.8 131.2h1.4v1.4h-1.4zM445.3 134.9h1.2v1.2h-1.2zM442.3 137.2h1.2v1.2h-1.2zM444.3 134.2h1.3v1.3h-1.3z" fill="#4c9c08"/><path d="M447.5 137.0h1.2v1.2h-1.2z" fill="#62aa1e"/><path d="M458.1 175.4h1.3v1.3h-1.3zM453.9 183.6h1.1v1.1h-1.1zM451.5 173.2h1.3v1.3h-1.3zM460.2 180.8h1.1v1.1h-1.1zM462.3 184.7h1.2v1.2h-1.2zM455.6 172.7h1.4v1.4h-1.4zM455.0 174.0h1.2v1.2h-1.2zM456.6 178.4h1.4v1.4h-1.4zM460.2 178.8h1.5v1.5h-1.5zM473.6 178.8h1.5v1.5h-1.5zM456.4 176.8h1.2v1.2h-1.2zM461.8 176.4h1.3v1.3h-1.3zM457.7 179.1h1.2v1.2h-1.2zM458.9 179.4h1.4v1.4h-1.4zM464.5 182.2h1.1v1.1h-1.1zM454.6 174.9h1.3v1.3h-1.3zM454.6 174.3h1.1v1.1h-1.1zM457.8 173.9h1.2v1.2h-1.2zM460.5 174.0h1.3v1.3h-1.3zM468.5 177.5h1.3v1.3h-1.3zM463.1 179.5h1.3v1.3h-1.3zM465.4 175.0h1.2v1.2h-1.2zM452.9 174.6h1.5v1.5h-1.5zM451.7 176.6h1.5v1.5h-1.5zM451.8 169.9h1.5v1.5h-1.5z" fill="#9b5bdb"/><path d="M403.9 189.2h1.3v1.3h-1.3zM401.8 199.6h1.1v1.1h-1.1zM400.3 204.9h1.1v1.1h-1.1zM400.0 198.2h1.3v1.3h-1.3zM400.7 191.4h1.2v1.2h-1.2zM405.1 197.3h1.4v1.4h-1.4zM393.5 193.0h1.2v1.2h-1.2z" fill="#5aa814"/><path d="M407.2 196.0h1.3v1.3h-1.3zM396.2 194.6h1.4v1.4h-1.4zM403.4 195.1h1.4v1.4h-1.4zM400.3 193.6h1.2v1.2h-1.2zM397.7 189.9h1.2v1.2h-1.2zM401.4 193.2h1.1v1.1h-1.1zM393.9 196.1h1.4v1.4h-1.4zM392.8 191.6h1.4v1.4h-1.4zM402.0 189.6h1.2v1.2h-1.2zM401.9 202.0h1.4v1.4h-1.4z" fill="#52a30c"/><path d="M404.2 188.0h1.4v1.4h-1.4zM404.8 192.4h1.1v1.1h-1.1zM405.2 192.4h1.4v1.4h-1.4z" fill="#62aa1e"/><path d="M409.2 190.0h1.4v1.4h-1.4zM404.3 196.0h1.4v1.4h-1.4zM400.8 199.7h1.2v1.2h-1.2zM397.4 195.1h1.1v1.1h-1.1zM404.5 201.2h1.3v1.3h-1.3z" fill="#4c9c08"/><path d="M401.7 188.0h1.3v1.3h-1.3zM397.7 192.0h1.3v1.3h-1.3zM396.8 191.1h1.2v1.2h-1.2zM397.2 190.5h1.1v1.1h-1.1zM399.4 187.4h1.2v1.2h-1.2zM400.9 188.8h1.2v1.2h-1.2zM395.0 193.4h1.3v1.3h-1.3zM391.5 190.8h1.5v1.5h-1.5zM395.6 192.3h1.2v1.2h-1.2zM400.8 190.5h1.5v1.5h-1.5zM397.4 188.8h1.2v1.2h-1.2zM397.6 192.0h1.3v1.3h-1.3z" fill="#22b2e4"/><path d="M425.9 207.0h1.3v1.3h-1.3zM427.6 202.4h1.5v1.5h-1.5zM424.6 196.4h1.5v1.5h-1.5zM426.5 210.4h1.5v1.5h-1.5zM424.5 203.8h1.4v1.4h-1.4zM424.9 204.1h1.5v1.5h-1.5zM425.6 202.7h1.2v1.2h-1.2zM427.3 203.3h1.5v1.5h-1.5zM423.6 210.0h1.4v1.4h-1.4zM425.1 202.9h1.2v1.2h-1.2zM426.0 207.8h1.5v1.5h-1.5zM423.3 203.5h1.4v1.4h-1.4zM425.4 202.2h1.5v1.5h-1.5zM424.2 205.4h1.2v1.2h-1.2zM426.2 208.2h1.4v1.4h-1.4zM425.5 200.7h1.6v1.6h-1.6zM423.5 203.0h1.3v1.3h-1.3zM423.7 204.2h1.6v1.6h-1.6zM427.1 204.3h1.6v1.6h-1.6zM424.7 196.3h1.2v1.2h-1.2zM419.6 203.6h1.5v1.5h-1.5zM422.5 203.0h1.4v1.4h-1.4zM419.8 207.6h1.3v1.3h-1.3zM424.3 204.4h1.5v1.5h-1.5zM426.7 206.9h1.4v1.4h-1.4zM420.5 203.8h1.3v1.3h-1.3zM422.5 210.1h1.4v1.4h-1.4zM425.5 204.1h1.5v1.5h-1.5zM421.7 207.6h1.2v1.2h-1.2zM425.1 207.6h1.5v1.5h-1.5zM423.2 203.1h1.2v1.2h-1.2zM425.9 203.9h1.5v1.5h-1.5zM423.3 202.0h1.5v1.5h-1.5zM422.8 203.9h1.4v1.4h-1.4zM423.4 200.0h1.2v1.2h-1.2z" fill="#22b2e4"/><path d="M418.4 170.4h1.7v1.7h-1.7zM419.5 173.7h1.4v1.4h-1.4zM414.8 175.1h1.6v1.6h-1.6zM438.9 169.1h1.3v1.3h-1.3zM424.3 171.2h1.5v1.5h-1.5zM416.8 165.1h1.7v1.7h-1.7zM417.8 160.2h1.5v1.5h-1.5zM429.1 177.2h1.5v1.5h-1.5zM405.5 174.2h1.4v1.4h-1.4zM425.4 170.3h1.4v1.4h-1.4zM408.2 166.0h1.3v1.3h-1.3zM440.4 158.8h1.5v1.5h-1.5zM418.6 162.6h1.6v1.6h-1.6zM412.4 153.7h1.6v1.6h-1.6zM409.5 171.0h1.3v1.3h-1.3zM427.7 172.8h1.7v1.7h-1.7zM422.3 174.1h1.7v1.7h-1.7zM414.7 163.6h1.7v1.7h-1.7zM423.0 178.7h1.4v1.4h-1.4zM441.0 166.9h1.7v1.7h-1.7z" fill="#5aa814"/><path d="M402.9 170.1h1.4v1.4h-1.4zM421.5 168.9h1.6v1.6h-1.6zM416.1 162.4h1.3v1.3h-1.3zM411.0 162.2h1.5v1.5h-1.5zM415.8 163.7h1.7v1.7h-1.7zM431.1 173.6h1.7v1.7h-1.7zM393.9 160.3h1.5v1.5h-1.5zM407.9 161.3h1.6v1.6h-1.6zM434.9 171.3h1.6v1.6h-1.6zM420.9 165.2h1.5v1.5h-1.5zM418.3 172.9h1.6v1.6h-1.6zM415.7 171.0h1.7v1.7h-1.7zM415.9 170.5h1.6v1.6h-1.6zM412.5 166.1h1.3v1.3h-1.3z" fill="#4c9c08"/><path d="M427.0 179.5h1.5v1.5h-1.5zM407.6 170.2h1.3v1.3h-1.3zM420.6 159.7h1.4v1.4h-1.4zM421.6 169.9h1.4v1.4h-1.4zM410.5 160.7h1.7v1.7h-1.7zM440.2 170.9h1.4v1.4h-1.4zM393.8 173.5h1.6v1.6h-1.6zM413.7 158.8h1.5v1.5h-1.5zM418.9 167.8h1.4v1.4h-1.4z" fill="#62aa1e"/><path d="M423.3 162.9h1.6v1.6h-1.6zM445.9 167.1h1.4v1.4h-1.4zM405.7 165.7h1.3v1.3h-1.3zM422.2 166.2h1.6v1.6h-1.6zM423.5 170.5h1.6v1.6h-1.6zM398.0 179.8h1.4v1.4h-1.4zM417.1 168.5h1.4v1.4h-1.4zM417.0 175.2h1.6v1.6h-1.6zM427.9 161.6h1.7v1.7h-1.7zM428.7 168.0h1.3v1.3h-1.3zM411.3 153.0h1.6v1.6h-1.6zM422.4 166.1h1.4v1.4h-1.4zM427.3 172.8h1.6v1.6h-1.6zM434.8 169.8h1.4v1.4h-1.4zM421.4 167.7h1.4v1.4h-1.4zM423.4 161.7h1.7v1.7h-1.7zM421.4 176.9h1.4v1.4h-1.4z" fill="#52a30c"/><path d="M463.6 167.6h1.3v1.3h-1.3zM424.0 166.1h1.7v1.7h-1.7zM443.1 171.0h1.5v1.5h-1.5zM438.3 164.6h1.4v1.4h-1.4zM456.9 169.3h1.5v1.5h-1.5zM446.5 174.9h1.4v1.4h-1.4zM459.9 162.3h1.3v1.3h-1.3zM449.3 180.0h1.3v1.3h-1.3zM437.9 181.9h1.5v1.5h-1.5zM449.3 181.6h1.7v1.7h-1.7zM429.5 162.0h1.3v1.3h-1.3zM452.1 167.2h1.3v1.3h-1.3zM465.9 171.3h1.7v1.7h-1.7zM452.9 183.9h1.7v1.7h-1.7zM444.9 165.5h1.3v1.3h-1.3zM449.9 159.6h1.3v1.3h-1.3zM437.4 183.2h1.7v1.7h-1.7zM434.6 162.5h1.3v1.3h-1.3z" fill="#52a30c"/><path d="M443.5 172.3h1.5v1.5h-1.5zM448.5 158.9h1.4v1.4h-1.4zM444.7 169.1h1.7v1.7h-1.7zM449.9 168.4h1.7v1.7h-1.7zM450.1 167.5h1.7v1.7h-1.7zM444.3 150.6h1.3v1.3h-1.3zM457.7 161.0h1.6v1.6h-1.6zM450.4 167.0h1.4v1.4h-1.4zM430.8 177.3h1.7v1.7h-1.7zM447.9 180.3h1.6v1.6h-1.6zM450.3 163.5h1.6v1.6h-1.6zM450.2 164.5h1.4v1.4h-1.4zM441.7 171.5h1.5v1.5h-1.5zM455.3 175.1h1.7v1.7h-1.7zM441.0 172.3h1.7v1.7h-1.7zM433.6 155.2h1.4v1.4h-1.4zM438.3 169.4h1.5v1.5h-1.5zM455.6 170.5h1.4v1.4h-1.4z" fill="#5aa814"/><path d="M448.3 173.8h1.5v1.5h-1.5zM455.2 162.9h1.4v1.4h-1.4zM456.1 176.6h1.6v1.6h-1.6zM445.9 177.1h1.7v1.7h-1.7zM451.8 180.1h1.5v1.5h-1.5zM453.1 170.9h1.3v1.3h-1.3zM450.8 175.0h1.5v1.5h-1.5zM453.7 177.6h1.3v1.3h-1.3zM441.7 173.1h1.6v1.6h-1.6zM460.5 172.4h1.5v1.5h-1.5zM448.2 180.3h1.3v1.3h-1.3zM454.5 184.0h1.5v1.5h-1.5zM437.5 164.8h1.6v1.6h-1.6zM444.1 166.0h1.6v1.6h-1.6zM449.3 173.8h1.6v1.6h-1.6zM448.7 171.2h1.3v1.3h-1.3zM448.6 172.7h1.7v1.7h-1.7zM447.1 160.6h1.6v1.6h-1.6zM430.4 173.9h1.7v1.7h-1.7zM461.3 169.7h1.7v1.7h-1.7z" fill="#4c9c08"/><path d="M454.8 180.4h1.4v1.4h-1.4zM440.9 170.7h1.5v1.5h-1.5zM444.7 168.3h1.6v1.6h-1.6zM442.9 183.7h1.4v1.4h-1.4zM449.8 180.9h1.6v1.6h-1.6zM468.3 164.4h1.3v1.3h-1.3zM458.0 177.8h1.7v1.7h-1.7zM447.2 165.6h1.7v1.7h-1.7zM449.8 169.9h1.4v1.4h-1.4zM454.6 174.1h1.5v1.5h-1.5zM442.3 176.8h1.3v1.3h-1.3zM451.0 172.5h1.3v1.3h-1.3zM438.6 174.0h1.7v1.7h-1.7zM450.9 153.7h1.5v1.5h-1.5z" fill="#62aa1e"/><path d="M420.2 186.8h1.6v1.6h-1.6zM415.1 204.3h1.3v1.3h-1.3zM432.6 187.9h1.3v1.3h-1.3zM430.7 213.7h1.5v1.5h-1.5zM428.1 202.0h1.5v1.5h-1.5zM433.3 190.3h1.4v1.4h-1.4zM435.6 190.4h1.4v1.4h-1.4zM450.1 196.8h1.3v1.3h-1.3zM432.9 189.1h1.7v1.7h-1.7zM426.6 191.2h1.4v1.4h-1.4zM440.1 180.6h1.7v1.7h-1.7zM432.7 202.3h1.4v1.4h-1.4zM435.6 175.9h1.7v1.7h-1.7zM427.7 195.7h1.4v1.4h-1.4zM432.8 199.5h1.4v1.4h-1.4zM421.4 193.4h1.3v1.3h-1.3zM417.8 178.0h1.7v1.7h-1.7zM442.0 208.1h1.6v1.6h-1.6z" fill="#52a30c"/><path d="M433.2 184.4h1.4v1.4h-1.4zM437.1 193.9h1.6v1.6h-1.6zM436.3 172.0h1.3v1.3h-1.3zM435.8 201.4h1.7v1.7h-1.7zM419.4 207.1h1.3v1.3h-1.3zM422.9 196.8h1.6v1.6h-1.6zM425.3 181.8h1.5v1.5h-1.5zM422.4 208.3h1.6v1.6h-1.6zM433.8 188.4h1.6v1.6h-1.6zM425.4 193.3h1.4v1.4h-1.4zM429.9 198.1h1.7v1.7h-1.7zM427.5 167.8h1.5v1.5h-1.5zM429.8 200.8h1.5v1.5h-1.5zM426.4 191.7h1.3v1.3h-1.3zM429.9 204.2h1.6v1.6h-1.6z" fill="#5aa814"/><path d="M425.1 193.6h1.5v1.5h-1.5zM415.2 190.6h1.5v1.5h-1.5zM429.6 181.0h1.7v1.7h-1.7zM428.6 202.1h1.6v1.6h-1.6zM428.9 179.2h1.4v1.4h-1.4zM423.4 184.3h1.4v1.4h-1.4zM441.0 193.5h1.7v1.7h-1.7zM418.5 183.6h1.3v1.3h-1.3zM408.7 204.0h1.3v1.3h-1.3zM421.3 201.4h1.7v1.7h-1.7zM429.2 189.2h1.7v1.7h-1.7zM428.7 160.7h1.4v1.4h-1.4zM431.3 190.0h1.5v1.5h-1.5z" fill="#62aa1e"/><path d="M433.4 190.6h1.6v1.6h-1.6zM426.8 197.8h1.3v1.3h-1.3zM436.0 179.5h1.5v1.5h-1.5zM421.2 203.5h1.4v1.4h-1.4zM428.4 199.5h1.4v1.4h-1.4zM428.0 205.2h1.6v1.6h-1.6zM433.0 180.1h1.6v1.6h-1.6zM423.5 192.1h1.6v1.6h-1.6zM429.1 203.3h1.5v1.5h-1.5zM428.3 195.0h1.6v1.6h-1.6zM421.3 200.7h1.7v1.7h-1.7zM425.0 192.0h1.4v1.4h-1.4zM435.7 203.8h1.3v1.3h-1.3zM418.9 180.6h1.6v1.6h-1.6z" fill="#4c9c08"/><path d="M404.5 198.8h1.5v1.5h-1.5zM399.2 196.7h1.5v1.5h-1.5zM412.1 193.8h1.3v1.3h-1.3zM407.9 192.1h1.6v1.6h-1.6zM396.3 194.2h1.7v1.7h-1.7zM398.1 193.8h1.4v1.4h-1.4z" fill="#52a30c"/><path d="M396.8 190.6h1.4v1.4h-1.4zM399.5 187.7h1.6v1.6h-1.6zM398.9 196.3h1.4v1.4h-1.4zM396.5 186.4h1.5v1.5h-1.5zM400.0 197.6h1.6v1.6h-1.6zM408.4 189.4h1.5v1.5h-1.5zM405.4 190.2h1.5v1.5h-1.5zM396.6 192.6h1.3v1.3h-1.3zM401.1 190.5h1.3v1.3h-1.3zM403.7 190.0h1.3v1.3h-1.3z" fill="#5aa814"/><path d="M404.8 200.5h1.3v1.3h-1.3zM400.8 191.3h1.5v1.5h-1.5zM396.8 193.5h1.4v1.4h-1.4zM415.6 203.3h1.4v1.4h-1.4zM403.1 194.4h1.3v1.3h-1.3zM403.6 192.1h1.3v1.3h-1.3zM408.0 194.9h1.3v1.3h-1.3zM406.6 196.2h1.5v1.5h-1.5zM402.2 204.6h1.3v1.3h-1.3zM394.4 192.7h1.6v1.6h-1.6zM408.7 198.3h1.7v1.7h-1.7z" fill="#4c9c08"/><path d="M403.1 190.7h1.5v1.5h-1.5zM408.5 184.6h1.6v1.6h-1.6zM402.0 197.0h1.6v1.6h-1.6z" fill="#62aa1e"/><path d="M425.3 188.6h1.4v1.4h-1.4zM427.6 187.6h1.4v1.4h-1.4zM423.6 193.2h1.5v1.5h-1.5zM423.6 188.4h1.4v1.4h-1.4zM428.1 188.6h1.2v1.2h-1.2zM425.4 183.8h1.3v1.3h-1.3zM427.1 185.8h1.4v1.4h-1.4zM425.1 187.1h1.5v1.5h-1.5zM425.8 190.9h1.6v1.6h-1.6zM427.3 183.9h1.4v1.4h-1.4z" fill="#22b2e4"/><path d="M462.2 196.7h1.1v1.1h-1.1zM457.9 181.8h1.4v1.4h-1.4zM468.0 176.4h1.4v1.4h-1.4zM459.0 191.1h1.4v1.4h-1.4zM460.3 190.0h1.2v1.2h-1.2zM469.8 178.6h1.2v1.2h-1.2zM465.7 176.0h1.2v1.2h-1.2zM471.3 188.0h1.1v1.1h-1.1zM462.9 184.9h1.5v1.5h-1.5z" fill="#52a30c"/><path d="M466.0 190.8h1.2v1.2h-1.2zM468.7 178.6h1.4v1.4h-1.4zM459.1 174.3h1.2v1.2h-1.2zM463.3 184.4h1.3v1.3h-1.3zM463.5 205.0h1.2v1.2h-1.2zM458.2 185.0h1.1v1.1h-1.1z" fill="#9b5bdb"/><path d="M462.1 184.8h1.2v1.2h-1.2zM463.7 188.8h1.5v1.5h-1.5zM463.1 181.1h1.2v1.2h-1.2zM470.5 190.2h1.2v1.2h-1.2z" fill="#5aa814"/><path d="M470.9 180.5h1.2v1.2h-1.2zM465.4 176.4h1.3v1.3h-1.3zM460.5 175.2h1.2v1.2h-1.2zM460.7 180.6h1.5v1.5h-1.5zM459.8 185.4h1.2v1.2h-1.2z" fill="#4c9c08"/><path d="M450.9 191.9h1.1v1.1h-1.1zM466.0 193.6h1.5v1.5h-1.5zM463.2 176.3h1.1v1.1h-1.1zM463.8 180.4h1.4v1.4h-1.4zM467.3 184.6h1.3v1.3h-1.3zM463.7 182.8h1.1v1.1h-1.1z" fill="#62aa1e"/><path d="M449.8 156.3h1.2v1.2h-1.2zM446.5 167.5h1.4v1.4h-1.4zM466.2 168.3h1.3v1.3h-1.3zM460.4 193.0h1.2v1.2h-1.2zM424.1 192.7h1.3v1.3h-1.3zM422.7 194.8h1.2v1.2h-1.2zM473.6 178.8h1.2v1.2h-1.2zM401.7 173.4h1.4v1.4h-1.4zM399.8 225.4h1.2v1.2h-1.2zM457.1 141.5h1.2v1.2h-1.2zM465.2 179.4h1.4v1.4h-1.4zM431.9 181.9h1.3v1.3h-1.3zM438.9 208.0h1.4v1.4h-1.4zM459.2 152.9h1.4v1.4h-1.4zM402.4 196.5h1.3v1.3h-1.3zM436.7 188.4h1.1v1.1h-1.1z" fill="#62aa1e"/><path d="M395.2 170.3h1.4v1.4h-1.4zM374.5 183.7h1.4v1.4h-1.4zM428.1 169.7h1.3v1.3h-1.3zM434.9 189.8h1.3v1.3h-1.3zM401.6 202.5h1.2v1.2h-1.2zM422.3 165.4h1.4v1.4h-1.4zM414.4 143.2h1.1v1.1h-1.1zM406.4 194.0h1.1v1.1h-1.1zM429.5 188.2h1.3v1.3h-1.3zM451.9 212.0h1.2v1.2h-1.2zM470.5 204.5h1.2v1.2h-1.2z" fill="#5aa814"/><path d="M462.5 204.0h1.1v1.1h-1.1zM413.8 182.6h1.3v1.3h-1.3zM427.2 164.1h1.4v1.4h-1.4zM458.8 169.9h1.3v1.3h-1.3zM396.5 187.8h1.2v1.2h-1.2zM418.5 182.3h1.4v1.4h-1.4zM406.6 197.4h1.4v1.4h-1.4zM420.1 174.7h1.4v1.4h-1.4z" fill="#4c9c08"/><path d="M477.2 172.1h1.5v1.5h-1.5zM431.9 165.8h1.4v1.4h-1.4zM388.8 189.9h1.3v1.3h-1.3zM440.2 204.5h1.2v1.2h-1.2zM430.7 187.0h1.2v1.2h-1.2zM441.3 170.2h1.3v1.3h-1.3zM436.7 168.4h1.3v1.3h-1.3zM437.4 167.0h1.4v1.4h-1.4zM399.3 221.0h1.1v1.1h-1.1zM469.0 170.0h1.4v1.4h-1.4zM408.8 195.1h1.4v1.4h-1.4zM449.1 207.4h1.3v1.3h-1.3zM434.9 205.8h1.4v1.4h-1.4zM436.5 237.1h1.2v1.2h-1.2zM474.4 150.4h1.2v1.2h-1.2z" fill="#52a30c"/><rect x="476" y="168.5" width="2" height="2" fill="#f4b42a"/><rect x="440.5" y="165.5" width="1.8" height="1.8" fill="#f4b42a"/><ellipse cx="415" cy="168" rx="20.6" ry="12.2" transform="rotate(3 415 168)" fill="none" stroke="#6f52b8" stroke-width="0.85" stroke-dasharray="1.6 1.3"/><ellipse cx="453.7" cy="173" rx="17" ry="15.3" transform="rotate(0 453.7 173)" fill="none" stroke="#6f52b8" stroke-width="0.85" stroke-dasharray="1.6 1.3"/><ellipse cx="403.5" cy="194.2" rx="12.2" ry="13.2" transform="rotate(0 403.5 194.2)" fill="none" stroke="#6f52b8" stroke-width="0.85" stroke-dasharray="1.6 1.3"/><ellipse cx="428.8" cy="193.2" rx="12.2" ry="18.5" transform="rotate(0 428.8 193.2)" fill="none" stroke="#6f52b8" stroke-width="0.85" stroke-dasharray="1.6 1.3"/><text x="407.5" y="148.3" font-size="5" text-anchor="middle" fill="#000" font-family="&quot;Liberation Sans&quot;, sans-serif" >Effector protein-dominated</text><text x="407.5" y="154.10000000000002" font-size="5" text-anchor="middle" fill="#000" font-family="&quot;Liberation Sans&quot;, sans-serif" >multiple functions</text><text x="480" y="152" font-size="5" text-anchor="middle" fill="#000" font-family="&quot;Liberation Sans&quot;, sans-serif" >Effector protein-dominated</text><text x="480" y="157.8" font-size="5" text-anchor="middle" fill="#000" font-family="&quot;Liberation Sans&quot;, sans-serif" >multiple functions</text><text x="420.4" y="214.6" font-size="5" text-anchor="middle" fill="#000" font-family="&quot;Liberation Sans&quot;, sans-serif" >Effector protein-dominated</text><text x="420.4" y="220.4" font-size="5" text-anchor="middle" fill="#000" font-family="&quot;Liberation Sans&quot;, sans-serif" >multiple functions</text><circle cx="396.4" cy="233.7" r="3.1" fill="#f5b731"/><text x="404.5" y="235.39999999999998" font-size="4.9" text-anchor="start" fill="#222" font-family="&quot;Liberation Sans&quot;, sans-serif" >Regulatory</text><circle cx="396.4" cy="241.4" r="3.1" fill="#a85ee8"/><text x="404.5" y="243.1" font-size="4.9" text-anchor="start" fill="#222" font-family="&quot;Liberation Sans&quot;, sans-serif" >Chemoattractive</text><circle cx="396.4" cy="249.2" r="3.1" fill="#35b8e0"/><text x="404.5" y="250.89999999999998" font-size="4.9" text-anchor="start" fill="#222" font-family="&quot;Liberation Sans&quot;, sans-serif" >Stimulatory</text><circle cx="396.4" cy="256.9" r="3.1" fill="#6aaa2a"/><text x="404.5" y="258.59999999999997" font-size="4.9" text-anchor="start" fill="#222" font-family="&quot;Liberation Sans&quot;, sans-serif" >Effector</text>
<text x="7.3" y="274.3" font-size="10" font-weight="bold" fill="#000" font-family="&quot;Liberation Sans&quot;, sans-serif">B</text><rect x="51.70" y="280.10" width="11.70" height="11.60" fill="#fb5500"/><rect x="63.10" y="280.10" width="11.70" height="11.60" fill="#fb7c40"/><rect x="74.50" y="280.10" width="11.70" height="11.60" fill="#fb7c40"/><rect x="85.90" y="280.10" width="11.70" height="11.60" fill="#fb9969"/><rect x="97.30" y="280.10" width="11.70" height="11.60" fill="#fcc4a1"/><rect x="108.70" y="280.10" width="11.70" height="11.60" fill="#fb9462"/><rect x="120.10" y="280.10" width="11.70" height="11.60" fill="#fba279"/><rect x="131.50" y="280.10" width="11.70" height="11.60" fill="#fb8b54"/><rect x="142.90" y="280.10" width="11.70" height="11.60" fill="#fb9f73"/><rect x="154.30" y="280.10" width="11.70" height="11.60" fill="#fcc2a2"/><rect x="165.70" y="280.10" width="11.70" height="11.60" fill="#fbb08c"/><rect x="177.10" y="280.10" width="11.70" height="11.60" fill="#fbb08c"/><rect x="188.50" y="280.10" width="11.70" height="11.60" fill="#fbb38f"/><rect x="199.90" y="280.10" width="11.70" height="11.60" fill="#fbb08c"/><rect x="211.30" y="280.10" width="11.70" height="11.60" fill="#fbaa84"/><rect x="222.70" y="280.10" width="11.70" height="11.60" fill="#fdc9ad"/><rect x="234.10" y="280.10" width="11.70" height="11.60" fill="#fdc9ad"/><rect x="245.50" y="280.10" width="11.70" height="11.60" fill="#fcba98"/><rect x="256.90" y="280.10" width="11.70" height="11.60" fill="#fcbe9d"/><rect x="268.30" y="280.10" width="11.70" height="11.60" fill="#fddecc"/><rect x="279.70" y="280.10" width="11.70" height="11.60" fill="#fdd0b7"/><rect x="291.10" y="280.10" width="11.70" height="11.60" fill="#fdd0b7"/><rect x="302.50" y="280.10" width="11.70" height="11.60" fill="#fdd0b7"/><rect x="313.90" y="280.10" width="11.70" height="11.60" fill="#fedecc"/><rect x="325.30" y="280.10" width="11.70" height="11.60" fill="#ffffff"/><rect x="336.70" y="280.10" width="11.70" height="11.60" fill="#fdccb1"/><rect x="348.10" y="280.10" width="11.70" height="11.60" fill="#fdccb1"/><rect x="359.50" y="280.10" width="11.70" height="11.60" fill="#fdccb1"/><rect x="370.90" y="280.10" width="11.70" height="11.60" fill="#fdccb1"/><rect x="382.30" y="280.10" width="11.70" height="11.60" fill="#fdccb1"/><rect x="393.70" y="280.10" width="11.70" height="11.60" fill="#fdccb1"/><rect x="405.10" y="280.10" width="11.70" height="11.60" fill="#fdd6c2"/><rect x="416.50" y="280.10" width="11.70" height="11.60" fill="#fdd6c2"/><rect x="427.90" y="280.10" width="11.70" height="11.60" fill="#fdd6c2"/><rect x="439.30" y="280.10" width="11.70" height="11.60" fill="#fdd6c2"/><rect x="450.70" y="280.10" width="11.70" height="11.60" fill="#fdd6c2"/><rect x="462.10" y="280.10" width="11.70" height="11.60" fill="#fdd6c2"/><rect x="473.50" y="280.10" width="11.70" height="11.60" fill="#fdd2bd"/><rect x="484.90" y="280.10" width="11.70" height="11.60" fill="#fdd2bd"/><rect x="496.30" y="280.10" width="11.70" height="11.60" fill="#fdd2bd"/><rect x="51.70" y="291.50" width="11.70" height="11.30" fill="#fb5c09"/><rect x="63.10" y="291.50" width="11.70" height="11.30" fill="#fb9f73"/><rect x="74.50" y="291.50" width="11.70" height="11.30" fill="#fb9f73"/><rect x="85.90" y="291.50" width="11.70" height="11.30" fill="#fb9463"/><rect x="97.30" y="291.50" width="11.70" height="11.30" fill="#fb9462"/><rect x="108.70" y="291.50" width="11.70" height="11.30" fill="#fdd0b7"/><rect x="120.10" y="291.50" width="11.70" height="11.30" fill="#fba279"/><rect x="131.50" y="291.50" width="11.70" height="11.30" fill="#fcd1b9"/><rect x="142.90" y="291.50" width="11.70" height="11.30" fill="#fbb08c"/><rect x="154.30" y="291.50" width="11.70" height="11.30" fill="#fb9463"/><rect x="165.70" y="291.50" width="11.70" height="11.30" fill="#fcc4a5"/><rect x="177.10" y="291.50" width="11.70" height="11.30" fill="#fee3d5"/><rect x="188.50" y="291.50" width="11.70" height="11.30" fill="#fdd6c2"/><rect x="199.90" y="291.50" width="11.70" height="11.30" fill="#fdd6c2"/><rect x="211.30" y="291.50" width="11.70" height="11.30" fill="#fdccb1"/><rect x="222.70" y="291.50" width="11.70" height="11.30" fill="#fcc1a0"/><rect x="234.10" y="291.50" width="11.70" height="11.30" fill="#fcc1a0"/><rect x="245.50" y="291.50" width="11.70" height="11.30" fill="#ffffff"/><rect x="256.90" y="291.50" width="11.70" height="11.30" fill="#fddecc"/><rect x="268.30" y="291.50" width="11.70" height="11.30" fill="#fcbb99"/><rect x="279.70" y="291.50" width="11.70" height="11.30" fill="#fee3d5"/><rect x="291.10" y="291.50" width="11.70" height="11.30" fill="#fee3d5"/><rect x="302.50" y="291.50" width="11.70" height="11.30" fill="#fddecc"/><rect x="313.90" y="291.50" width="11.70" height="11.30" fill="#fcc4a5"/><rect x="325.30" y="291.50" width="11.70" height="11.30" fill="#fcc4a5"/><rect x="336.70" y="291.50" width="11.70" height="11.30" fill="#ffffff"/><rect x="348.10" y="291.50" width="11.70" height="11.30" fill="#ffffff"/><rect x="359.50" y="291.50" width="11.70" height="11.30" fill="#fedecc"/><rect x="370.90" y="291.50" width="11.70" height="11.30" fill="#ffffff"/><rect x="382.30" y="291.50" width="11.70" height="11.30" fill="#fedecc"/><rect x="393.70" y="291.50" width="11.70" height="11.30" fill="#fedecc"/><rect x="405.10" y="291.50" width="11.70" height="11.30" fill="#fee3d5"/><rect x="416.50" y="291.50" width="11.70" height="11.30" fill="#fee3d5"/><rect x="427.90" y="291.50" width="11.70" height="11.30" fill="#ffffff"/><rect x="439.30" y="291.50" width="11.70" height="11.30" fill="#ffffff"/><rect x="450.70" y="291.50" width="11.70" height="11.30" fill="#fddecc"/><rect x="462.10" y="291.50" width="11.70" height="11.30" fill="#ffffff"/><rect x="473.50" y="291.50" width="11.70" height="11.30" fill="#fee4d7"/><rect x="484.90" y="291.50" width="11.70" height="11.30" fill="#fee4d7"/><rect x="496.30" y="291.50" width="11.70" height="11.30" fill="#ffffff"/><rect x="51.20" y="302.80" width="456.80" height="1.1" fill="#c9c2c0"/><rect x="51.10" y="278.60" width="0.6" height="24.20" fill="#d0d0d8"/><text x="49" y="287.90" font-size="6" text-anchor="end" fill="#222" font-family="&quot;Liberation Sans&quot;, sans-serif">Responder</text><text x="49" y="299.25" font-size="6" text-anchor="end" fill="#222" font-family="&quot;Liberation Sans&quot;, sans-serif">Nonresponder</text><rect x="31" y="306.50" width="476.70" height="5.11" fill="#dceff7"/><text x="48.6" y="310.43" font-size="3.9" text-anchor="end" fill="#333" font-family="&quot;Liberation Sans&quot;, sans-serif">IL-10</text><rect x="31" y="311.56" width="476.70" height="5.11" fill="#e6f4f9"/><text x="48.6" y="315.48" font-size="3.9" text-anchor="end" fill="#333" font-family="&quot;Liberation Sans&quot;, sans-serif">sCD137</text><rect x="31" y="316.61" width="476.70" height="5.11" fill="#dceff7"/><text x="48.6" y="320.54" font-size="3.9" text-anchor="end" fill="#333" font-family="&quot;Liberation Sans&quot;, sans-serif">MIP-1b</text><rect x="31" y="321.67" width="476.70" height="5.11" fill="#e6f4f9"/><text x="48.6" y="325.59" font-size="3.9" text-anchor="end" fill="#333" font-family="&quot;Liberation Sans&quot;, sans-serif">IL-5</text><rect x="31" y="326.72" width="476.70" height="5.11" fill="#dceff7"/><text x="48.6" y="330.65" font-size="3.9" text-anchor="end" fill="#333" font-family="&quot;Liberation Sans&quot;, sans-serif">IL-6</text><rect x="31" y="331.78" width="476.70" height="5.11" fill="#e6f4f9"/><text x="48.6" y="335.71" font-size="3.9" text-anchor="end" fill="#333" font-family="&quot;Liberation Sans&quot;, sans-serif">Gran. B</text><rect x="31" y="336.83" width="476.70" height="5.11" fill="#dceff7"/><text x="48.6" y="340.76" font-size="3.9" text-anchor="end" fill="#333" font-family="&quot;Liberation Sans&quot;, sans-serif">IFN-g</text><rect x="31" y="341.89" width="476.70" height="5.11" fill="#e6f4f9"/><text x="48.6" y="345.82" font-size="3.9" text-anchor="end" fill="#333" font-family="&quot;Liberation Sans&quot;, sans-serif">Perforin</text><rect x="31" y="346.94" width="476.70" height="5.11" fill="#dceff7"/><text x="48.6" y="350.87" font-size="3.9" text-anchor="end" fill="#333" font-family="&quot;Liberation Sans&quot;, sans-serif">TNF-a</text><circle cx="137.20" cy="309.03" r="0.95" fill="#a88d4e"/><circle cx="182.80" cy="309.03" r="0.95" fill="#a88d4e"/><circle cx="285.40" cy="309.03" r="0.95" fill="#a88d4e"/><circle cx="308.20" cy="309.03" r="0.95" fill="#a88d4e"/><circle cx="376.60" cy="309.03" r="0.95" fill="#a88d4e"/><circle cx="388.00" cy="309.03" r="0.95" fill="#a88d4e"/><circle cx="467.80" cy="309.03" r="0.95" fill="#a88d4e"/><circle cx="103.00" cy="314.08" r="0.95" fill="#a88d4e"/><circle cx="228.40" cy="314.08" r="0.95" fill="#a88d4e"/><circle cx="274.00" cy="314.08" r="0.95" fill="#a88d4e"/><circle cx="331.00" cy="314.08" r="0.95" fill="#a88d4e"/><circle cx="456.40" cy="314.08" r="0.95" fill="#a88d4e"/><circle cx="502.00" cy="314.08" r="0.95" fill="#a88d4e"/><circle cx="160.00" cy="319.14" r="0.95" fill="#6b4c9a"/><circle cx="331.00" cy="319.14" r="0.95" fill="#6b4c9a"/><circle cx="342.40" cy="319.14" r="0.95" fill="#6b4c9a"/><circle cx="365.20" cy="319.14" r="0.95" fill="#6b4c9a"/><circle cx="422.20" cy="319.14" r="0.95" fill="#6b4c9a"/><circle cx="114.40" cy="324.19" r="0.95" fill="#2b7f98"/><circle cx="194.20" cy="324.19" r="0.95" fill="#2b7f98"/><circle cx="308.20" cy="324.19" r="0.95" fill="#2b7f98"/><circle cx="399.40" cy="324.19" r="0.95" fill="#2b7f98"/><circle cx="445.00" cy="324.19" r="0.95" fill="#2b7f98"/><circle cx="467.80" cy="324.19" r="0.95" fill="#2b7f98"/><circle cx="91.60" cy="329.25" r="0.95" fill="#2b7f98"/><circle cx="171.40" cy="329.25" r="0.95" fill="#2b7f98"/><circle cx="217.00" cy="329.25" r="0.95" fill="#2b7f98"/><circle cx="319.60" cy="329.25" r="0.95" fill="#2b7f98"/><circle cx="342.40" cy="329.25" r="0.95" fill="#2b7f98"/><circle cx="353.80" cy="329.25" r="0.95" fill="#2b7f98"/><circle cx="388.00" cy="329.25" r="0.95" fill="#2b7f98"/><circle cx="399.40" cy="329.25" r="0.95" fill="#2b7f98"/><circle cx="479.20" cy="329.25" r="0.95" fill="#2b7f98"/><circle cx="490.60" cy="329.25" r="0.95" fill="#2b7f98"/><circle cx="148.60" cy="334.31" r="0.95" fill="#5f7a33"/><circle cx="251.20" cy="334.31" r="0.95" fill="#5f7a33"/><circle cx="262.60" cy="334.31" r="0.95" fill="#5f7a33"/><circle cx="353.80" cy="334.31" r="0.95" fill="#5f7a33"/><circle cx="410.80" cy="334.31" r="0.95" fill="#5f7a33"/><circle cx="433.60" cy="334.31" r="0.95" fill="#5f7a33"/><circle cx="456.40" cy="334.31" r="0.95" fill="#5f7a33"/><circle cx="490.60" cy="334.31" r="0.95" fill="#5f7a33"/><circle cx="502.00" cy="334.31" r="0.95" fill="#5f7a33"/><circle cx="68.80" cy="339.36" r="0.95" fill="#5f7a33"/><circle cx="80.20" cy="339.36" r="0.95" fill="#5f7a33"/><circle cx="217.00" cy="339.36" r="0.95" fill="#5f7a33"/><circle cx="239.80" cy="339.36" r="0.95" fill="#5f7a33"/><circle cx="251.20" cy="339.36" r="0.95" fill="#5f7a33"/><circle cx="262.60" cy="339.36" r="0.95" fill="#5f7a33"/><circle cx="274.00" cy="339.36" r="0.95" fill="#5f7a33"/><circle cx="285.40" cy="339.36" r="0.95" fill="#5f7a33"/><circle cx="296.80" cy="339.36" r="0.95" fill="#5f7a33"/><circle cx="319.60" cy="339.36" r="0.95" fill="#5f7a33"/><circle cx="331.00" cy="339.36" r="0.95" fill="#5f7a33"/><circle cx="353.80" cy="339.36" r="0.95" fill="#5f7a33"/><circle cx="376.60" cy="339.36" r="0.95" fill="#5f7a33"/><circle cx="422.20" cy="339.36" r="0.95" fill="#5f7a33"/><circle cx="445.00" cy="339.36" r="0.95" fill="#5f7a33"/><circle cx="479.20" cy="339.36" r="0.95" fill="#5f7a33"/><circle cx="502.00" cy="339.36" r="0.95" fill="#5f7a33"/><circle cx="125.80" cy="344.42" r="0.95" fill="#5f7a33"/><circle cx="205.60" cy="344.42" r="0.95" fill="#5f7a33"/><circle cx="239.80" cy="344.42" r="0.95" fill="#5f7a33"/><circle cx="296.80" cy="344.42" r="0.95" fill="#5f7a33"/><circle cx="410.80" cy="344.42" r="0.95" fill="#5f7a33"/><circle cx="479.20" cy="344.42" r="0.95" fill="#5f7a33"/><circle cx="57.40" cy="349.47" r="0.95" fill="#5f7a33"/><circle cx="80.20" cy="349.47" r="0.95" fill="#5f7a33"/><circle cx="171.40" cy="349.47" r="0.95" fill="#5f7a33"/><circle cx="182.80" cy="349.47" r="0.95" fill="#5f7a33"/><circle cx="194.20" cy="349.47" r="0.95" fill="#5f7a33"/><circle cx="205.60" cy="349.47" r="0.95" fill="#5f7a33"/><circle cx="217.00" cy="349.47" r="0.95" fill="#5f7a33"/><circle cx="228.40" cy="349.47" r="0.95" fill="#5f7a33"/><circle cx="239.80" cy="349.47" r="0.95" fill="#5f7a33"/><circle cx="251.20" cy="349.47" r="0.95" fill="#5f7a33"/><circle cx="274.00" cy="349.47" r="0.95" fill="#5f7a33"/><circle cx="285.40" cy="349.47" r="0.95" fill="#5f7a33"/><circle cx="308.20" cy="349.47" r="0.95" fill="#5f7a33"/><circle cx="342.40" cy="349.47" r="0.95" fill="#5f7a33"/><circle cx="353.80" cy="349.47" r="0.95" fill="#5f7a33"/><circle cx="365.20" cy="349.47" r="0.95" fill="#5f7a33"/><circle cx="433.60" cy="349.47" r="0.95" fill="#5f7a33"/><circle cx="456.40" cy="349.47" r="0.95" fill="#5f7a33"/><circle cx="479.20" cy="349.47" r="0.95" fill="#5f7a33"/><circle cx="502.00" cy="349.47" r="0.95" fill="#5f7a33"/><text x="0" y="0" font-size="9.3" fill="#111" text-anchor="middle" transform="translate(25.8,327.30) rotate(-90)" font-family="&quot;Liberation Sans&quot;, sans-serif">CD4</text><rect x="165.70" y="278.60" width="57.00" height="74.20" fill="none" stroke="#ffffff" stroke-width="1.3" opacity="0.6"/><rect x="165.70" y="278.60" width="57.00" height="74.20" fill="none" stroke="#3fae73" stroke-width="0.95" stroke-dasharray="1.3 1.9"/><rect x="245.50" y="278.60" width="22.80" height="74.20" fill="none" stroke="#ffffff" stroke-width="1.3" opacity="0.6"/><rect x="245.50" y="278.60" width="22.80" height="74.20" fill="none" stroke="#3fae73" stroke-width="0.95" stroke-dasharray="1.3 1.9"/><rect x="279.70" y="278.60" width="34.20" height="74.20" fill="none" stroke="#ffffff" stroke-width="1.3" opacity="0.6"/><rect x="279.70" y="278.60" width="34.20" height="74.20" fill="none" stroke="#3fae73" stroke-width="0.95" stroke-dasharray="1.3 1.9"/><rect x="336.70" y="278.60" width="68.40" height="74.20" fill="none" stroke="#ffffff" stroke-width="1.3" opacity="0.6"/><rect x="336.70" y="278.60" width="68.40" height="74.20" fill="none" stroke="#3fae73" stroke-width="0.95" stroke-dasharray="1.3 1.9"/><rect x="427.90" y="278.60" width="22.80" height="74.20" fill="none" stroke="#ffffff" stroke-width="1.3" opacity="0.6"/><rect x="427.90" y="278.60" width="22.80" height="74.20" fill="none" stroke="#3fae73" stroke-width="0.95" stroke-dasharray="1.3 1.9"/><rect x="462.10" y="278.60" width="48.20" height="74.20" fill="none" stroke="#ffffff" stroke-width="1.3" opacity="0.6"/><rect x="462.10" y="278.60" width="48.20" height="74.20" fill="none" stroke="#3fae73" stroke-width="0.95" stroke-dasharray="1.3 1.9"/><rect x="52.10" y="360.20" width="11.70" height="11.30" fill="#fb5500"/><rect x="63.50" y="360.20" width="11.70" height="11.30" fill="#fb6115"/><rect x="74.90" y="360.20" width="11.70" height="11.30" fill="#fb945f"/><rect x="86.30" y="360.20" width="11.70" height="11.30" fill="#fb7029"/><rect x="97.70" y="360.20" width="11.70" height="11.30" fill="#fb7029"/><rect x="109.10" y="360.20" width="11.70" height="11.30" fill="#fb854c"/><rect x="120.50" y="360.20" width="11.70" height="11.30" fill="#fb9a66"/><rect x="131.90" y="360.20" width="11.70" height="11.30" fill="#fb9a66"/><rect x="143.30" y="360.20" width="11.70" height="11.30" fill="#fb9462"/><rect x="154.70" y="360.20" width="11.70" height="11.30" fill="#fb9a66"/><rect x="166.10" y="360.20" width="11.70" height="11.30" fill="#fb9a66"/><rect x="177.50" y="360.20" width="11.70" height="11.30" fill="#fb9a66"/><rect x="188.90" y="360.20" width="11.70" height="11.30" fill="#fb8e56"/><rect x="200.30" y="360.20" width="11.70" height="11.30" fill="#fb8e56"/><rect x="211.70" y="360.20" width="11.70" height="11.30" fill="#fb8e56"/><rect x="223.10" y="360.20" width="11.70" height="11.30" fill="#fbaa81"/><rect x="234.50" y="360.20" width="11.70" height="11.30" fill="#fbaa81"/><rect x="245.90" y="360.20" width="11.70" height="11.30" fill="#fdccb1"/><rect x="257.30" y="360.20" width="11.70" height="11.30" fill="#fbb08c"/><rect x="268.70" y="360.20" width="11.70" height="11.30" fill="#fbb08c"/><rect x="280.10" y="360.20" width="11.70" height="11.30" fill="#fbaa81"/><rect x="291.50" y="360.20" width="11.70" height="11.30" fill="#fbaa81"/><rect x="302.90" y="360.20" width="11.70" height="11.30" fill="#fbb08c"/><rect x="314.30" y="360.20" width="11.70" height="11.30" fill="#fbb08c"/><rect x="325.70" y="360.20" width="11.70" height="11.30" fill="#fbb08c"/><rect x="337.10" y="360.20" width="11.70" height="11.30" fill="#fcc4a5"/><rect x="348.50" y="360.20" width="11.70" height="11.30" fill="#fbb38f"/><rect x="359.90" y="360.20" width="11.70" height="11.30" fill="#fbb38f"/><rect x="371.30" y="360.20" width="11.70" height="11.30" fill="#fdd0b7"/><rect x="382.70" y="360.20" width="11.70" height="11.30" fill="#fcbe9d"/><rect x="394.10" y="360.20" width="11.70" height="11.30" fill="#fcbe9d"/><rect x="405.50" y="360.20" width="11.70" height="11.30" fill="#fcbe9d"/><rect x="416.90" y="360.20" width="11.70" height="11.30" fill="#fcbe9d"/><rect x="428.30" y="360.20" width="11.70" height="11.30" fill="#fcbe9d"/><rect x="439.70" y="360.20" width="11.70" height="11.30" fill="#fcbb99"/><rect x="451.10" y="360.20" width="11.70" height="11.30" fill="#fcc4a5"/><rect x="462.50" y="360.20" width="11.70" height="11.30" fill="#ffffff"/><rect x="473.90" y="360.20" width="11.70" height="11.30" fill="#fcbe9d"/><rect x="485.30" y="360.20" width="11.70" height="11.30" fill="#fcc4a5"/><rect x="496.70" y="360.20" width="11.70" height="11.30" fill="#fcbe9d"/><rect x="52.10" y="371.30" width="11.70" height="11.50" fill="#fb8449"/><rect x="63.50" y="371.30" width="11.70" height="11.50" fill="#fb9966"/><rect x="74.90" y="371.30" width="11.70" height="11.50" fill="#fb590e"/><rect x="86.30" y="371.30" width="11.70" height="11.50" fill="#fb9a66"/><rect x="97.70" y="371.30" width="11.70" height="11.50" fill="#fb9462"/><rect x="109.10" y="371.30" width="11.70" height="11.50" fill="#fb9462"/><rect x="120.50" y="371.30" width="11.70" height="11.50" fill="#fb9a66"/><rect x="131.90" y="371.30" width="11.70" height="11.50" fill="#fcbb99"/><rect x="143.30" y="371.30" width="11.70" height="11.50" fill="#fcbb99"/><rect x="154.70" y="371.30" width="11.70" height="11.50" fill="#fdd0b7"/><rect x="166.10" y="371.30" width="11.70" height="11.50" fill="#fbb08c"/><rect x="177.50" y="371.30" width="11.70" height="11.50" fill="#fbb08c"/><rect x="188.90" y="371.30" width="11.70" height="11.50" fill="#fdd0b7"/><rect x="200.30" y="371.30" width="11.70" height="11.50" fill="#fdd0b7"/><rect x="211.70" y="371.30" width="11.70" height="11.50" fill="#fdc9ad"/><rect x="223.10" y="371.30" width="11.70" height="11.50" fill="#fbb08c"/><rect x="234.50" y="371.30" width="11.70" height="11.50" fill="#fbb08c"/><rect x="245.90" y="371.30" width="11.70" height="11.50" fill="#fba77f"/><rect x="257.30" y="371.30" width="11.70" height="11.50" fill="#fdccb1"/><rect x="268.70" y="371.30" width="11.70" height="11.50" fill="#fdccb1"/><rect x="280.10" y="371.30" width="11.70" height="11.50" fill="#fcbe9d"/><rect x="291.50" y="371.30" width="11.70" height="11.50" fill="#fdccb1"/><rect x="302.90" y="371.30" width="11.70" height="11.50" fill="#fcbe9d"/><rect x="314.30" y="371.30" width="11.70" height="11.50" fill="#fdd6c2"/><rect x="325.70" y="371.30" width="11.70" height="11.50" fill="#fdd0b7"/><rect x="337.10" y="371.30" width="11.70" height="11.50" fill="#fbb08c"/><rect x="348.50" y="371.30" width="11.70" height="11.50" fill="#fddecc"/><rect x="359.90" y="371.30" width="11.70" height="11.50" fill="#fddecc"/><rect x="371.30" y="371.30" width="11.70" height="11.50" fill="#fbb08c"/><rect x="382.70" y="371.30" width="11.70" height="11.50" fill="#fdd0b7"/><rect x="394.10" y="371.30" width="11.70" height="11.50" fill="#fee3d5"/><rect x="405.50" y="371.30" width="11.70" height="11.50" fill="#fdccb1"/><rect x="416.90" y="371.30" width="11.70" height="11.50" fill="#fdccb1"/><rect x="428.30" y="371.30" width="11.70" height="11.50" fill="#fdccb1"/><rect x="439.70" y="371.30" width="11.70" height="11.50" fill="#fdd6c2"/><rect x="451.10" y="371.30" width="11.70" height="11.50" fill="#fdccb1"/><rect x="462.50" y="371.30" width="11.70" height="11.50" fill="#fcbb99"/><rect x="473.90" y="371.30" width="11.70" height="11.50" fill="#fdd6c2"/><rect x="485.30" y="371.30" width="11.70" height="11.50" fill="#fdccb1"/><rect x="496.70" y="371.30" width="11.70" height="11.50" fill="#fdccb1"/><rect x="51.60" y="382.80" width="456.80" height="1.1" fill="#c9c2c0"/><rect x="51.50" y="358.70" width="0.6" height="24.10" fill="#d0d0d8"/><text x="49" y="367.85" font-size="6" text-anchor="end" fill="#222" font-family="&quot;Liberation Sans&quot;, sans-serif">Responder</text><text x="49" y="379.15" font-size="6" text-anchor="end" fill="#222" font-family="&quot;Liberation Sans&quot;, sans-serif">Nonresponder</text><rect x="31" y="386.80" width="477.10" height="5.09" fill="#dceff7"/><text x="48.6" y="390.72" font-size="3.9" text-anchor="end" fill="#333" font-family="&quot;Liberation Sans&quot;, sans-serif">sCD137</text><rect x="31" y="391.84" width="477.10" height="5.09" fill="#e6f4f9"/><text x="48.6" y="395.77" font-size="3.9" text-anchor="end" fill="#333" font-family="&quot;Liberation Sans&quot;, sans-serif">MIP-1b</text><rect x="31" y="396.89" width="477.10" height="5.09" fill="#dceff7"/><text x="48.6" y="400.81" font-size="3.9" text-anchor="end" fill="#333" font-family="&quot;Liberation Sans&quot;, sans-serif">IL-5</text><rect x="31" y="401.93" width="477.10" height="5.09" fill="#e6f4f9"/><text x="48.6" y="405.86" font-size="3.9" text-anchor="end" fill="#333" font-family="&quot;Liberation Sans&quot;, sans-serif">IL-6</text><rect x="31" y="406.98" width="477.10" height="5.09" fill="#dceff7"/><text x="48.6" y="410.90" font-size="3.9" text-anchor="end" fill="#333" font-family="&quot;Liberation Sans&quot;, sans-serif">Gran. B</text><rect x="31" y="412.02" width="477.10" height="5.09" fill="#e6f4f9"/><text x="48.6" y="415.94" font-size="3.9" text-anchor="end" fill="#333" font-family="&quot;Liberation Sans&quot;, sans-serif">IFN-g</text><rect x="31" y="417.07" width="477.10" height="5.09" fill="#dceff7"/><text x="48.6" y="420.99" font-size="3.9" text-anchor="end" fill="#333" font-family="&quot;Liberation Sans&quot;, sans-serif">MIP-1a</text><rect x="31" y="422.11" width="477.10" height="5.09" fill="#e6f4f9"/><text x="48.6" y="426.03" font-size="3.9" text-anchor="end" fill="#333" font-family="&quot;Liberation Sans&quot;, sans-serif">Perforin</text><rect x="31" y="427.16" width="477.10" height="5.09" fill="#dceff7"/><text x="48.6" y="431.08" font-size="3.9" text-anchor="end" fill="#333" font-family="&quot;Liberation Sans&quot;, sans-serif">TNF-a</text><circle cx="80.60" cy="389.32" r="0.95" fill="#a88d4e"/><circle cx="137.60" cy="389.32" r="0.95" fill="#a88d4e"/><circle cx="183.20" cy="389.32" r="0.95" fill="#a88d4e"/><circle cx="240.20" cy="389.32" r="0.95" fill="#a88d4e"/><circle cx="251.60" cy="389.32" r="0.95" fill="#a88d4e"/><circle cx="274.40" cy="389.32" r="0.95" fill="#a88d4e"/><circle cx="285.80" cy="389.32" r="0.95" fill="#a88d4e"/><circle cx="320.00" cy="389.32" r="0.95" fill="#a88d4e"/><circle cx="342.80" cy="389.32" r="0.95" fill="#a88d4e"/><circle cx="411.20" cy="389.32" r="0.95" fill="#a88d4e"/><circle cx="434.00" cy="389.32" r="0.95" fill="#a88d4e"/><circle cx="445.40" cy="389.32" r="0.95" fill="#a88d4e"/><circle cx="468.20" cy="389.32" r="0.95" fill="#a88d4e"/><circle cx="491.00" cy="389.32" r="0.95" fill="#a88d4e"/><circle cx="502.40" cy="389.32" r="0.95" fill="#a88d4e"/><circle cx="103.40" cy="394.37" r="0.95" fill="#6b4c9a"/><circle cx="149.00" cy="394.37" r="0.95" fill="#6b4c9a"/><circle cx="194.60" cy="394.37" r="0.95" fill="#6b4c9a"/><circle cx="240.20" cy="394.37" r="0.95" fill="#6b4c9a"/><circle cx="285.80" cy="394.37" r="0.95" fill="#6b4c9a"/><circle cx="308.60" cy="394.37" r="0.95" fill="#6b4c9a"/><circle cx="320.00" cy="394.37" r="0.95" fill="#6b4c9a"/><circle cx="331.40" cy="394.37" r="0.95" fill="#6b4c9a"/><circle cx="365.60" cy="394.37" r="0.95" fill="#6b4c9a"/><circle cx="388.40" cy="394.37" r="0.95" fill="#6b4c9a"/><circle cx="411.20" cy="394.37" r="0.95" fill="#6b4c9a"/><circle cx="422.60" cy="394.37" r="0.95" fill="#6b4c9a"/><circle cx="434.00" cy="394.37" r="0.95" fill="#6b4c9a"/><circle cx="445.40" cy="394.37" r="0.95" fill="#6b4c9a"/><circle cx="456.80" cy="394.37" r="0.95" fill="#6b4c9a"/><circle cx="491.00" cy="394.37" r="0.95" fill="#6b4c9a"/><circle cx="206.00" cy="399.41" r="0.95" fill="#2b7f98"/><circle cx="479.60" cy="399.41" r="0.95" fill="#2b7f98"/><circle cx="92.00" cy="404.46" r="0.95" fill="#2b7f98"/><circle cx="160.40" cy="404.46" r="0.95" fill="#2b7f98"/><circle cx="354.20" cy="404.46" r="0.95" fill="#2b7f98"/><circle cx="377.00" cy="404.46" r="0.95" fill="#2b7f98"/><circle cx="399.80" cy="404.46" r="0.95" fill="#2b7f98"/><circle cx="468.20" cy="404.46" r="0.95" fill="#2b7f98"/><circle cx="57.80" cy="409.50" r="0.95" fill="#5f7a33"/><circle cx="137.60" cy="409.50" r="0.95" fill="#5f7a33"/><circle cx="160.40" cy="409.50" r="0.95" fill="#5f7a33"/><circle cx="194.60" cy="409.50" r="0.95" fill="#5f7a33"/><circle cx="217.40" cy="409.50" r="0.95" fill="#5f7a33"/><circle cx="263.00" cy="409.50" r="0.95" fill="#5f7a33"/><circle cx="274.40" cy="409.50" r="0.95" fill="#5f7a33"/><circle cx="297.20" cy="409.50" r="0.95" fill="#5f7a33"/><circle cx="320.00" cy="409.50" r="0.95" fill="#5f7a33"/><circle cx="365.60" cy="409.50" r="0.95" fill="#5f7a33"/><circle cx="411.20" cy="409.50" r="0.95" fill="#5f7a33"/><circle cx="434.00" cy="409.50" r="0.95" fill="#5f7a33"/><circle cx="445.40" cy="409.50" r="0.95" fill="#5f7a33"/><circle cx="502.40" cy="409.50" r="0.95" fill="#5f7a33"/><circle cx="114.80" cy="414.54" r="0.95" fill="#5f7a33"/><circle cx="171.80" cy="414.54" r="0.95" fill="#5f7a33"/><circle cx="251.60" cy="414.54" r="0.95" fill="#5f7a33"/><circle cx="297.20" cy="414.54" r="0.95" fill="#5f7a33"/><circle cx="308.60" cy="414.54" r="0.95" fill="#5f7a33"/><circle cx="342.80" cy="414.54" r="0.95" fill="#5f7a33"/><circle cx="388.40" cy="414.54" r="0.95" fill="#5f7a33"/><circle cx="422.60" cy="414.54" r="0.95" fill="#5f7a33"/><circle cx="434.00" cy="414.54" r="0.95" fill="#5f7a33"/><circle cx="456.80" cy="414.54" r="0.95" fill="#5f7a33"/><circle cx="502.40" cy="414.54" r="0.95" fill="#5f7a33"/><circle cx="149.00" cy="419.59" r="0.95" fill="#5f7a33"/><circle cx="228.80" cy="419.59" r="0.95" fill="#5f7a33"/><circle cx="285.80" cy="419.59" r="0.95" fill="#5f7a33"/><circle cx="365.60" cy="419.59" r="0.95" fill="#5f7a33"/><circle cx="377.00" cy="419.59" r="0.95" fill="#5f7a33"/><circle cx="411.20" cy="419.59" r="0.95" fill="#5f7a33"/><circle cx="422.60" cy="419.59" r="0.95" fill="#5f7a33"/><circle cx="434.00" cy="419.59" r="0.95" fill="#5f7a33"/><circle cx="456.80" cy="419.59" r="0.95" fill="#5f7a33"/><circle cx="491.00" cy="419.59" r="0.95" fill="#5f7a33"/><circle cx="126.20" cy="424.63" r="0.95" fill="#5f7a33"/><circle cx="263.00" cy="424.63" r="0.95" fill="#5f7a33"/><circle cx="354.20" cy="424.63" r="0.95" fill="#5f7a33"/><circle cx="69.20" cy="429.68" r="0.95" fill="#5f7a33"/><circle cx="171.80" cy="429.68" r="0.95" fill="#5f7a33"/><circle cx="183.20" cy="429.68" r="0.95" fill="#5f7a33"/><circle cx="217.40" cy="429.68" r="0.95" fill="#5f7a33"/><circle cx="274.40" cy="429.68" r="0.95" fill="#5f7a33"/><circle cx="331.40" cy="429.68" r="0.95" fill="#5f7a33"/><circle cx="342.80" cy="429.68" r="0.95" fill="#5f7a33"/><circle cx="388.40" cy="429.68" r="0.95" fill="#5f7a33"/><circle cx="399.80" cy="429.68" r="0.95" fill="#5f7a33"/><circle cx="411.20" cy="429.68" r="0.95" fill="#5f7a33"/><circle cx="434.00" cy="429.68" r="0.95" fill="#5f7a33"/><circle cx="445.40" cy="429.68" r="0.95" fill="#5f7a33"/><circle cx="456.80" cy="429.68" r="0.95" fill="#5f7a33"/><circle cx="479.60" cy="429.68" r="0.95" fill="#5f7a33"/><circle cx="491.00" cy="429.68" r="0.95" fill="#5f7a33"/><circle cx="502.40" cy="429.68" r="0.95" fill="#5f7a33"/><text x="0" y="0" font-size="9.3" fill="#111" text-anchor="middle" transform="translate(25.8,410.00) rotate(-90)" font-family="&quot;Liberation Sans&quot;, sans-serif">CD8</text><rect x="131.90" y="358.50" width="45.60" height="74.50" fill="none" stroke="#ffffff" stroke-width="1.3" opacity="0.6"/><rect x="131.90" y="358.50" width="45.60" height="74.50" fill="none" stroke="#3fae73" stroke-width="0.95" stroke-dasharray="1.3 1.9"/><rect x="188.90" y="358.50" width="34.20" height="74.50" fill="none" stroke="#ffffff" stroke-width="1.3" opacity="0.6"/><rect x="188.90" y="358.50" width="34.20" height="74.50" fill="none" stroke="#3fae73" stroke-width="0.95" stroke-dasharray="1.3 1.9"/><rect x="257.30" y="358.50" width="22.80" height="74.50" fill="none" stroke="#ffffff" stroke-width="1.3" opacity="0.6"/><rect x="257.30" y="358.50" width="22.80" height="74.50" fill="none" stroke="#3fae73" stroke-width="0.95" stroke-dasharray="1.3 1.9"/><rect x="291.50" y="358.50" width="11.40" height="74.50" fill="none" stroke="#ffffff" stroke-width="1.3" opacity="0.6"/><rect x="291.50" y="358.50" width="11.40" height="74.50" fill="none" stroke="#3fae73" stroke-width="0.95" stroke-dasharray="1.3 1.9"/><rect x="314.30" y="358.50" width="22.80" height="74.50" fill="none" stroke="#ffffff" stroke-width="1.3" opacity="0.6"/><rect x="314.30" y="358.50" width="22.80" height="74.50" fill="none" stroke="#3fae73" stroke-width="0.95" stroke-dasharray="1.3 1.9"/><rect x="348.50" y="358.50" width="22.80" height="74.50" fill="none" stroke="#ffffff" stroke-width="1.3" opacity="0.6"/><rect x="348.50" y="358.50" width="22.80" height="74.50" fill="none" stroke="#3fae73" stroke-width="0.95" stroke-dasharray="1.3 1.9"/><rect x="382.70" y="358.50" width="22.80" height="74.50" fill="none" stroke="#ffffff" stroke-width="1.3" opacity="0.6"/><rect x="382.70" y="358.50" width="22.80" height="74.50" fill="none" stroke="#3fae73" stroke-width="0.95" stroke-dasharray="1.3 1.9"/><rect x="439.70" y="358.50" width="11.40" height="74.50" fill="none" stroke="#ffffff" stroke-width="1.3" opacity="0.6"/><rect x="439.70" y="358.50" width="11.40" height="74.50" fill="none" stroke="#3fae73" stroke-width="0.95" stroke-dasharray="1.3 1.9"/><rect x="473.90" y="358.50" width="11.40" height="74.50" fill="none" stroke="#ffffff" stroke-width="1.3" opacity="0.6"/><rect x="473.90" y="358.50" width="11.40" height="74.50" fill="none" stroke="#3fae73" stroke-width="0.95" stroke-dasharray="1.3 1.9"/><rect x="496.70" y="358.50" width="14.00" height="74.50" fill="none" stroke="#ffffff" stroke-width="1.3" opacity="0.6"/><rect x="496.70" y="358.50" width="14.00" height="74.50" fill="none" stroke="#3fae73" stroke-width="0.95" stroke-dasharray="1.3 1.9"/><text x="94" y="448.6" font-size="5.9" fill="#222" font-family="&quot;Liberation Sans&quot;, sans-serif">Heat map squares indicate how often a combination of proteins was observed in a given samples (as a percentage of single cells):</text><rect x="157.5" y="462" width="5" height="5" fill="#f05a14"/><text x="167.5" y="466.6" font-size="5.2" fill="#333" font-family="&quot;Liberation Sans&quot;, sans-serif">5%</text><rect x="205.5" y="462" width="5" height="5" fill="#f57a3c"/><text x="215.5" y="466.6" font-size="5.2" fill="#333" font-family="&quot;Liberation Sans&quot;, sans-serif">2.5%</text><rect x="252.5" y="462" width="5" height="5" fill="#f9a07a"/><text x="262.5" y="466.6" font-size="5.2" fill="#333" font-family="&quot;Liberation Sans&quot;, sans-serif">1%</text><rect x="300" y="462" width="5" height="5" fill="#fbb08a"/><text x="310" y="466.6" font-size="5.2" fill="#333" font-family="&quot;Liberation Sans&quot;, sans-serif">0.5%</text><rect x="347.5" y="462" width="5" height="5" fill="#fdd0b8"/><text x="357.5" y="466.6" font-size="5.2" fill="#333" font-family="&quot;Liberation Sans&quot;, sans-serif">0.1%</text>
<rect x="0" y="0" width="520" height="1" fill="#000"/><rect x="0" y="0" width="1" height="476" fill="#000"/><rect x="518.5" y="0" width="1.5" height="476" fill="#000"/><rect x="0" y="474.5" width="520" height="1.5" fill="#000"/>
</svg></div></body></html>
